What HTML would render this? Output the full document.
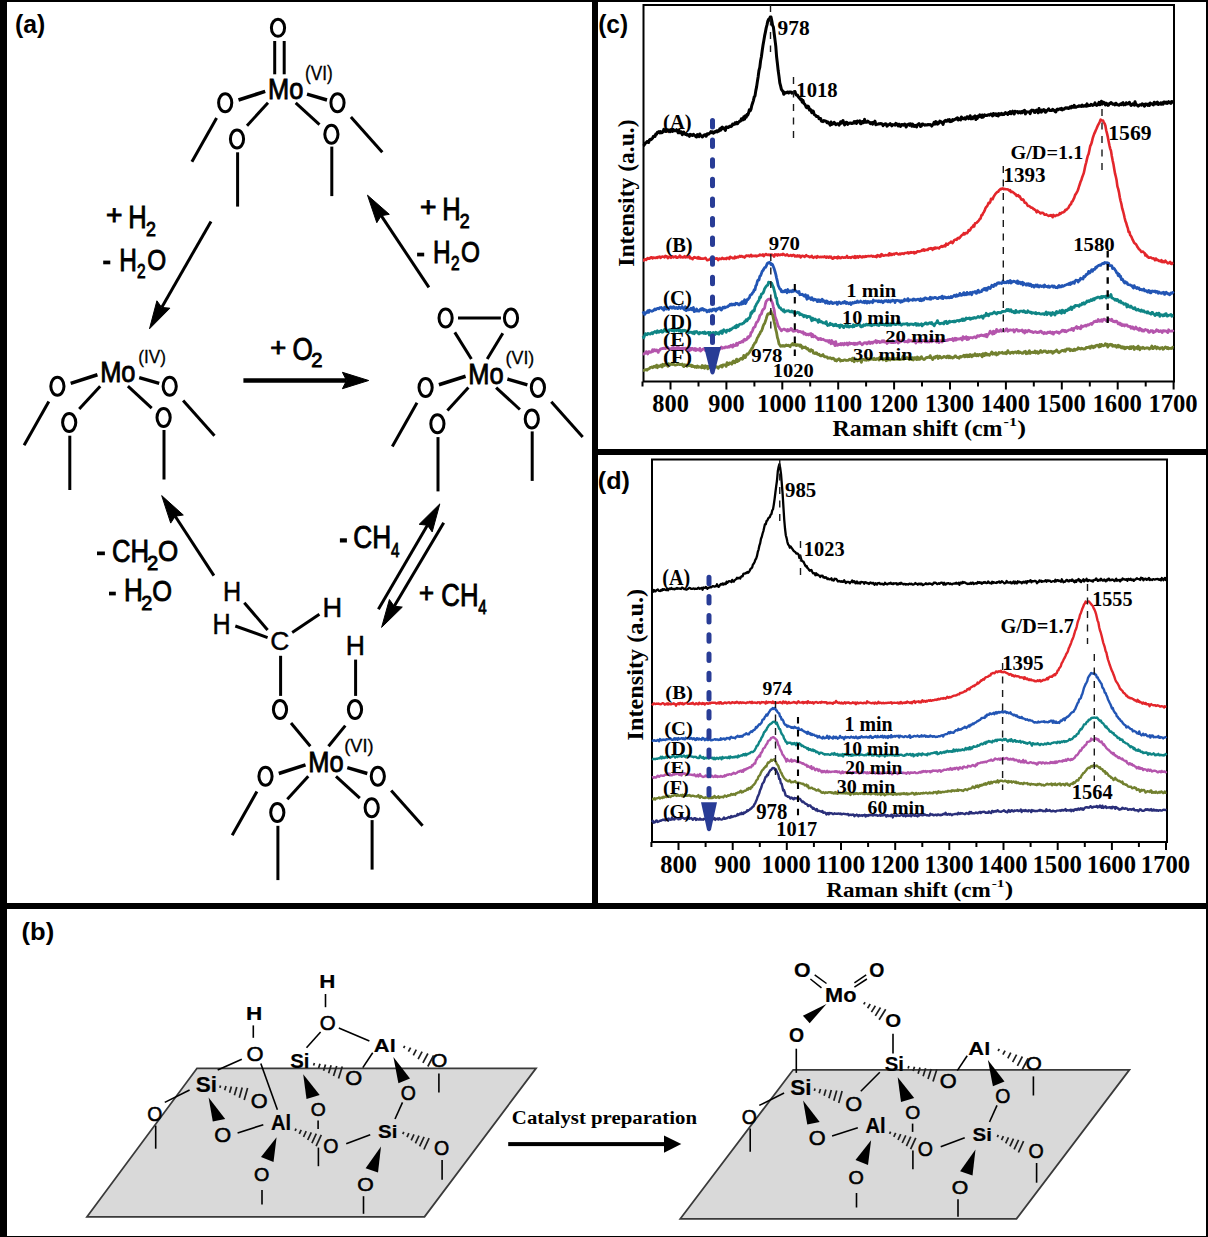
<!DOCTYPE html>
<html><head><meta charset="utf-8"><style>
html,body{margin:0;padding:0;background:#fff;width:1208px;height:1237px;overflow:hidden}
svg{display:block}
</style></head><body>
<svg width="1208" height="1237" viewBox="0 0 1208 1237">
<rect x="0" y="0" width="1208" height="1237" fill="#000"/>
<rect x="7" y="2" width="585" height="901" fill="#fff"/>
<rect x="598" y="2" width="608" height="447" fill="#fff"/>
<rect x="598" y="455" width="608" height="448" fill="#fff"/>
<rect x="7" y="909" width="1199" height="327" fill="#fff"/>
<text transform="translate(14.88,32.72) scale(0.986,1)" font-family="Liberation Sans" font-weight="bold" font-size="25.13" fill="#000" >(a)</text>
<text transform="translate(598.20,32.72) scale(0.975,1)" font-family="Liberation Sans" font-weight="bold" font-size="25.13" fill="#000" >(c)</text>
<text transform="translate(597.87,488.83) scale(1.022,1)" font-family="Liberation Sans" font-weight="bold" font-size="24.60" fill="#000" >(d)</text>
<text transform="translate(21.55,939.79) scale(1.030,1)" font-family="Liberation Sans" font-weight="bold" font-size="24.81" fill="#000" >(b)</text>
<rect x="643.5" y="5" width="530.5" height="376.5" fill="none" stroke="#000" stroke-width="2"/>
<line x1="642.5" y1="381.5" x2="642.5" y2="386.5" stroke="#000" stroke-width="2"/>
<line x1="670.5" y1="381.5" x2="670.5" y2="389.5" stroke="#000" stroke-width="2"/>
<line x1="698.5" y1="381.5" x2="698.5" y2="386.5" stroke="#000" stroke-width="2"/>
<line x1="726.4" y1="381.5" x2="726.4" y2="389.5" stroke="#000" stroke-width="2"/>
<line x1="754.4" y1="381.5" x2="754.4" y2="386.5" stroke="#000" stroke-width="2"/>
<line x1="782.3" y1="381.5" x2="782.3" y2="389.5" stroke="#000" stroke-width="2"/>
<line x1="810.2" y1="381.5" x2="810.2" y2="386.5" stroke="#000" stroke-width="2"/>
<line x1="838.2" y1="381.5" x2="838.2" y2="389.5" stroke="#000" stroke-width="2"/>
<line x1="866.1" y1="381.5" x2="866.1" y2="386.5" stroke="#000" stroke-width="2"/>
<line x1="894.1" y1="381.5" x2="894.1" y2="389.5" stroke="#000" stroke-width="2"/>
<line x1="922.0" y1="381.5" x2="922.0" y2="386.5" stroke="#000" stroke-width="2"/>
<line x1="950.0" y1="381.5" x2="950.0" y2="389.5" stroke="#000" stroke-width="2"/>
<line x1="978.0" y1="381.5" x2="978.0" y2="386.5" stroke="#000" stroke-width="2"/>
<line x1="1005.9" y1="381.5" x2="1005.9" y2="389.5" stroke="#000" stroke-width="2"/>
<line x1="1033.8" y1="381.5" x2="1033.8" y2="386.5" stroke="#000" stroke-width="2"/>
<line x1="1061.8" y1="381.5" x2="1061.8" y2="389.5" stroke="#000" stroke-width="2"/>
<line x1="1089.8" y1="381.5" x2="1089.8" y2="386.5" stroke="#000" stroke-width="2"/>
<line x1="1117.7" y1="381.5" x2="1117.7" y2="389.5" stroke="#000" stroke-width="2"/>
<line x1="1145.7" y1="381.5" x2="1145.7" y2="386.5" stroke="#000" stroke-width="2"/>
<line x1="1173.6" y1="381.5" x2="1173.6" y2="389.5" stroke="#000" stroke-width="2"/>
<text transform="translate(652.27,412.26) scale(0.998,1)" font-family="Liberation Serif" font-weight="bold" font-size="24.44" fill="#000" >800</text>
<text transform="translate(708.29,412.26) scale(0.994,1)" font-family="Liberation Serif" font-weight="bold" font-size="24.44" fill="#000" >900</text>
<text transform="translate(757.08,412.26) scale(1.009,1)" font-family="Liberation Serif" font-weight="bold" font-size="24.44" fill="#000" >1000</text>
<text transform="translate(812.92,412.26) scale(1.039,1)" font-family="Liberation Serif" font-weight="bold" font-size="24.44" fill="#000" >1100</text>
<text transform="translate(868.88,412.26) scale(1.009,1)" font-family="Liberation Serif" font-weight="bold" font-size="24.44" fill="#000" >1200</text>
<text transform="translate(924.78,412.26) scale(1.009,1)" font-family="Liberation Serif" font-weight="bold" font-size="24.44" fill="#000" >1300</text>
<text transform="translate(980.68,412.26) scale(1.009,1)" font-family="Liberation Serif" font-weight="bold" font-size="24.44" fill="#000" >1400</text>
<text transform="translate(1036.58,412.26) scale(1.009,1)" font-family="Liberation Serif" font-weight="bold" font-size="24.44" fill="#000" >1500</text>
<text transform="translate(1092.48,412.26) scale(1.009,1)" font-family="Liberation Serif" font-weight="bold" font-size="24.44" fill="#000" >1600</text>
<text transform="translate(1148.38,412.26) scale(1.009,1)" font-family="Liberation Serif" font-weight="bold" font-size="24.44" fill="#000" >1700</text>
<text transform="translate(832.44,435.50) scale(1.059,1)" font-family="Liberation Serif" font-weight="bold" font-size="22.60" fill="#000" >Raman shift (cm</text>
<text transform="translate(1003.54,425.90) scale(1.224,1)" font-family="Liberation Serif" font-weight="bold" font-size="13.18" fill="#000" >-1</text>
<text transform="translate(1017.20,435.07) scale(1.208,1)" font-family="Liberation Serif" font-weight="bold" font-size="21.98" fill="#000" >)</text>
<text transform="translate(633.98,266.71) rotate(-90) scale(1.051,1)" font-family="Liberation Serif" font-weight="bold" font-size="22.42">Intensity (a.u.)</text>
<g id="chartc">
<polyline fill="none" stroke="#000" stroke-width="3.0" stroke-linejoin="round" points="643.0,145.8 643.8,145.5 644.6,144.3 645.4,142.9 646.2,142.7 647.0,141.5 647.8,141.8 648.6,142.5 649.4,140.0 650.2,139.2 651.0,139.7 651.8,138.9 652.6,138.0 653.4,136.3 654.2,136.5 655.0,136.6 655.8,134.0 656.6,134.3 657.4,132.3 658.2,132.5 659.0,131.6 659.8,132.9 660.6,131.6 661.4,132.8 662.2,132.5 663.0,131.9 663.8,129.4 664.6,131.2 665.4,131.4 666.2,131.4 667.0,129.6 667.8,130.5 668.6,129.9 669.4,129.9 670.2,131.7 671.0,129.8 671.8,130.5 672.6,131.4 673.4,129.9 674.2,130.5 675.0,130.8 675.8,130.8 676.6,129.7 677.4,131.2 678.2,132.7 679.0,130.1 679.8,132.7 680.6,132.3 681.4,131.8 682.2,134.7 683.0,133.8 683.8,132.1 684.6,133.6 685.4,134.4 686.2,133.9 687.0,135.0 687.8,134.5 688.6,135.4 689.4,136.3 690.2,134.3 691.0,135.3 691.8,134.8 692.6,135.5 693.4,134.3 694.2,135.0 695.0,135.5 695.8,136.7 696.6,137.0 697.4,134.6 698.2,135.2 699.0,136.6 699.8,134.0 700.6,135.5 701.4,135.8 702.2,137.0 703.0,136.3 703.8,135.1 704.6,134.8 705.4,134.7 706.2,136.2 707.0,133.9 707.8,133.7 708.6,134.1 709.4,133.3 710.2,132.9 711.0,131.7 711.8,132.6 712.6,131.9 713.4,133.2 714.2,132.5 715.0,131.6 715.8,132.0 716.6,130.8 717.4,131.9 718.2,130.6 719.0,130.9 719.8,128.8 720.6,130.2 721.4,127.9 722.2,127.2 723.0,128.7 723.8,127.8 724.6,128.6 725.4,130.4 726.2,127.0 727.0,126.9 727.8,127.4 728.6,127.4 729.4,126.4 730.2,126.0 731.0,126.6 731.8,126.0 732.6,124.1 733.4,124.7 734.2,124.4 735.0,122.9 735.8,123.9 736.6,122.4 737.4,123.8 738.2,122.6 739.0,122.1 739.8,121.0 740.6,121.1 741.4,118.7 742.2,119.1 743.0,120.0 743.8,116.9 744.6,119.2 745.4,115.8 746.2,117.3 747.0,114.6 747.8,115.0 748.6,112.9 749.4,109.7 750.2,110.8 751.0,109.1 751.8,105.5 752.6,103.0 753.4,100.6 754.2,97.0 755.0,95.9 755.8,90.6 756.6,86.9 757.4,81.4 758.2,76.4 759.0,70.3 759.8,67.4 760.6,60.7 761.4,56.7 762.2,50.8 763.0,45.3 763.8,40.8 764.6,35.9 765.4,32.1 766.2,27.9 767.0,24.9 767.8,21.1 768.6,19.4 769.4,20.1 770.2,17.0 771.0,17.1 771.8,20.8 772.6,25.4 773.4,27.1 774.2,33.7 775.0,39.9 775.8,46.4 776.6,56.8 777.4,63.5 778.2,70.8 779.0,76.4 779.8,82.9 780.6,85.9 781.4,89.3 782.2,90.5 783.0,91.4 783.8,94.3 784.6,92.4 785.4,93.1 786.2,92.7 787.0,92.2 787.8,92.0 788.6,93.0 789.4,92.0 790.2,92.0 791.0,92.1 791.8,93.2 792.6,92.7 793.4,92.5 794.2,91.8 795.0,91.5 795.8,94.4 796.6,95.2 797.4,95.0 798.2,96.6 799.0,97.7 799.8,98.6 800.6,99.6 801.4,99.1 802.2,102.1 803.0,100.3 803.8,103.4 804.6,104.0 805.4,105.3 806.2,107.3 807.0,107.8 807.8,106.1 808.6,106.5 809.4,109.9 810.2,109.0 811.0,110.9 811.8,112.6 812.6,110.9 813.4,111.3 814.2,114.5 815.0,115.0 815.8,115.5 816.6,116.6 817.4,116.5 818.2,116.7 819.0,118.7 819.8,118.6 820.6,118.5 821.4,121.1 822.2,120.9 823.0,121.6 823.8,120.5 824.6,121.1 825.4,121.0 826.2,121.3 827.0,122.6 827.8,121.9 828.6,123.2 829.4,123.4 830.2,125.2 831.0,122.0 831.8,124.4 832.6,123.5 833.4,123.7 834.2,122.4 835.0,123.4 835.8,124.7 836.6,123.9 837.4,124.1 838.2,123.7 839.0,125.1 839.8,123.9 840.6,121.7 841.4,123.2 842.2,121.9 843.0,120.5 843.8,123.2 844.6,125.0 845.4,123.6 846.2,122.3 847.0,122.4 847.8,124.4 848.6,123.4 849.4,123.2 850.2,123.0 851.0,123.0 851.8,123.6 852.6,123.3 853.4,122.9 854.2,121.5 855.0,123.0 855.8,121.7 856.6,123.4 857.4,121.0 858.2,122.0 859.0,122.1 859.8,120.8 860.6,123.8 861.4,123.5 862.2,121.5 863.0,122.8 863.8,122.4 864.6,119.4 865.4,122.3 866.2,122.0 867.0,122.2 867.8,121.1 868.6,122.0 869.4,122.2 870.2,123.6 871.0,122.8 871.8,122.6 872.6,124.2 873.4,122.2 874.2,122.5 875.0,121.2 875.8,124.7 876.6,124.2 877.4,124.2 878.2,124.1 879.0,123.7 879.8,123.9 880.6,123.5 881.4,123.7 882.2,124.1 883.0,125.6 883.8,124.8 884.6,124.2 885.4,123.8 886.2,123.9 887.0,126.2 887.8,125.2 888.6,124.8 889.4,124.4 890.2,123.7 891.0,124.8 891.8,125.8 892.6,124.6 893.4,124.8 894.2,124.8 895.0,125.1 895.8,123.4 896.6,124.8 897.4,124.1 898.2,125.9 899.0,124.2 899.8,125.6 900.6,126.5 901.4,124.7 902.2,124.4 903.0,125.2 903.8,125.0 904.6,124.0 905.4,125.5 906.2,127.0 907.0,124.7 907.8,124.8 908.6,124.0 909.4,125.3 910.2,123.8 911.0,123.9 911.8,126.3 912.6,124.1 913.4,126.1 914.2,126.5 915.0,125.3 915.8,125.6 916.6,127.0 917.4,124.8 918.2,124.4 919.0,123.6 919.8,125.0 920.6,126.5 921.4,126.0 922.2,124.1 923.0,124.1 923.8,124.5 924.6,125.3 925.4,124.7 926.2,125.1 927.0,125.1 927.8,124.5 928.6,124.6 929.4,124.8 930.2,124.4 931.0,124.9 931.8,126.1 932.6,124.7 933.4,124.1 934.2,122.2 935.0,124.1 935.8,121.6 936.6,122.0 937.4,124.1 938.2,123.8 939.0,122.8 939.8,121.1 940.6,122.3 941.4,121.8 942.2,122.9 943.0,124.4 943.8,122.1 944.6,121.0 945.4,120.4 946.2,121.3 947.0,121.0 947.8,119.9 948.6,121.0 949.4,119.6 950.2,121.7 951.0,121.4 951.8,121.3 952.6,119.6 953.4,120.4 954.2,119.7 955.0,119.3 955.8,119.2 956.6,118.1 957.4,117.8 958.2,120.0 959.0,118.9 959.8,119.2 960.6,119.9 961.4,117.0 962.2,117.9 963.0,118.7 963.8,118.8 964.6,117.9 965.4,119.2 966.2,118.3 967.0,116.8 967.8,117.0 968.6,118.6 969.4,118.2 970.2,115.7 971.0,118.9 971.8,118.0 972.6,118.7 973.4,116.8 974.2,116.8 975.0,115.9 975.8,119.5 976.6,116.7 977.4,118.4 978.2,116.0 979.0,116.7 979.8,114.8 980.6,116.0 981.4,117.3 982.2,115.0 983.0,117.2 983.8,116.4 984.6,114.9 985.4,115.4 986.2,115.3 987.0,115.6 987.8,115.1 988.6,114.7 989.4,115.1 990.2,114.3 991.0,114.0 991.8,115.1 992.6,116.0 993.4,113.5 994.2,114.9 995.0,114.2 995.8,113.8 996.6,115.5 997.4,114.0 998.2,116.0 999.0,113.6 999.8,114.7 1000.6,114.0 1001.4,113.4 1002.2,114.6 1003.0,113.8 1003.8,114.5 1004.6,113.8 1005.4,112.6 1006.2,113.5 1007.0,113.6 1007.8,114.4 1008.6,112.5 1009.4,113.3 1010.2,111.5 1011.0,113.8 1011.8,112.0 1012.6,111.2 1013.4,112.9 1014.2,114.0 1015.0,111.3 1015.8,111.7 1016.6,111.9 1017.4,111.5 1018.2,112.9 1019.0,111.7 1019.8,111.7 1020.6,113.0 1021.4,111.6 1022.2,112.7 1023.0,111.2 1023.8,110.9 1024.6,110.3 1025.4,113.9 1026.2,111.7 1027.0,112.2 1027.8,111.9 1028.6,112.0 1029.4,111.9 1030.2,113.7 1031.0,110.7 1031.8,110.1 1032.6,110.6 1033.4,110.3 1034.2,112.3 1035.0,112.4 1035.8,110.5 1036.6,110.1 1037.4,111.1 1038.2,112.8 1039.0,108.5 1039.8,111.8 1040.6,110.2 1041.4,112.2 1042.2,110.1 1043.0,110.8 1043.8,109.6 1044.6,110.0 1045.4,112.3 1046.2,111.7 1047.0,110.5 1047.8,109.9 1048.6,108.8 1049.4,110.3 1050.2,110.6 1051.0,110.5 1051.8,110.4 1052.6,109.3 1053.4,110.3 1054.2,110.2 1055.0,111.5 1055.8,112.0 1056.6,109.9 1057.4,109.1 1058.2,109.7 1059.0,109.1 1059.8,108.8 1060.6,109.4 1061.4,108.3 1062.2,109.9 1063.0,109.0 1063.8,109.3 1064.6,108.7 1065.4,108.0 1066.2,107.7 1067.0,108.3 1067.8,107.8 1068.6,108.5 1069.4,108.1 1070.2,106.7 1071.0,108.0 1071.8,106.4 1072.6,107.0 1073.4,107.2 1074.2,105.3 1075.0,107.3 1075.8,107.3 1076.6,106.9 1077.4,106.5 1078.2,106.4 1079.0,105.7 1079.8,106.3 1080.6,105.9 1081.4,106.4 1082.2,105.0 1083.0,106.3 1083.8,106.2 1084.6,105.8 1085.4,105.4 1086.2,106.2 1087.0,103.9 1087.8,105.9 1088.6,105.6 1089.4,105.5 1090.2,105.5 1091.0,104.3 1091.8,104.6 1092.6,105.4 1093.4,105.0 1094.2,104.7 1095.0,102.9 1095.8,104.8 1096.6,105.4 1097.4,105.1 1098.2,104.2 1099.0,102.4 1099.8,104.8 1100.6,103.6 1101.4,101.2 1102.2,104.1 1103.0,102.2 1103.8,102.3 1104.6,103.0 1105.4,104.9 1106.2,103.2 1107.0,103.9 1107.8,105.4 1108.6,105.2 1109.4,103.6 1110.2,103.5 1111.0,102.5 1111.8,103.1 1112.6,104.2 1113.4,104.2 1114.2,104.0 1115.0,104.9 1115.8,103.2 1116.6,103.9 1117.4,104.8 1118.2,104.7 1119.0,105.2 1119.8,104.6 1120.6,103.9 1121.4,104.6 1122.2,103.3 1123.0,102.7 1123.8,104.9 1124.6,104.3 1125.4,104.7 1126.2,102.7 1127.0,104.1 1127.8,103.9 1128.6,103.6 1129.4,102.2 1130.2,104.2 1131.0,105.4 1131.8,104.9 1132.6,103.9 1133.4,104.5 1134.2,105.2 1135.0,101.7 1135.8,104.3 1136.6,105.0 1137.4,105.1 1138.2,106.1 1139.0,105.5 1139.8,104.7 1140.6,104.7 1141.4,105.1 1142.2,103.8 1143.0,104.3 1143.8,105.2 1144.6,106.2 1145.4,104.0 1146.2,104.1 1147.0,104.3 1147.8,105.4 1148.6,104.0 1149.4,105.5 1150.2,103.0 1151.0,103.8 1151.8,103.7 1152.6,104.6 1153.4,104.9 1154.2,102.3 1155.0,102.8 1155.8,104.0 1156.6,102.9 1157.4,102.0 1158.2,104.5 1159.0,103.9 1159.8,103.9 1160.6,102.8 1161.4,104.3 1162.2,102.9 1163.0,104.2 1163.8,102.1 1164.6,102.1 1165.4,103.1 1166.2,102.1 1167.0,103.4 1167.8,102.9 1168.6,101.7 1169.4,102.6 1170.2,102.1 1171.0,103.3 1171.8,101.6 1172.6,101.7 1173.4,103.3"/>
<polyline fill="none" stroke="#e3262b" stroke-width="2.6" stroke-linejoin="round" points="643.0,260.7 643.8,260.5 644.6,259.3 645.4,259.2 646.2,259.9 647.0,258.8 647.8,258.1 648.6,258.7 649.4,258.8 650.2,257.9 651.0,257.3 651.8,257.3 652.6,258.4 653.4,257.5 654.2,257.8 655.0,257.9 655.8,258.0 656.6,257.4 657.4,257.8 658.2,256.9 659.0,257.1 659.8,256.6 660.6,257.9 661.4,257.1 662.2,256.6 663.0,256.8 663.8,256.8 664.6,257.3 665.4,255.9 666.2,256.2 667.0,256.5 667.8,258.2 668.6,257.3 669.4,256.6 670.2,257.1 671.0,257.9 671.8,256.5 672.6,256.4 673.4,257.3 674.2,256.9 675.0,257.0 675.8,256.3 676.6,257.8 677.4,257.7 678.2,257.1 679.0,257.2 679.8,255.6 680.6,257.3 681.4,256.8 682.2,257.2 683.0,257.5 683.8,256.9 684.6,256.2 685.4,257.5 686.2,256.9 687.0,257.2 687.8,257.1 688.6,257.3 689.4,256.2 690.2,258.4 691.0,257.9 691.8,258.5 692.6,259.1 693.4,258.0 694.2,257.0 695.0,257.6 695.8,257.5 696.6,258.0 697.4,258.4 698.2,257.2 699.0,258.7 699.8,257.7 700.6,258.8 701.4,258.6 702.2,258.6 703.0,258.7 703.8,258.5 704.6,258.5 705.4,257.9 706.2,258.9 707.0,260.1 707.8,260.2 708.6,259.8 709.4,259.4 710.2,258.6 711.0,259.9 711.8,258.9 712.6,258.9 713.4,258.8 714.2,259.0 715.0,258.6 715.8,258.8 716.6,258.2 717.4,258.6 718.2,260.1 719.0,258.7 719.8,258.6 720.6,259.0 721.4,259.0 722.2,257.9 723.0,258.4 723.8,259.0 724.6,258.6 725.4,258.4 726.2,259.2 727.0,257.8 727.8,258.2 728.6,257.8 729.4,258.9 730.2,256.8 731.0,257.5 731.8,257.5 732.6,258.1 733.4,258.0 734.2,258.4 735.0,256.6 735.8,257.9 736.6,257.2 737.4,256.9 738.2,257.5 739.0,256.6 739.8,255.8 740.6,256.7 741.4,256.0 742.2,256.4 743.0,257.0 743.8,256.8 744.6,257.5 745.4,256.4 746.2,255.5 747.0,255.9 747.8,255.7 748.6,255.5 749.4,256.4 750.2,255.7 751.0,254.8 751.8,256.3 752.6,255.8 753.4,256.0 754.2,255.8 755.0,256.1 755.8,255.6 756.6,256.3 757.4,255.8 758.2,255.7 759.0,255.6 759.8,254.5 760.6,255.2 761.4,255.1 762.2,255.4 763.0,254.4 763.8,256.1 764.6,255.2 765.4,254.4 766.2,254.0 767.0,254.9 767.8,255.0 768.6,254.6 769.4,255.1 770.2,254.6 771.0,255.3 771.8,254.6 772.6,255.0 773.4,255.6 774.2,256.6 775.0,254.4 775.8,254.8 776.6,254.5 777.4,255.5 778.2,254.4 779.0,254.8 779.8,255.1 780.6,254.5 781.4,254.6 782.2,254.9 783.0,253.9 783.8,254.4 784.6,255.0 785.4,255.4 786.2,255.2 787.0,254.3 787.8,255.1 788.6,255.9 789.4,255.8 790.2,255.4 791.0,255.0 791.8,255.9 792.6,255.2 793.4,254.9 794.2,255.2 795.0,256.5 795.8,255.8 796.6,256.4 797.4,255.5 798.2,256.4 799.0,255.5 799.8,255.8 800.6,257.4 801.4,256.4 802.2,255.7 803.0,256.0 803.8,256.3 804.6,256.9 805.4,255.9 806.2,255.2 807.0,256.1 807.8,256.3 808.6,256.4 809.4,257.2 810.2,256.6 811.0,257.0 811.8,255.9 812.6,257.1 813.4,257.9 814.2,257.1 815.0,256.8 815.8,256.8 816.6,257.8 817.4,256.2 818.2,256.8 819.0,257.1 819.8,257.3 820.6,256.7 821.4,257.2 822.2,256.8 823.0,257.1 823.8,257.0 824.6,256.4 825.4,257.1 826.2,257.7 827.0,256.6 827.8,257.1 828.6,257.6 829.4,256.6 830.2,257.4 831.0,256.6 831.8,258.0 832.6,258.7 833.4,258.5 834.2,257.2 835.0,257.8 835.8,257.4 836.6,257.4 837.4,258.3 838.2,256.6 839.0,258.0 839.8,257.4 840.6,258.2 841.4,257.5 842.2,257.0 843.0,257.5 843.8,257.8 844.6,257.4 845.4,257.6 846.2,257.0 847.0,256.0 847.8,257.8 848.6,257.7 849.4,257.4 850.2,257.3 851.0,257.8 851.8,256.9 852.6,256.7 853.4,257.0 854.2,257.8 855.0,256.2 855.8,257.8 856.6,256.6 857.4,256.3 858.2,257.7 859.0,256.8 859.8,256.1 860.6,256.6 861.4,257.3 862.2,257.4 863.0,256.4 863.8,256.9 864.6,257.0 865.4,256.2 866.2,256.7 867.0,256.4 867.8,256.1 868.6,256.0 869.4,256.3 870.2,256.2 871.0,255.8 871.8,255.9 872.6,256.7 873.4,256.1 874.2,256.5 875.0,256.6 875.8,256.2 876.6,257.1 877.4,255.2 878.2,256.1 879.0,255.4 879.8,256.6 880.6,256.5 881.4,254.2 882.2,254.7 883.0,255.6 883.8,255.6 884.6,255.5 885.4,255.0 886.2,255.2 887.0,255.3 887.8,254.8 888.6,255.4 889.4,253.3 890.2,255.0 891.0,253.9 891.8,255.0 892.6,254.2 893.4,253.8 894.2,254.5 895.0,253.6 895.8,253.5 896.6,253.1 897.4,253.9 898.2,254.2 899.0,254.4 899.8,253.6 900.6,254.3 901.4,253.6 902.2,253.4 903.0,253.8 903.8,254.0 904.6,253.0 905.4,253.0 906.2,253.0 907.0,253.0 907.8,252.4 908.6,253.4 909.4,252.5 910.2,252.9 911.0,252.0 911.8,252.6 912.6,252.5 913.4,252.0 914.2,253.3 915.0,252.2 915.8,252.9 916.6,252.3 917.4,251.2 918.2,251.3 919.0,251.7 919.8,251.3 920.6,251.2 921.4,250.8 922.2,249.8 923.0,250.6 923.8,249.3 924.6,250.7 925.4,249.9 926.2,249.7 927.0,249.9 927.8,250.0 928.6,248.8 929.4,248.5 930.2,248.7 931.0,248.0 931.8,248.5 932.6,249.8 933.4,248.1 934.2,248.9 935.0,247.5 935.8,248.3 936.6,247.8 937.4,247.7 938.2,247.9 939.0,248.4 939.8,247.3 940.6,247.0 941.4,246.1 942.2,246.8 943.0,246.0 943.8,246.4 944.6,245.5 945.4,246.3 946.2,243.7 947.0,244.4 947.8,244.7 948.6,243.6 949.4,242.9 950.2,242.8 951.0,241.7 951.8,242.2 952.6,243.1 953.4,241.9 954.2,240.1 955.0,239.8 955.8,239.6 956.6,239.9 957.4,238.3 958.2,237.9 959.0,238.4 959.8,237.8 960.6,236.6 961.4,235.6 962.2,234.8 963.0,234.7 963.8,233.2 964.6,234.4 965.4,233.0 966.2,233.1 967.0,233.3 967.8,232.2 968.6,230.1 969.4,230.6 970.2,230.1 971.0,228.2 971.8,227.3 972.6,227.1 973.4,225.4 974.2,226.4 975.0,223.2 975.8,223.2 976.6,222.8 977.4,221.9 978.2,221.2 979.0,220.2 979.8,218.9 980.6,218.5 981.4,215.3 982.2,215.2 983.0,213.2 983.8,212.2 984.6,210.7 985.4,208.4 986.2,207.0 987.0,206.4 987.8,204.7 988.6,202.8 989.4,203.2 990.2,202.2 991.0,198.9 991.8,198.9 992.6,199.2 993.4,197.2 994.2,195.8 995.0,194.6 995.8,193.5 996.6,192.8 997.4,191.8 998.2,191.8 999.0,190.4 999.8,189.8 1000.6,188.9 1001.4,189.2 1002.2,188.4 1003.0,188.6 1003.8,189.3 1004.6,188.9 1005.4,189.1 1006.2,189.2 1007.0,189.3 1007.8,189.5 1008.6,189.8 1009.4,190.8 1010.2,190.2 1011.0,192.1 1011.8,191.9 1012.6,191.9 1013.4,192.7 1014.2,193.1 1015.0,194.2 1015.8,194.3 1016.6,196.0 1017.4,195.4 1018.2,195.1 1019.0,196.6 1019.8,196.4 1020.6,198.2 1021.4,199.5 1022.2,199.9 1023.0,199.4 1023.8,200.4 1024.6,202.6 1025.4,202.5 1026.2,203.1 1027.0,204.4 1027.8,206.0 1028.6,206.0 1029.4,206.0 1030.2,206.9 1031.0,207.7 1031.8,207.6 1032.6,207.9 1033.4,209.1 1034.2,209.0 1035.0,210.0 1035.8,210.5 1036.6,212.3 1037.4,210.7 1038.2,211.6 1039.0,211.9 1039.8,212.7 1040.6,213.4 1041.4,212.8 1042.2,213.0 1043.0,212.8 1043.8,213.6 1044.6,214.8 1045.4,214.8 1046.2,214.4 1047.0,215.0 1047.8,215.5 1048.6,216.0 1049.4,215.5 1050.2,215.8 1051.0,215.0 1051.8,215.5 1052.6,217.2 1053.4,214.9 1054.2,215.9 1055.0,216.1 1055.8,215.6 1056.6,215.1 1057.4,215.3 1058.2,215.0 1059.0,214.6 1059.8,213.2 1060.6,213.8 1061.4,212.9 1062.2,212.5 1063.0,212.4 1063.8,212.0 1064.6,211.4 1065.4,209.8 1066.2,209.9 1067.0,209.2 1067.8,208.4 1068.6,207.6 1069.4,205.7 1070.2,204.7 1071.0,204.2 1071.8,201.6 1072.6,201.3 1073.4,199.4 1074.2,197.9 1075.0,195.3 1075.8,194.0 1076.6,192.7 1077.4,191.3 1078.2,189.3 1079.0,186.5 1079.8,184.3 1080.6,181.6 1081.4,180.0 1082.2,177.2 1083.0,175.1 1083.8,173.1 1084.6,169.2 1085.4,165.3 1086.2,162.5 1087.0,158.9 1087.8,155.7 1088.6,154.0 1089.4,150.2 1090.2,146.2 1091.0,144.6 1091.8,142.3 1092.6,138.7 1093.4,136.1 1094.2,133.9 1095.0,132.1 1095.8,130.2 1096.6,128.5 1097.4,126.6 1098.2,124.8 1099.0,123.4 1099.8,121.7 1100.6,119.6 1101.4,120.1 1102.2,120.5 1103.0,120.6 1103.8,122.5 1104.6,123.5 1105.4,125.7 1106.2,130.3 1107.0,133.4 1107.8,136.9 1108.6,141.2 1109.4,145.2 1110.2,148.6 1111.0,150.9 1111.8,156.0 1112.6,160.2 1113.4,163.9 1114.2,168.7 1115.0,173.4 1115.8,176.5 1116.6,180.3 1117.4,186.3 1118.2,188.9 1119.0,192.4 1119.8,197.2 1120.6,201.0 1121.4,204.0 1122.2,208.4 1123.0,211.0 1123.8,214.0 1124.6,217.7 1125.4,221.0 1126.2,222.9 1127.0,226.0 1127.8,228.1 1128.6,232.0 1129.4,231.9 1130.2,235.1 1131.0,236.0 1131.8,237.6 1132.6,239.7 1133.4,241.2 1134.2,242.8 1135.0,243.5 1135.8,244.1 1136.6,245.2 1137.4,246.9 1138.2,247.9 1139.0,249.3 1139.8,249.6 1140.6,250.8 1141.4,251.9 1142.2,251.8 1143.0,251.6 1143.8,252.5 1144.6,253.0 1145.4,255.5 1146.2,254.6 1147.0,256.4 1147.8,256.6 1148.6,257.7 1149.4,257.7 1150.2,257.4 1151.0,257.6 1151.8,258.1 1152.6,258.5 1153.4,258.3 1154.2,258.9 1155.0,260.2 1155.8,258.5 1156.6,259.9 1157.4,259.5 1158.2,260.4 1159.0,261.0 1159.8,260.7 1160.6,261.4 1161.4,260.2 1162.2,262.1 1163.0,261.2 1163.8,262.1 1164.6,262.1 1165.4,260.6 1166.2,261.8 1167.0,262.5 1167.8,263.4 1168.6,262.8 1169.4,262.9 1170.2,261.9 1171.0,263.7 1171.8,264.0 1172.6,263.0 1173.4,262.8"/>
<polyline fill="none" stroke="#2255b4" stroke-width="2.8" stroke-linejoin="round" points="643.0,311.4 643.8,313.3 644.6,314.5 645.4,312.7 646.2,313.0 647.0,312.2 647.8,310.8 648.6,312.4 649.4,310.2 650.2,310.8 651.0,311.0 651.8,311.3 652.6,310.8 653.4,310.6 654.2,309.5 655.0,308.9 655.8,309.8 656.6,309.0 657.4,308.4 658.2,308.3 659.0,308.8 659.8,307.6 660.6,307.8 661.4,307.5 662.2,308.8 663.0,308.9 663.8,310.1 664.6,307.2 665.4,307.8 666.2,309.0 667.0,308.0 667.8,307.8 668.6,309.4 669.4,307.7 670.2,307.0 671.0,306.9 671.8,308.2 672.6,308.2 673.4,306.8 674.2,307.1 675.0,308.4 675.8,308.4 676.6,307.5 677.4,308.5 678.2,308.5 679.0,306.7 679.8,307.9 680.6,308.5 681.4,307.8 682.2,306.6 683.0,308.1 683.8,309.0 684.6,309.8 685.4,306.8 686.2,310.7 687.0,307.8 687.8,309.6 688.6,309.9 689.4,309.7 690.2,309.2 691.0,308.2 691.8,309.7 692.6,308.7 693.4,307.4 694.2,311.7 695.0,310.1 695.8,311.1 696.6,309.0 697.4,310.9 698.2,311.1 699.0,311.1 699.8,309.9 700.6,309.1 701.4,309.9 702.2,308.4 703.0,308.8 703.8,310.3 704.6,309.5 705.4,310.2 706.2,310.2 707.0,311.9 707.8,311.4 708.6,310.3 709.4,311.4 710.2,309.7 711.0,310.1 711.8,311.0 712.6,309.2 713.4,309.9 714.2,308.9 715.0,309.9 715.8,311.0 716.6,308.9 717.4,309.5 718.2,308.4 719.0,308.0 719.8,307.7 720.6,309.6 721.4,310.1 722.2,308.4 723.0,307.2 723.8,308.1 724.6,307.0 725.4,307.7 726.2,307.0 727.0,306.8 727.8,306.8 728.6,305.6 729.4,305.5 730.2,304.2 731.0,305.1 731.8,304.1 732.6,304.9 733.4,304.1 734.2,304.8 735.0,304.9 735.8,303.2 736.6,303.5 737.4,303.3 738.2,304.4 739.0,305.0 739.8,304.2 740.6,303.0 741.4,304.2 742.2,301.6 743.0,303.7 743.8,301.7 744.6,299.7 745.4,303.6 746.2,302.3 747.0,299.6 747.8,299.8 748.6,298.6 749.4,297.8 750.2,295.3 751.0,294.7 751.8,294.3 752.6,292.7 753.4,292.0 754.2,289.7 755.0,289.9 755.8,285.8 756.6,284.8 757.4,281.2 758.2,279.8 759.0,280.0 759.8,276.3 760.6,275.7 761.4,273.6 762.2,271.3 763.0,270.5 763.8,269.0 764.6,267.7 765.4,267.5 766.2,266.2 767.0,264.1 767.8,262.9 768.6,263.0 769.4,262.2 770.2,262.9 771.0,264.5 771.8,263.9 772.6,264.8 773.4,266.8 774.2,268.8 775.0,271.5 775.8,274.4 776.6,278.1 777.4,281.4 778.2,285.5 779.0,287.2 779.8,289.0 780.6,289.1 781.4,291.7 782.2,290.9 783.0,291.9 783.8,291.1 784.6,291.7 785.4,290.3 786.2,291.1 787.0,292.7 787.8,289.5 788.6,291.5 789.4,291.9 790.2,290.9 791.0,291.2 791.8,291.7 792.6,290.3 793.4,291.3 794.2,290.3 795.0,290.7 795.8,290.9 796.6,291.5 797.4,292.0 798.2,292.6 799.0,291.5 799.8,294.7 800.6,294.5 801.4,294.6 802.2,294.2 803.0,294.9 803.8,295.9 804.6,296.2 805.4,294.8 806.2,297.1 807.0,299.2 807.8,295.6 808.6,298.3 809.4,298.0 810.2,297.9 811.0,299.5 811.8,297.6 812.6,299.0 813.4,300.4 814.2,299.2 815.0,299.3 815.8,300.0 816.6,299.8 817.4,301.6 818.2,299.8 819.0,301.4 819.8,299.9 820.6,301.6 821.4,301.1 822.2,299.2 823.0,301.4 823.8,300.7 824.6,301.3 825.4,303.0 826.2,300.9 827.0,301.1 827.8,303.2 828.6,302.2 829.4,303.5 830.2,302.6 831.0,301.7 831.8,302.4 832.6,303.6 833.4,303.4 834.2,302.7 835.0,302.8 835.8,302.7 836.6,302.3 837.4,304.4 838.2,302.9 839.0,302.0 839.8,302.5 840.6,303.5 841.4,303.4 842.2,302.8 843.0,302.3 843.8,302.9 844.6,301.5 845.4,301.8 846.2,303.5 847.0,302.4 847.8,303.1 848.6,303.8 849.4,303.3 850.2,302.8 851.0,304.5 851.8,303.2 852.6,302.4 853.4,303.2 854.2,303.0 855.0,301.9 855.8,302.6 856.6,302.4 857.4,300.9 858.2,302.3 859.0,302.2 859.8,302.0 860.6,301.0 861.4,302.0 862.2,302.3 863.0,302.3 863.8,301.3 864.6,302.7 865.4,301.1 866.2,301.9 867.0,303.1 867.8,301.5 868.6,301.6 869.4,302.8 870.2,301.6 871.0,301.6 871.8,302.0 872.6,302.7 873.4,300.0 874.2,301.0 875.0,300.9 875.8,300.8 876.6,300.9 877.4,300.9 878.2,301.8 879.0,300.8 879.8,301.6 880.6,301.8 881.4,300.8 882.2,301.5 883.0,302.7 883.8,301.6 884.6,300.8 885.4,301.2 886.2,300.5 887.0,301.4 887.8,301.9 888.6,300.5 889.4,300.9 890.2,302.0 891.0,300.6 891.8,301.1 892.6,300.1 893.4,300.3 894.2,300.5 895.0,302.6 895.8,300.5 896.6,300.4 897.4,300.3 898.2,300.6 899.0,301.2 899.8,300.8 900.6,302.3 901.4,300.8 902.2,301.7 903.0,300.7 903.8,301.0 904.6,299.3 905.4,300.3 906.2,300.3 907.0,300.1 907.8,298.6 908.6,301.0 909.4,299.9 910.2,299.8 911.0,299.9 911.8,299.9 912.6,300.4 913.4,299.0 914.2,299.2 915.0,300.1 915.8,300.0 916.6,299.5 917.4,299.3 918.2,299.1 919.0,299.6 919.8,300.6 920.6,298.7 921.4,300.7 922.2,300.2 923.0,299.1 923.8,300.0 924.6,298.1 925.4,297.9 926.2,298.2 927.0,298.8 927.8,298.8 928.6,298.6 929.4,299.0 930.2,297.2 931.0,299.2 931.8,297.6 932.6,298.2 933.4,298.3 934.2,297.6 935.0,297.4 935.8,297.6 936.6,298.3 937.4,298.7 938.2,298.6 939.0,297.3 939.8,297.4 940.6,297.2 941.4,298.2 942.2,296.1 943.0,298.6 943.8,297.1 944.6,296.8 945.4,297.6 946.2,298.0 947.0,297.4 947.8,297.9 948.6,297.0 949.4,297.8 950.2,297.7 951.0,296.5 951.8,297.6 952.6,296.5 953.4,296.3 954.2,295.3 955.0,295.7 955.8,296.5 956.6,294.7 957.4,296.1 958.2,295.7 959.0,295.5 959.8,293.4 960.6,295.0 961.4,295.4 962.2,294.2 963.0,294.7 963.8,292.6 964.6,294.9 965.4,293.7 966.2,294.7 967.0,292.4 967.8,294.3 968.6,293.4 969.4,294.1 970.2,292.5 971.0,292.6 971.8,294.7 972.6,292.1 973.4,292.1 974.2,292.2 975.0,291.5 975.8,293.1 976.6,293.3 977.4,291.2 978.2,290.2 979.0,292.3 979.8,292.1 980.6,291.6 981.4,291.7 982.2,289.8 983.0,290.0 983.8,288.8 984.6,288.4 985.4,290.0 986.2,288.3 987.0,290.3 987.8,288.2 988.6,287.3 989.4,288.0 990.2,288.5 991.0,287.0 991.8,285.3 992.6,286.2 993.4,286.6 994.2,284.8 995.0,284.2 995.8,285.3 996.6,284.3 997.4,283.0 998.2,283.3 999.0,282.7 999.8,283.3 1000.6,282.9 1001.4,283.5 1002.2,283.0 1003.0,281.0 1003.8,282.5 1004.6,282.8 1005.4,282.4 1006.2,282.8 1007.0,281.6 1007.8,281.3 1008.6,282.8 1009.4,281.2 1010.2,280.4 1011.0,283.0 1011.8,281.6 1012.6,282.0 1013.4,281.2 1014.2,281.4 1015.0,281.6 1015.8,282.3 1016.6,283.0 1017.4,280.9 1018.2,283.5 1019.0,282.0 1019.8,282.2 1020.6,283.7 1021.4,283.2 1022.2,282.2 1023.0,285.0 1023.8,283.0 1024.6,284.0 1025.4,284.1 1026.2,285.2 1027.0,283.8 1027.8,285.1 1028.6,283.8 1029.4,285.5 1030.2,284.1 1031.0,284.5 1031.8,286.5 1032.6,285.3 1033.4,285.3 1034.2,287.1 1035.0,285.7 1035.8,284.9 1036.6,286.3 1037.4,284.9 1038.2,286.8 1039.0,287.0 1039.8,285.7 1040.6,285.7 1041.4,286.5 1042.2,286.4 1043.0,285.7 1043.8,287.0 1044.6,285.0 1045.4,286.4 1046.2,286.5 1047.0,286.6 1047.8,287.1 1048.6,285.9 1049.4,287.4 1050.2,286.8 1051.0,286.5 1051.8,285.9 1052.6,286.0 1053.4,287.2 1054.2,286.1 1055.0,286.9 1055.8,287.6 1056.6,287.5 1057.4,287.8 1058.2,286.2 1059.0,285.4 1059.8,287.0 1060.6,286.2 1061.4,286.7 1062.2,285.6 1063.0,286.4 1063.8,285.9 1064.6,285.5 1065.4,285.1 1066.2,284.8 1067.0,284.4 1067.8,284.2 1068.6,284.5 1069.4,283.1 1070.2,284.6 1071.0,282.8 1071.8,283.4 1072.6,282.3 1073.4,281.9 1074.2,283.4 1075.0,281.3 1075.8,280.2 1076.6,280.4 1077.4,280.4 1078.2,282.0 1079.0,280.1 1079.8,280.3 1080.6,278.3 1081.4,278.9 1082.2,278.7 1083.0,279.0 1083.8,276.5 1084.6,276.9 1085.4,276.1 1086.2,274.4 1087.0,274.6 1087.8,273.7 1088.6,271.4 1089.4,273.1 1090.2,272.4 1091.0,270.9 1091.8,269.6 1092.6,271.2 1093.4,269.5 1094.2,269.5 1095.0,269.2 1095.8,267.1 1096.6,267.6 1097.4,266.2 1098.2,265.8 1099.0,265.3 1099.8,265.0 1100.6,265.4 1101.4,264.3 1102.2,263.7 1103.0,263.4 1103.8,263.7 1104.6,262.5 1105.4,262.7 1106.2,263.1 1107.0,262.7 1107.8,263.3 1108.6,263.2 1109.4,265.7 1110.2,265.7 1111.0,265.6 1111.8,265.9 1112.6,268.5 1113.4,267.9 1114.2,268.5 1115.0,269.8 1115.8,270.9 1116.6,272.8 1117.4,272.8 1118.2,275.6 1119.0,274.3 1119.8,276.6 1120.6,276.3 1121.4,279.6 1122.2,278.9 1123.0,280.1 1123.8,281.8 1124.6,282.9 1125.4,281.7 1126.2,283.0 1127.0,282.7 1127.8,284.4 1128.6,284.7 1129.4,284.8 1130.2,284.9 1131.0,285.5 1131.8,285.6 1132.6,286.9 1133.4,288.0 1134.2,285.6 1135.0,287.3 1135.8,287.4 1136.6,288.4 1137.4,287.5 1138.2,288.5 1139.0,288.0 1139.8,289.7 1140.6,289.4 1141.4,289.5 1142.2,290.1 1143.0,289.8 1143.8,289.0 1144.6,290.9 1145.4,290.9 1146.2,290.7 1147.0,291.8 1147.8,292.1 1148.6,290.4 1149.4,290.8 1150.2,292.8 1151.0,292.8 1151.8,291.2 1152.6,291.0 1153.4,291.5 1154.2,291.7 1155.0,290.9 1155.8,292.3 1156.6,291.3 1157.4,291.5 1158.2,293.2 1159.0,292.0 1159.8,292.6 1160.6,293.2 1161.4,293.4 1162.2,292.6 1163.0,293.0 1163.8,292.3 1164.6,294.4 1165.4,293.6 1166.2,292.3 1167.0,293.2 1167.8,293.8 1168.6,293.7 1169.4,294.8 1170.2,294.4 1171.0,292.9 1171.8,293.3 1172.6,292.4 1173.4,293.6"/>
<polyline fill="none" stroke="#0f8585" stroke-width="2.8" stroke-linejoin="round" points="643.0,336.0 643.8,337.9 644.6,335.6 645.4,333.6 646.2,334.5 647.0,334.8 647.8,333.5 648.6,333.6 649.4,333.8 650.2,334.1 651.0,333.5 651.8,332.7 652.6,333.8 653.4,332.5 654.2,332.4 655.0,331.5 655.8,331.8 656.6,332.7 657.4,330.7 658.2,331.8 659.0,332.3 659.8,331.2 660.6,331.6 661.4,330.4 662.2,332.2 663.0,331.9 663.8,331.1 664.6,329.4 665.4,329.8 666.2,331.4 667.0,331.9 667.8,330.7 668.6,331.4 669.4,329.8 670.2,330.1 671.0,330.2 671.8,330.6 672.6,329.0 673.4,331.0 674.2,331.3 675.0,329.3 675.8,329.2 676.6,330.6 677.4,329.8 678.2,328.5 679.0,331.1 679.8,330.6 680.6,330.2 681.4,332.3 682.2,330.8 683.0,330.2 683.8,331.0 684.6,330.2 685.4,330.5 686.2,331.5 687.0,330.8 687.8,331.0 688.6,332.8 689.4,332.3 690.2,332.4 691.0,332.2 691.8,332.3 692.6,333.2 693.4,332.1 694.2,333.7 695.0,331.6 695.8,332.2 696.6,331.4 697.4,332.4 698.2,333.2 699.0,334.0 699.8,332.4 700.6,333.0 701.4,332.8 702.2,332.6 703.0,332.3 703.8,333.3 704.6,331.9 705.4,333.5 706.2,333.4 707.0,332.9 707.8,332.7 708.6,332.4 709.4,335.0 710.2,332.4 711.0,334.7 711.8,333.9 712.6,333.1 713.4,332.4 714.2,334.1 715.0,334.5 715.8,332.3 716.6,332.7 717.4,333.7 718.2,333.0 719.0,334.1 719.8,331.9 720.6,332.6 721.4,331.0 722.2,333.5 723.0,331.0 723.8,329.6 724.6,331.0 725.4,330.8 726.2,332.2 727.0,330.1 727.8,330.1 728.6,330.3 729.4,330.8 730.2,329.1 731.0,329.7 731.8,329.0 732.6,328.0 733.4,327.9 734.2,327.5 735.0,326.4 735.8,327.7 736.6,325.2 737.4,326.9 738.2,326.3 739.0,325.0 739.8,324.1 740.6,324.1 741.4,324.2 742.2,323.9 743.0,323.1 743.8,323.2 744.6,321.5 745.4,321.6 746.2,319.6 747.0,320.8 747.8,319.5 748.6,318.1 749.4,318.3 750.2,316.7 751.0,312.6 751.8,313.5 752.6,310.9 753.4,311.4 754.2,310.9 755.0,306.9 755.8,305.7 756.6,303.8 757.4,302.7 758.2,301.3 759.0,300.2 759.8,296.9 760.6,297.5 761.4,294.1 762.2,293.7 763.0,293.1 763.8,291.4 764.6,288.7 765.4,287.5 766.2,286.3 767.0,285.3 767.8,285.1 768.6,282.2 769.4,282.8 770.2,282.6 771.0,282.7 771.8,283.4 772.6,285.8 773.4,287.2 774.2,290.3 775.0,293.3 775.8,297.7 776.6,298.1 777.4,303.7 778.2,305.1 779.0,307.1 779.8,307.9 780.6,308.0 781.4,309.7 782.2,309.7 783.0,310.9 783.8,309.6 784.6,312.1 785.4,311.3 786.2,311.1 787.0,310.8 787.8,310.9 788.6,310.7 789.4,311.3 790.2,311.9 791.0,311.9 791.8,311.0 792.6,312.1 793.4,311.7 794.2,312.8 795.0,314.3 795.8,313.5 796.6,313.0 797.4,312.2 798.2,312.6 799.0,312.6 799.8,314.8 800.6,313.9 801.4,314.8 802.2,314.6 803.0,315.4 803.8,316.8 804.6,315.4 805.4,316.0 806.2,315.9 807.0,317.5 807.8,316.3 808.6,316.5 809.4,316.6 810.2,316.9 811.0,318.7 811.8,320.7 812.6,318.1 813.4,320.0 814.2,319.7 815.0,318.9 815.8,319.9 816.6,320.2 817.4,320.1 818.2,322.4 819.0,319.6 819.8,321.7 820.6,321.9 821.4,321.4 822.2,322.2 823.0,323.0 823.8,322.6 824.6,323.1 825.4,323.5 826.2,321.6 827.0,324.6 827.8,325.5 828.6,324.7 829.4,325.0 830.2,323.2 831.0,324.5 831.8,324.1 832.6,324.5 833.4,325.9 834.2,324.7 835.0,325.4 835.8,324.1 836.6,325.6 837.4,325.9 838.2,325.3 839.0,325.4 839.8,327.5 840.6,325.0 841.4,325.2 842.2,325.3 843.0,326.9 843.8,327.6 844.6,326.2 845.4,325.4 846.2,325.6 847.0,326.8 847.8,325.2 848.6,327.0 849.4,327.0 850.2,325.9 851.0,326.3 851.8,326.4 852.6,327.0 853.4,324.8 854.2,326.6 855.0,325.3 855.8,325.0 856.6,325.6 857.4,325.3 858.2,324.7 859.0,324.2 859.8,324.6 860.6,326.5 861.4,326.9 862.2,325.8 863.0,326.2 863.8,324.8 864.6,325.1 865.4,325.4 866.2,324.2 867.0,324.3 867.8,325.1 868.6,324.7 869.4,324.1 870.2,325.2 871.0,324.7 871.8,325.7 872.6,324.8 873.4,324.5 874.2,324.9 875.0,324.6 875.8,324.2 876.6,324.4 877.4,325.2 878.2,325.1 879.0,325.6 879.8,323.2 880.6,324.3 881.4,324.2 882.2,324.7 883.0,324.2 883.8,324.1 884.6,325.1 885.4,324.6 886.2,323.5 887.0,325.5 887.8,325.2 888.6,324.0 889.4,325.1 890.2,323.8 891.0,325.3 891.8,324.2 892.6,323.7 893.4,324.1 894.2,323.7 895.0,324.5 895.8,324.5 896.6,324.4 897.4,323.9 898.2,321.4 899.0,324.4 899.8,322.8 900.6,324.5 901.4,325.2 902.2,324.5 903.0,323.9 903.8,324.1 904.6,324.1 905.4,323.8 906.2,323.7 907.0,323.5 907.8,325.1 908.6,324.2 909.4,324.9 910.2,324.0 911.0,324.2 911.8,324.0 912.6,324.5 913.4,324.8 914.2,324.3 915.0,323.6 915.8,323.5 916.6,325.4 917.4,323.8 918.2,323.8 919.0,325.2 919.8,324.9 920.6,324.4 921.4,323.7 922.2,325.9 923.0,324.3 923.8,324.4 924.6,323.8 925.4,322.8 926.2,322.8 927.0,324.2 927.8,324.1 928.6,323.6 929.4,322.8 930.2,322.6 931.0,323.5 931.8,322.5 932.6,324.4 933.4,324.5 934.2,325.8 935.0,324.2 935.8,323.0 936.6,322.7 937.4,320.6 938.2,322.8 939.0,323.1 939.8,323.9 940.6,323.5 941.4,323.4 942.2,323.1 943.0,323.3 943.8,323.9 944.6,321.8 945.4,322.2 946.2,321.3 947.0,323.6 947.8,323.3 948.6,322.7 949.4,321.1 950.2,322.0 951.0,321.6 951.8,321.7 952.6,321.4 953.4,321.9 954.2,321.0 955.0,321.9 955.8,321.3 956.6,320.7 957.4,320.7 958.2,320.4 959.0,321.2 959.8,320.2 960.6,320.6 961.4,319.9 962.2,318.9 963.0,320.6 963.8,318.9 964.6,320.2 965.4,319.8 966.2,318.0 967.0,318.5 967.8,318.7 968.6,318.3 969.4,317.9 970.2,319.3 971.0,318.3 971.8,318.7 972.6,317.9 973.4,318.4 974.2,317.4 975.0,317.8 975.8,318.2 976.6,317.6 977.4,317.1 978.2,316.4 979.0,317.3 979.8,317.3 980.6,316.6 981.4,316.0 982.2,316.9 983.0,318.2 983.8,315.8 984.6,316.1 985.4,315.9 986.2,313.3 987.0,315.3 987.8,314.4 988.6,315.8 989.4,314.2 990.2,313.6 991.0,313.8 991.8,313.9 992.6,313.1 993.4,313.2 994.2,312.0 995.0,312.6 995.8,313.2 996.6,314.0 997.4,312.8 998.2,312.3 999.0,312.8 999.8,312.5 1000.6,312.9 1001.4,312.3 1002.2,311.3 1003.0,311.5 1003.8,311.4 1004.6,311.4 1005.4,311.3 1006.2,310.5 1007.0,309.4 1007.8,310.6 1008.6,309.5 1009.4,311.2 1010.2,311.2 1011.0,309.8 1011.8,311.8 1012.6,311.9 1013.4,311.4 1014.2,312.7 1015.0,312.9 1015.8,310.4 1016.6,312.3 1017.4,311.9 1018.2,311.9 1019.0,312.4 1019.8,311.1 1020.6,311.2 1021.4,311.1 1022.2,311.2 1023.0,311.8 1023.8,310.8 1024.6,311.2 1025.4,312.6 1026.2,312.1 1027.0,312.5 1027.8,310.8 1028.6,311.7 1029.4,312.0 1030.2,312.5 1031.0,312.1 1031.8,313.4 1032.6,312.7 1033.4,312.8 1034.2,312.8 1035.0,313.5 1035.8,312.6 1036.6,313.9 1037.4,313.4 1038.2,313.3 1039.0,313.2 1039.8,313.7 1040.6,314.1 1041.4,314.1 1042.2,313.7 1043.0,314.1 1043.8,313.6 1044.6,314.5 1045.4,313.5 1046.2,311.9 1047.0,314.7 1047.8,313.7 1048.6,312.7 1049.4,313.5 1050.2,313.0 1051.0,315.4 1051.8,314.1 1052.6,312.4 1053.4,314.1 1054.2,313.2 1055.0,315.0 1055.8,312.5 1056.6,311.4 1057.4,313.1 1058.2,312.6 1059.0,312.4 1059.8,310.8 1060.6,312.6 1061.4,313.3 1062.2,310.2 1063.0,312.4 1063.8,310.7 1064.6,312.8 1065.4,310.9 1066.2,310.1 1067.0,310.8 1067.8,310.1 1068.6,308.8 1069.4,309.6 1070.2,308.3 1071.0,306.9 1071.8,309.6 1072.6,307.4 1073.4,306.9 1074.2,307.4 1075.0,305.6 1075.8,305.4 1076.6,305.8 1077.4,305.5 1078.2,305.7 1079.0,306.3 1079.8,304.7 1080.6,305.2 1081.4,305.0 1082.2,303.3 1083.0,304.0 1083.8,302.7 1084.6,304.0 1085.4,303.1 1086.2,302.4 1087.0,300.9 1087.8,301.7 1088.6,300.7 1089.4,301.5 1090.2,300.5 1091.0,299.6 1091.8,300.6 1092.6,300.1 1093.4,298.7 1094.2,299.8 1095.0,298.3 1095.8,298.0 1096.6,298.0 1097.4,297.1 1098.2,297.1 1099.0,297.1 1099.8,298.2 1100.6,298.0 1101.4,296.4 1102.2,297.7 1103.0,296.3 1103.8,296.5 1104.6,296.8 1105.4,296.3 1106.2,298.0 1107.0,296.3 1107.8,295.2 1108.6,297.3 1109.4,296.1 1110.2,296.4 1111.0,294.5 1111.8,298.0 1112.6,298.2 1113.4,298.6 1114.2,299.1 1115.0,300.1 1115.8,299.2 1116.6,300.4 1117.4,299.5 1118.2,300.3 1119.0,302.0 1119.8,301.9 1120.6,301.0 1121.4,302.9 1122.2,302.9 1123.0,302.9 1123.8,304.3 1124.6,304.1 1125.4,303.6 1126.2,304.3 1127.0,307.0 1127.8,304.7 1128.6,306.4 1129.4,307.0 1130.2,307.3 1131.0,306.1 1131.8,307.2 1132.6,307.9 1133.4,308.7 1134.2,307.8 1135.0,307.7 1135.8,309.8 1136.6,310.1 1137.4,309.8 1138.2,309.3 1139.0,310.4 1139.8,310.5 1140.6,311.3 1141.4,309.9 1142.2,311.3 1143.0,311.3 1143.8,310.8 1144.6,312.1 1145.4,312.2 1146.2,312.0 1147.0,312.9 1147.8,311.6 1148.6,312.9 1149.4,313.4 1150.2,313.5 1151.0,314.2 1151.8,312.5 1152.6,312.4 1153.4,313.9 1154.2,314.2 1155.0,315.6 1155.8,314.4 1156.6,313.3 1157.4,314.7 1158.2,313.5 1159.0,313.1 1159.8,316.4 1160.6,314.6 1161.4,315.0 1162.2,315.0 1163.0,316.0 1163.8,314.8 1164.6,315.6 1165.4,313.9 1166.2,313.7 1167.0,316.0 1167.8,316.0 1168.6,315.3 1169.4,315.1 1170.2,315.1 1171.0,314.4 1171.8,316.2 1172.6,315.5 1173.4,315.4"/>
<polyline fill="none" stroke="#b455ac" stroke-width="2.8" stroke-linejoin="round" points="643.0,353.6 643.8,354.0 644.6,353.4 645.4,353.4 646.2,351.6 647.0,352.8 647.8,353.9 648.6,351.6 649.4,351.7 650.2,352.3 651.0,352.2 651.8,351.7 652.6,349.7 653.4,351.3 654.2,349.7 655.0,349.8 655.8,350.8 656.6,349.9 657.4,350.7 658.2,352.4 659.0,350.4 659.8,350.2 660.6,348.8 661.4,348.8 662.2,348.4 663.0,348.7 663.8,348.1 664.6,348.4 665.4,348.7 666.2,347.9 667.0,347.5 667.8,347.5 668.6,348.9 669.4,348.6 670.2,349.3 671.0,349.3 671.8,348.1 672.6,348.9 673.4,347.3 674.2,350.2 675.0,349.4 675.8,348.3 676.6,347.5 677.4,348.8 678.2,347.0 679.0,347.9 679.8,349.2 680.6,348.7 681.4,348.2 682.2,349.4 683.0,347.9 683.8,349.0 684.6,348.4 685.4,348.2 686.2,349.3 687.0,348.2 687.8,350.5 688.6,348.6 689.4,350.7 690.2,348.3 691.0,349.7 691.8,348.3 692.6,348.3 693.4,349.5 694.2,350.0 695.0,348.5 695.8,350.5 696.6,349.0 697.4,349.8 698.2,350.0 699.0,350.2 699.8,348.4 700.6,351.1 701.4,350.3 702.2,349.6 703.0,349.1 703.8,348.6 704.6,348.9 705.4,350.5 706.2,349.8 707.0,349.2 707.8,349.7 708.6,351.3 709.4,349.8 710.2,349.6 711.0,351.1 711.8,350.4 712.6,350.0 713.4,349.5 714.2,348.6 715.0,348.9 715.8,349.3 716.6,349.5 717.4,349.8 718.2,349.9 719.0,349.5 719.8,349.3 720.6,348.2 721.4,347.1 722.2,348.3 723.0,347.7 723.8,347.8 724.6,347.9 725.4,346.9 726.2,346.8 727.0,347.4 727.8,347.3 728.6,346.4 729.4,347.1 730.2,346.2 731.0,345.3 731.8,345.9 732.6,347.1 733.4,344.7 734.2,345.9 735.0,345.7 735.8,345.5 736.6,343.3 737.4,345.2 738.2,343.3 739.0,342.7 739.8,342.3 740.6,342.6 741.4,341.7 742.2,341.2 743.0,341.9 743.8,339.9 744.6,339.2 745.4,340.2 746.2,339.6 747.0,339.3 747.8,336.9 748.6,337.7 749.4,336.2 750.2,336.1 751.0,332.5 751.8,332.3 752.6,330.5 753.4,328.0 754.2,327.2 755.0,327.0 755.8,324.1 756.6,322.3 757.4,321.9 758.2,320.4 759.0,318.7 759.8,315.7 760.6,314.7 761.4,314.0 762.2,311.2 763.0,309.5 763.8,309.1 764.6,308.0 765.4,304.0 766.2,301.2 767.0,300.5 767.8,299.5 768.6,299.2 769.4,299.4 770.2,298.9 771.0,299.4 771.8,301.7 772.6,303.3 773.4,307.0 774.2,310.0 775.0,316.2 775.8,318.4 776.6,320.5 777.4,323.3 778.2,326.2 779.0,327.0 779.8,328.8 780.6,329.3 781.4,330.8 782.2,329.8 783.0,329.5 783.8,329.1 784.6,329.2 785.4,330.0 786.2,329.9 787.0,331.0 787.8,329.5 788.6,330.9 789.4,330.2 790.2,330.0 791.0,328.4 791.8,329.0 792.6,330.7 793.4,331.3 794.2,330.5 795.0,331.1 795.8,330.3 796.6,330.4 797.4,330.4 798.2,331.9 799.0,331.6 799.8,331.3 800.6,331.5 801.4,332.4 802.2,332.5 803.0,331.8 803.8,334.1 804.6,333.2 805.4,333.3 806.2,334.8 807.0,334.7 807.8,334.1 808.6,334.9 809.4,333.9 810.2,334.6 811.0,333.6 811.8,336.7 812.6,334.5 813.4,336.9 814.2,336.0 815.0,336.2 815.8,337.1 816.6,337.7 817.4,338.3 818.2,339.5 819.0,338.6 819.8,339.3 820.6,338.4 821.4,339.7 822.2,339.5 823.0,339.2 823.8,339.8 824.6,340.1 825.4,340.6 826.2,341.0 827.0,340.6 827.8,340.7 828.6,342.2 829.4,340.5 830.2,341.7 831.0,343.7 831.8,340.5 832.6,342.4 833.4,343.7 834.2,342.1 835.0,345.7 835.8,341.7 836.6,345.1 837.4,345.3 838.2,344.9 839.0,344.1 839.8,344.6 840.6,343.6 841.4,344.9 842.2,343.4 843.0,344.0 843.8,345.0 844.6,343.3 845.4,343.9 846.2,344.3 847.0,343.1 847.8,345.0 848.6,344.3 849.4,342.8 850.2,343.9 851.0,343.3 851.8,343.3 852.6,343.9 853.4,343.2 854.2,344.5 855.0,343.1 855.8,344.4 856.6,343.5 857.4,344.1 858.2,343.0 859.0,342.9 859.8,342.3 860.6,343.7 861.4,343.9 862.2,344.8 863.0,344.0 863.8,343.1 864.6,342.7 865.4,343.1 866.2,342.7 867.0,343.9 867.8,343.4 868.6,341.9 869.4,342.0 870.2,343.5 871.0,342.6 871.8,342.2 872.6,343.2 873.4,341.9 874.2,342.0 875.0,341.8 875.8,340.6 876.6,342.8 877.4,341.1 878.2,341.6 879.0,341.4 879.8,342.6 880.6,341.9 881.4,342.0 882.2,340.6 883.0,341.8 883.8,340.7 884.6,342.1 885.4,342.2 886.2,341.8 887.0,343.5 887.8,342.2 888.6,342.3 889.4,341.9 890.2,341.6 891.0,342.5 891.8,342.6 892.6,340.7 893.4,342.6 894.2,342.1 895.0,342.5 895.8,342.1 896.6,340.7 897.4,340.7 898.2,343.1 899.0,341.9 899.8,340.5 900.6,341.9 901.4,341.4 902.2,340.2 903.0,339.8 903.8,340.3 904.6,341.8 905.4,341.6 906.2,341.4 907.0,341.8 907.8,342.1 908.6,339.9 909.4,341.3 910.2,340.9 911.0,340.5 911.8,341.1 912.6,341.4 913.4,341.3 914.2,340.3 915.0,341.1 915.8,343.1 916.6,340.6 917.4,340.1 918.2,341.7 919.0,341.9 919.8,341.8 920.6,340.5 921.4,342.2 922.2,340.7 923.0,340.4 923.8,340.8 924.6,341.2 925.4,341.9 926.2,341.8 927.0,341.2 927.8,342.0 928.6,341.3 929.4,341.9 930.2,340.0 931.0,339.9 931.8,341.7 932.6,340.0 933.4,340.8 934.2,340.9 935.0,340.6 935.8,340.6 936.6,342.0 937.4,338.8 938.2,341.5 939.0,342.6 939.8,340.7 940.6,340.6 941.4,341.1 942.2,342.0 943.0,339.5 943.8,340.4 944.6,340.2 945.4,340.7 946.2,340.3 947.0,340.6 947.8,339.7 948.6,340.0 949.4,339.3 950.2,339.3 951.0,339.6 951.8,339.5 952.6,338.6 953.4,340.7 954.2,339.3 955.0,338.2 955.8,340.1 956.6,338.5 957.4,339.4 958.2,338.9 959.0,339.0 959.8,338.9 960.6,338.2 961.4,338.6 962.2,340.1 963.0,336.6 963.8,338.3 964.6,338.5 965.4,337.2 966.2,336.8 967.0,339.6 967.8,337.4 968.6,339.3 969.4,337.9 970.2,337.5 971.0,337.7 971.8,337.7 972.6,338.0 973.4,337.3 974.2,337.0 975.0,336.9 975.8,337.7 976.6,337.2 977.4,335.6 978.2,335.8 979.0,336.4 979.8,335.5 980.6,335.6 981.4,334.9 982.2,335.3 983.0,335.7 983.8,335.9 984.6,334.9 985.4,336.4 986.2,334.4 987.0,336.8 987.8,334.8 988.6,334.2 989.4,333.2 990.2,331.1 991.0,332.9 991.8,333.0 992.6,334.1 993.4,331.2 994.2,333.6 995.0,331.7 995.8,332.3 996.6,329.4 997.4,331.4 998.2,330.8 999.0,331.5 999.8,330.8 1000.6,329.7 1001.4,331.2 1002.2,330.9 1003.0,330.8 1003.8,331.0 1004.6,331.0 1005.4,330.1 1006.2,329.0 1007.0,329.0 1007.8,331.2 1008.6,330.7 1009.4,330.2 1010.2,329.8 1011.0,330.2 1011.8,330.2 1012.6,330.0 1013.4,329.7 1014.2,332.0 1015.0,330.5 1015.8,329.9 1016.6,329.4 1017.4,329.9 1018.2,331.1 1019.0,331.2 1019.8,330.5 1020.6,330.7 1021.4,330.5 1022.2,329.9 1023.0,331.9 1023.8,331.2 1024.6,333.0 1025.4,330.5 1026.2,331.0 1027.0,331.9 1027.8,331.1 1028.6,330.2 1029.4,330.6 1030.2,331.5 1031.0,331.8 1031.8,331.5 1032.6,332.4 1033.4,332.5 1034.2,332.0 1035.0,331.8 1035.8,331.7 1036.6,332.4 1037.4,332.7 1038.2,332.1 1039.0,332.5 1039.8,331.9 1040.6,331.1 1041.4,331.5 1042.2,332.9 1043.0,332.7 1043.8,333.7 1044.6,332.5 1045.4,333.1 1046.2,333.5 1047.0,333.3 1047.8,332.1 1048.6,332.4 1049.4,332.7 1050.2,331.8 1051.0,333.0 1051.8,333.4 1052.6,332.2 1053.4,334.1 1054.2,332.3 1055.0,332.3 1055.8,332.2 1056.6,331.7 1057.4,332.5 1058.2,332.1 1059.0,333.3 1059.8,332.3 1060.6,332.1 1061.4,331.3 1062.2,330.2 1063.0,331.1 1063.8,330.3 1064.6,331.6 1065.4,330.6 1066.2,331.8 1067.0,330.8 1067.8,330.7 1068.6,330.0 1069.4,329.8 1070.2,329.9 1071.0,329.9 1071.8,328.4 1072.6,329.1 1073.4,330.6 1074.2,328.3 1075.0,327.9 1075.8,327.4 1076.6,326.6 1077.4,328.5 1078.2,327.4 1079.0,327.4 1079.8,328.4 1080.6,328.7 1081.4,325.8 1082.2,327.1 1083.0,326.5 1083.8,326.1 1084.6,325.9 1085.4,325.2 1086.2,326.2 1087.0,325.2 1087.8,324.7 1088.6,325.1 1089.4,324.5 1090.2,323.9 1091.0,323.5 1091.8,324.4 1092.6,323.2 1093.4,322.4 1094.2,321.5 1095.0,321.7 1095.8,320.9 1096.6,321.6 1097.4,321.5 1098.2,319.5 1099.0,320.9 1099.8,321.3 1100.6,320.7 1101.4,319.7 1102.2,321.4 1103.0,319.7 1103.8,319.2 1104.6,319.2 1105.4,320.0 1106.2,320.8 1107.0,321.0 1107.8,320.3 1108.6,319.2 1109.4,319.8 1110.2,319.7 1111.0,320.4 1111.8,319.3 1112.6,321.1 1113.4,321.7 1114.2,321.3 1115.0,322.1 1115.8,321.2 1116.6,321.1 1117.4,322.1 1118.2,323.8 1119.0,324.0 1119.8,323.1 1120.6,324.8 1121.4,323.9 1122.2,325.6 1123.0,325.1 1123.8,324.7 1124.6,325.9 1125.4,324.9 1126.2,325.0 1127.0,324.9 1127.8,326.4 1128.6,326.4 1129.4,326.6 1130.2,326.5 1131.0,328.2 1131.8,326.9 1132.6,326.9 1133.4,328.7 1134.2,329.1 1135.0,328.4 1135.8,327.0 1136.6,328.1 1137.4,329.3 1138.2,329.0 1139.0,330.4 1139.8,328.3 1140.6,330.1 1141.4,329.3 1142.2,331.0 1143.0,330.1 1143.8,331.1 1144.6,329.9 1145.4,329.5 1146.2,329.9 1147.0,330.4 1147.8,330.2 1148.6,332.1 1149.4,332.3 1150.2,331.5 1151.0,330.5 1151.8,331.3 1152.6,330.8 1153.4,332.6 1154.2,331.6 1155.0,331.8 1155.8,331.1 1156.6,329.8 1157.4,330.8 1158.2,330.5 1159.0,331.7 1159.8,331.5 1160.6,330.7 1161.4,331.1 1162.2,332.6 1163.0,330.6 1163.8,330.6 1164.6,331.2 1165.4,330.8 1166.2,331.0 1167.0,331.7 1167.8,332.6 1168.6,329.8 1169.4,331.2 1170.2,331.2 1171.0,331.1 1171.8,331.0 1172.6,330.8 1173.4,331.9"/>
<polyline fill="none" stroke="#72802f" stroke-width="2.8" stroke-linejoin="round" points="643.0,370.3 643.8,370.4 644.6,370.2 645.4,370.0 646.2,369.5 647.0,370.2 647.8,369.1 648.6,369.0 649.4,368.6 650.2,367.5 651.0,367.4 651.8,367.0 652.6,367.8 653.4,366.8 654.2,366.3 655.0,367.1 655.8,367.1 656.6,365.1 657.4,367.7 658.2,366.1 659.0,365.8 659.8,366.6 660.6,365.6 661.4,364.9 662.2,367.0 663.0,364.3 663.8,364.9 664.6,365.5 665.4,363.9 666.2,364.6 667.0,364.9 667.8,366.4 668.6,363.7 669.4,364.3 670.2,364.8 671.0,364.3 671.8,363.3 672.6,364.5 673.4,364.3 674.2,364.6 675.0,365.1 675.8,365.1 676.6,364.6 677.4,364.6 678.2,363.5 679.0,364.3 679.8,364.7 680.6,364.3 681.4,364.7 682.2,364.1 683.0,366.0 683.8,366.6 684.6,364.7 685.4,365.4 686.2,365.0 687.0,366.3 687.8,365.7 688.6,365.6 689.4,365.4 690.2,365.8 691.0,365.0 691.8,366.5 692.6,365.5 693.4,366.6 694.2,366.3 695.0,367.2 695.8,366.4 696.6,367.4 697.4,365.9 698.2,367.2 699.0,366.7 699.8,367.1 700.6,367.1 701.4,367.8 702.2,365.5 703.0,367.5 703.8,366.1 704.6,368.3 705.4,365.8 706.2,366.6 707.0,366.1 707.8,368.8 708.6,366.5 709.4,367.6 710.2,367.1 711.0,366.0 711.8,367.2 712.6,367.9 713.4,367.2 714.2,368.0 715.0,366.9 715.8,367.1 716.6,366.7 717.4,367.2 718.2,368.3 719.0,366.9 719.8,366.6 720.6,365.8 721.4,365.5 722.2,367.1 723.0,364.9 723.8,364.8 724.6,365.2 725.4,364.8 726.2,366.4 727.0,362.7 727.8,364.6 728.6,364.6 729.4,362.9 730.2,363.0 731.0,363.6 731.8,364.2 732.6,361.8 733.4,361.0 734.2,362.7 735.0,362.8 735.8,360.9 736.6,359.1 737.4,361.6 738.2,359.9 739.0,360.6 739.8,359.3 740.6,358.6 741.4,358.1 742.2,359.2 743.0,358.7 743.8,355.4 744.6,355.9 745.4,357.6 746.2,355.4 747.0,354.0 747.8,354.3 748.6,353.3 749.4,352.4 750.2,350.9 751.0,349.9 751.8,348.4 752.6,347.7 753.4,345.3 754.2,344.2 755.0,342.7 755.8,342.3 756.6,339.9 757.4,337.8 758.2,336.7 759.0,334.9 759.8,333.9 760.6,331.8 761.4,331.2 762.2,329.3 763.0,326.5 763.8,324.4 764.6,323.6 765.4,321.3 766.2,318.9 767.0,315.9 767.8,313.9 768.6,314.2 769.4,313.4 770.2,312.8 771.0,311.3 771.8,314.1 772.6,314.8 773.4,318.5 774.2,322.1 775.0,325.3 775.8,329.7 776.6,332.7 777.4,337.5 778.2,339.9 779.0,343.9 779.8,345.0 780.6,346.4 781.4,346.2 782.2,345.4 783.0,346.2 783.8,345.5 784.6,346.3 785.4,346.0 786.2,344.9 787.0,345.6 787.8,345.6 788.6,345.2 789.4,346.1 790.2,346.7 791.0,345.0 791.8,344.9 792.6,343.4 793.4,345.0 794.2,344.8 795.0,343.4 795.8,345.4 796.6,345.7 797.4,344.7 798.2,345.2 799.0,344.9 799.8,346.4 800.6,344.9 801.4,346.1 802.2,348.2 803.0,347.0 803.8,347.6 804.6,347.5 805.4,347.0 806.2,348.3 807.0,349.1 807.8,348.4 808.6,349.9 809.4,351.0 810.2,351.3 811.0,349.6 811.8,350.5 812.6,350.4 813.4,353.0 814.2,353.1 815.0,353.6 815.8,352.7 816.6,352.8 817.4,354.2 818.2,354.6 819.0,354.1 819.8,355.3 820.6,355.9 821.4,355.9 822.2,355.1 823.0,354.5 823.8,356.2 824.6,356.8 825.4,356.7 826.2,356.8 827.0,356.9 827.8,358.2 828.6,357.9 829.4,358.2 830.2,357.6 831.0,358.1 831.8,358.9 832.6,358.2 833.4,358.2 834.2,359.1 835.0,360.5 835.8,359.8 836.6,360.9 837.4,359.7 838.2,359.7 839.0,358.8 839.8,359.5 840.6,361.1 841.4,360.3 842.2,360.6 843.0,360.6 843.8,360.0 844.6,359.8 845.4,360.1 846.2,360.5 847.0,360.3 847.8,360.4 848.6,360.1 849.4,359.3 850.2,359.7 851.0,359.2 851.8,360.7 852.6,358.2 853.4,359.7 854.2,361.8 855.0,359.6 855.8,359.0 856.6,359.8 857.4,360.9 858.2,359.7 859.0,360.3 859.8,359.9 860.6,359.5 861.4,362.3 862.2,359.8 863.0,359.3 863.8,359.3 864.6,360.0 865.4,360.0 866.2,360.3 867.0,359.8 867.8,358.5 868.6,360.1 869.4,359.4 870.2,359.4 871.0,358.4 871.8,359.1 872.6,359.0 873.4,359.5 874.2,358.3 875.0,359.5 875.8,359.6 876.6,358.6 877.4,358.9 878.2,358.7 879.0,360.1 879.8,357.4 880.6,359.1 881.4,358.0 882.2,359.0 883.0,360.0 883.8,358.8 884.6,359.4 885.4,358.6 886.2,360.8 887.0,359.9 887.8,360.1 888.6,358.1 889.4,358.3 890.2,360.0 891.0,358.9 891.8,358.9 892.6,359.3 893.4,358.0 894.2,359.6 895.0,359.0 895.8,359.3 896.6,358.4 897.4,359.3 898.2,358.3 899.0,359.6 899.8,359.7 900.6,359.5 901.4,359.2 902.2,359.2 903.0,356.5 903.8,359.3 904.6,358.4 905.4,358.7 906.2,358.4 907.0,357.5 907.8,358.1 908.6,359.0 909.4,359.6 910.2,357.9 911.0,357.7 911.8,359.5 912.6,357.6 913.4,360.0 914.2,358.3 915.0,357.6 915.8,359.0 916.6,359.6 917.4,357.0 918.2,359.4 919.0,357.9 919.8,359.3 920.6,357.7 921.4,356.7 922.2,358.4 923.0,358.7 923.8,359.6 924.6,359.3 925.4,358.4 926.2,357.6 927.0,357.4 927.8,357.5 928.6,357.1 929.4,357.5 930.2,355.6 931.0,357.8 931.8,357.6 932.6,359.6 933.4,358.1 934.2,357.1 935.0,357.9 935.8,356.4 936.6,356.9 937.4,355.9 938.2,358.5 939.0,357.8 939.8,356.3 940.6,357.2 941.4,358.0 942.2,357.6 943.0,357.4 943.8,356.4 944.6,356.6 945.4,357.1 946.2,357.7 947.0,356.3 947.8,356.0 948.6,357.8 949.4,356.1 950.2,357.7 951.0,357.0 951.8,357.4 952.6,358.1 953.4,357.2 954.2,357.3 955.0,355.9 955.8,356.0 956.6,357.0 957.4,357.7 958.2,357.6 959.0,358.3 959.8,356.6 960.6,356.5 961.4,357.1 962.2,356.3 963.0,356.2 963.8,355.3 964.6,356.9 965.4,355.2 966.2,356.4 967.0,354.9 967.8,356.8 968.6,355.1 969.4,356.5 970.2,354.5 971.0,355.4 971.8,356.7 972.6,355.0 973.4,355.7 974.2,355.2 975.0,353.7 975.8,355.7 976.6,355.8 977.4,354.5 978.2,355.8 979.0,354.6 979.8,354.4 980.6,355.2 981.4,354.6 982.2,356.9 983.0,353.7 983.8,355.5 984.6,355.6 985.4,353.2 986.2,353.3 987.0,355.0 987.8,354.1 988.6,354.7 989.4,355.3 990.2,354.0 991.0,353.3 991.8,351.9 992.6,354.2 993.4,353.2 994.2,354.1 995.0,353.9 995.8,352.6 996.6,355.0 997.4,354.4 998.2,354.1 999.0,352.4 999.8,353.0 1000.6,352.8 1001.4,352.9 1002.2,352.2 1003.0,353.4 1003.8,353.2 1004.6,353.3 1005.4,352.5 1006.2,353.9 1007.0,353.0 1007.8,350.6 1008.6,352.3 1009.4,352.7 1010.2,353.5 1011.0,352.5 1011.8,352.5 1012.6,352.1 1013.4,353.2 1014.2,352.2 1015.0,352.1 1015.8,352.0 1016.6,353.0 1017.4,352.1 1018.2,351.2 1019.0,353.0 1019.8,351.9 1020.6,352.7 1021.4,352.7 1022.2,353.4 1023.0,353.2 1023.8,351.9 1024.6,352.2 1025.4,351.3 1026.2,353.7 1027.0,352.7 1027.8,353.4 1028.6,352.0 1029.4,350.6 1030.2,353.5 1031.0,352.3 1031.8,352.3 1032.6,352.2 1033.4,352.7 1034.2,352.6 1035.0,350.9 1035.8,353.0 1036.6,351.7 1037.4,351.7 1038.2,353.4 1039.0,352.8 1039.8,351.8 1040.6,350.5 1041.4,352.1 1042.2,352.4 1043.0,351.9 1043.8,350.9 1044.6,351.3 1045.4,350.9 1046.2,352.0 1047.0,352.5 1047.8,352.6 1048.6,351.2 1049.4,351.9 1050.2,352.1 1051.0,351.2 1051.8,351.5 1052.6,353.3 1053.4,351.7 1054.2,352.2 1055.0,351.1 1055.8,351.4 1056.6,349.9 1057.4,351.2 1058.2,352.1 1059.0,352.8 1059.8,352.0 1060.6,351.5 1061.4,350.9 1062.2,350.3 1063.0,350.6 1063.8,351.1 1064.6,349.9 1065.4,351.2 1066.2,349.6 1067.0,348.9 1067.8,349.4 1068.6,348.8 1069.4,348.9 1070.2,350.8 1071.0,349.7 1071.8,349.9 1072.6,350.6 1073.4,350.6 1074.2,349.1 1075.0,350.4 1075.8,349.6 1076.6,349.2 1077.4,349.4 1078.2,347.8 1079.0,348.2 1079.8,348.7 1080.6,349.1 1081.4,348.2 1082.2,348.3 1083.0,349.0 1083.8,349.2 1084.6,348.6 1085.4,348.8 1086.2,347.4 1087.0,347.3 1087.8,347.6 1088.6,347.0 1089.4,346.7 1090.2,348.3 1091.0,346.6 1091.8,345.9 1092.6,346.9 1093.4,347.8 1094.2,346.3 1095.0,347.1 1095.8,345.6 1096.6,345.4 1097.4,345.2 1098.2,345.5 1099.0,347.0 1099.8,344.5 1100.6,346.6 1101.4,344.4 1102.2,345.0 1103.0,345.8 1103.8,345.6 1104.6,345.3 1105.4,343.7 1106.2,345.3 1107.0,344.2 1107.8,347.1 1108.6,344.9 1109.4,345.3 1110.2,344.3 1111.0,345.0 1111.8,344.4 1112.6,346.3 1113.4,345.5 1114.2,346.3 1115.0,345.4 1115.8,345.7 1116.6,347.3 1117.4,345.6 1118.2,345.1 1119.0,347.0 1119.8,345.9 1120.6,346.6 1121.4,347.9 1122.2,346.6 1123.0,348.1 1123.8,346.9 1124.6,348.8 1125.4,348.7 1126.2,347.3 1127.0,347.6 1127.8,347.1 1128.6,348.0 1129.4,348.7 1130.2,346.7 1131.0,348.6 1131.8,346.8 1132.6,347.2 1133.4,346.4 1134.2,349.5 1135.0,347.9 1135.8,348.1 1136.6,347.3 1137.4,348.7 1138.2,346.2 1139.0,347.9 1139.8,349.7 1140.6,347.6 1141.4,347.9 1142.2,348.4 1143.0,347.3 1143.8,347.9 1144.6,348.7 1145.4,348.1 1146.2,348.2 1147.0,347.7 1147.8,348.2 1148.6,348.0 1149.4,349.1 1150.2,348.5 1151.0,347.8 1151.8,346.0 1152.6,348.5 1153.4,348.6 1154.2,347.2 1155.0,346.4 1155.8,347.1 1156.6,348.7 1157.4,347.1 1158.2,347.6 1159.0,348.2 1159.8,349.0 1160.6,348.0 1161.4,347.9 1162.2,347.5 1163.0,349.3 1163.8,348.8 1164.6,347.9 1165.4,346.9 1166.2,347.4 1167.0,348.5 1167.8,347.4 1168.6,348.7 1169.4,348.3 1170.2,348.2 1171.0,348.5 1171.8,348.4 1172.6,347.3 1173.4,347.7"/>
</g>
<line x1="770.5" y1="5" x2="770.5" y2="52" stroke="#1a1a1a" stroke-width="1.4" stroke-dasharray="7,6.5"/>
<line x1="793.5" y1="77" x2="793.5" y2="138" stroke="#1a1a1a" stroke-width="1.4" stroke-dasharray="7,6.5"/>
<line x1="1003.3" y1="166" x2="1003.3" y2="332" stroke="#1a1a1a" stroke-width="1.4" stroke-dasharray="7,6.5"/>
<line x1="1102" y1="109" x2="1102" y2="170" stroke="#1a1a1a" stroke-width="1.4" stroke-dasharray="7,6.5"/>
<line x1="1107.7" y1="251" x2="1107.7" y2="324" stroke="#000" stroke-width="2.3" stroke-dasharray="6.5,6.6"/>
<line x1="770.8" y1="254" x2="770.8" y2="330" stroke="#1a1a1a" stroke-width="1.4" stroke-dasharray="7,6.5"/>
<line x1="794.8" y1="284" x2="794.8" y2="356" stroke="#000" stroke-width="2.1" stroke-dasharray="6.5,6.6"/>
<line x1="712.5" y1="120.5" x2="712.5" y2="345" stroke="#283c96" stroke-width="5" stroke-dasharray="6.5,13.1" stroke-linecap="round"/>
<path d="M704.0,347 L721.0,347 L714.5,373 Q712.5,376 710.5,373 Z" fill="#283c96"/>
<text transform="translate(777.46,34.79) scale(1.034,1)" font-family="Liberation Serif" font-weight="bold" font-size="20.74" fill="#000" >978</text>
<text transform="translate(796.35,97.30) scale(1.032,1)" font-family="Liberation Serif" font-weight="bold" font-size="20.00" fill="#000" >1018</text>
<text transform="translate(1003.31,181.79) scale(1.013,1)" font-family="Liberation Serif" font-weight="bold" font-size="20.90" fill="#000" >1393</text>
<text transform="translate(1010.49,158.70) scale(1.020,1)" font-family="Liberation Serif" font-weight="bold" font-size="19.85" fill="#000" >G/D=1.1</text>
<text transform="translate(1108.27,140.39) scale(1.036,1)" font-family="Liberation Serif" font-weight="bold" font-size="20.90" fill="#000" >1569</text>
<text transform="translate(768.78,249.81) scale(1.125,1)" font-family="Liberation Serif" font-weight="bold" font-size="18.52" fill="#000" >970</text>
<text transform="translate(1073.14,250.61) scale(1.072,1)" font-family="Liberation Serif" font-weight="bold" font-size="19.41" fill="#000" >1580</text>
<text transform="translate(751.28,362.31) scale(1.121,1)" font-family="Liberation Serif" font-weight="bold" font-size="18.52" fill="#000" >978</text>
<text transform="translate(772.66,377.31) scale(1.109,1)" font-family="Liberation Serif" font-weight="bold" font-size="18.52" fill="#000" >1020</text>
<text transform="translate(846.25,296.50) scale(1.148,1)" font-family="Liberation Serif" font-weight="bold" font-size="17.99" fill="#000" >1 min</text>
<text transform="translate(842.08,323.61) scale(1.081,1)" font-family="Liberation Serif" font-weight="bold" font-size="18.72" fill="#000" >10 min</text>
<text transform="translate(885.17,341.82) scale(1.183,1)" font-family="Liberation Serif" font-weight="bold" font-size="17.59" fill="#000" >20 min</text>
<text transform="translate(852.98,359.83) scale(1.184,1)" font-family="Liberation Serif" font-weight="bold" font-size="17.30" fill="#000" >30 min</text>
<text transform="translate(663.08,128.80) scale(0.971,1)" font-family="Liberation Serif" font-weight="bold" font-size="21.22" fill="#000" >(A)</text>
<text transform="translate(665.38,251.70) scale(0.986,1)" font-family="Liberation Serif" font-weight="bold" font-size="20.76" fill="#000" >(B)</text>
<text transform="translate(663.07,305.30) scale(0.965,1)" font-family="Liberation Serif" font-weight="bold" font-size="21.53" fill="#000" >(C)</text>
<text transform="translate(663.07,328.90) scale(1.023,1)" font-family="Liberation Serif" font-weight="bold" font-size="20.31" fill="#000" >(D)</text>
<text transform="translate(663.03,346.10) scale(1.155,1)" font-family="Liberation Serif" font-weight="bold" font-size="18.78" fill="#000" >(E)</text>
<text transform="translate(662.99,363.30) scale(1.238,1)" font-family="Liberation Serif" font-weight="bold" font-size="18.32" fill="#000" >(F)</text>
<rect x="652" y="459.5" width="515" height="382.5" fill="none" stroke="#000" stroke-width="2"/>
<line x1="651.4" y1="842" x2="651.4" y2="847" stroke="#000" stroke-width="2"/>
<line x1="678.5" y1="842" x2="678.5" y2="850" stroke="#000" stroke-width="2"/>
<line x1="705.6" y1="842" x2="705.6" y2="847" stroke="#000" stroke-width="2"/>
<line x1="732.7" y1="842" x2="732.7" y2="850" stroke="#000" stroke-width="2"/>
<line x1="759.8" y1="842" x2="759.8" y2="847" stroke="#000" stroke-width="2"/>
<line x1="786.8" y1="842" x2="786.8" y2="850" stroke="#000" stroke-width="2"/>
<line x1="813.9" y1="842" x2="813.9" y2="847" stroke="#000" stroke-width="2"/>
<line x1="841.0" y1="842" x2="841.0" y2="850" stroke="#000" stroke-width="2"/>
<line x1="868.1" y1="842" x2="868.1" y2="847" stroke="#000" stroke-width="2"/>
<line x1="895.2" y1="842" x2="895.2" y2="850" stroke="#000" stroke-width="2"/>
<line x1="922.3" y1="842" x2="922.3" y2="847" stroke="#000" stroke-width="2"/>
<line x1="949.3" y1="842" x2="949.3" y2="850" stroke="#000" stroke-width="2"/>
<line x1="976.4" y1="842" x2="976.4" y2="847" stroke="#000" stroke-width="2"/>
<line x1="1003.5" y1="842" x2="1003.5" y2="850" stroke="#000" stroke-width="2"/>
<line x1="1030.6" y1="842" x2="1030.6" y2="847" stroke="#000" stroke-width="2"/>
<line x1="1057.7" y1="842" x2="1057.7" y2="850" stroke="#000" stroke-width="2"/>
<line x1="1084.8" y1="842" x2="1084.8" y2="847" stroke="#000" stroke-width="2"/>
<line x1="1111.9" y1="842" x2="1111.9" y2="850" stroke="#000" stroke-width="2"/>
<line x1="1138.9" y1="842" x2="1138.9" y2="847" stroke="#000" stroke-width="2"/>
<line x1="1166.0" y1="842" x2="1166.0" y2="850" stroke="#000" stroke-width="2"/>
<text transform="translate(660.27,873.35) scale(0.963,1)" font-family="Liberation Serif" font-weight="bold" font-size="25.33" fill="#000" >800</text>
<text transform="translate(714.56,873.35) scale(0.959,1)" font-family="Liberation Serif" font-weight="bold" font-size="25.33" fill="#000" >900</text>
<text transform="translate(761.62,873.35) scale(0.974,1)" font-family="Liberation Serif" font-weight="bold" font-size="25.33" fill="#000" >1000</text>
<text transform="translate(815.73,873.35) scale(1.003,1)" font-family="Liberation Serif" font-weight="bold" font-size="25.33" fill="#000" >1100</text>
<text transform="translate(869.96,873.35) scale(0.974,1)" font-family="Liberation Serif" font-weight="bold" font-size="25.33" fill="#000" >1200</text>
<text transform="translate(924.13,873.35) scale(0.974,1)" font-family="Liberation Serif" font-weight="bold" font-size="25.33" fill="#000" >1300</text>
<text transform="translate(978.30,873.35) scale(0.974,1)" font-family="Liberation Serif" font-weight="bold" font-size="25.33" fill="#000" >1400</text>
<text transform="translate(1032.47,873.35) scale(0.974,1)" font-family="Liberation Serif" font-weight="bold" font-size="25.33" fill="#000" >1500</text>
<text transform="translate(1086.64,873.35) scale(0.974,1)" font-family="Liberation Serif" font-weight="bold" font-size="25.33" fill="#000" >1600</text>
<text transform="translate(1140.81,873.35) scale(0.974,1)" font-family="Liberation Serif" font-weight="bold" font-size="25.33" fill="#000" >1700</text>
<text transform="translate(826.25,896.50) scale(1.075,1)" font-family="Liberation Serif" font-weight="bold" font-size="21.53" fill="#000" >Raman shift (cm</text>
<text transform="translate(991.66,887.40) scale(1.547,1)" font-family="Liberation Serif" font-weight="bold" font-size="10.00" fill="#000" >-1</text>
<text transform="translate(1004.64,896.11) scale(1.216,1)" font-family="Liberation Serif" font-weight="bold" font-size="20.88" fill="#000" >)</text>
<text transform="translate(643.01,740.43) rotate(-90) scale(1.065,1)" font-family="Liberation Serif" font-weight="bold" font-size="22.75">Intensity (a.u.)</text>
<g id="chartd">
<polyline fill="none" stroke="#000" stroke-width="2.3" stroke-linejoin="round" points="653.0,592.6 653.8,590.0 654.6,590.5 655.4,591.4 656.2,590.5 657.0,589.9 657.8,589.4 658.6,590.6 659.4,590.9 660.2,591.0 661.0,590.0 661.8,590.6 662.6,589.1 663.4,589.8 664.2,589.1 665.0,589.7 665.8,590.0 666.6,590.1 667.4,588.6 668.2,590.2 669.0,588.9 669.8,588.4 670.6,589.0 671.4,588.0 672.2,589.0 673.0,589.2 673.8,588.8 674.6,589.3 675.4,588.7 676.2,588.9 677.0,587.9 677.8,588.9 678.6,588.3 679.4,588.5 680.2,588.8 681.0,589.0 681.8,587.7 682.6,587.7 683.4,588.6 684.2,589.1 685.0,589.0 685.8,589.4 686.6,589.7 687.4,589.1 688.2,588.7 689.0,588.0 689.8,588.0 690.6,588.4 691.4,588.9 692.2,588.8 693.0,588.6 693.8,588.5 694.6,589.0 695.4,588.7 696.2,588.8 697.0,588.8 697.8,588.1 698.6,587.7 699.4,588.8 700.2,588.7 701.0,588.1 701.8,587.9 702.6,589.7 703.4,587.5 704.2,587.8 705.0,588.0 705.8,586.9 706.6,587.6 707.4,588.7 708.2,587.9 709.0,587.6 709.8,587.4 710.6,586.9 711.4,587.4 712.2,586.4 713.0,586.1 713.8,586.3 714.6,586.7 715.4,586.2 716.2,586.2 717.0,584.2 717.8,586.2 718.6,586.9 719.4,586.0 720.2,584.6 721.0,584.0 721.8,584.6 722.6,583.5 723.4,584.5 724.2,583.4 725.0,584.2 725.8,584.2 726.6,581.6 727.4,582.9 728.2,581.9 729.0,581.2 729.8,581.4 730.6,581.4 731.4,582.0 732.2,579.9 733.0,581.3 733.8,581.6 734.6,580.2 735.4,579.8 736.2,579.0 737.0,577.8 737.8,578.5 738.6,578.0 739.4,577.7 740.2,578.6 741.0,576.8 741.8,576.1 742.6,576.4 743.4,573.9 744.2,573.6 745.0,573.6 745.8,572.9 746.6,573.2 747.4,571.9 748.2,572.7 749.0,571.8 749.8,570.5 750.6,568.7 751.4,568.3 752.2,567.2 753.0,564.3 753.8,563.6 754.6,562.0 755.4,559.7 756.2,558.5 757.0,555.9 757.8,551.9 758.6,549.6 759.4,545.6 760.2,543.1 761.0,538.7 761.8,536.8 762.6,533.5 763.4,531.1 764.2,527.6 765.0,524.1 765.8,524.1 766.6,520.9 767.4,520.4 768.2,518.5 769.0,517.5 769.8,517.2 770.6,514.9 771.4,514.2 772.2,510.4 773.0,509.4 773.8,504.6 774.6,499.0 775.4,492.5 776.2,486.2 777.0,480.5 777.8,471.3 778.6,467.0 779.4,464.1 780.2,467.9 781.0,473.8 781.8,483.7 782.6,493.6 783.4,506.6 784.2,519.3 785.0,528.5 785.8,535.2 786.6,538.1 787.4,542.1 788.2,544.7 789.0,545.3 789.8,547.7 790.6,546.5 791.4,547.6 792.2,548.7 793.0,550.0 793.8,551.0 794.6,551.6 795.4,552.2 796.2,553.5 797.0,553.4 797.8,553.6 798.6,554.6 799.4,557.9 800.2,555.9 801.0,558.5 801.8,560.8 802.6,561.3 803.4,561.6 804.2,563.3 805.0,565.1 805.8,566.4 806.6,565.9 807.4,568.0 808.2,568.5 809.0,569.9 809.8,570.7 810.6,570.2 811.4,570.0 812.2,571.8 813.0,573.3 813.8,573.1 814.6,573.3 815.4,575.3 816.2,573.3 817.0,575.1 817.8,574.5 818.6,575.3 819.4,575.7 820.2,577.0 821.0,575.6 821.8,576.2 822.6,575.7 823.4,577.5 824.2,577.1 825.0,578.0 825.8,577.2 826.6,577.9 827.4,579.1 828.2,578.5 829.0,579.3 829.8,579.4 830.6,579.0 831.4,578.3 832.2,580.3 833.0,579.9 833.8,580.6 834.6,578.7 835.4,579.1 836.2,578.9 837.0,579.9 837.8,581.4 838.6,581.3 839.4,581.0 840.2,581.3 841.0,581.8 841.8,581.2 842.6,581.8 843.4,581.8 844.2,580.3 845.0,581.6 845.8,583.0 846.6,581.8 847.4,582.1 848.2,581.8 849.0,582.0 849.8,583.2 850.6,582.2 851.4,581.8 852.2,580.4 853.0,582.2 853.8,581.2 854.6,581.4 855.4,583.3 856.2,583.2 857.0,581.5 857.8,583.4 858.6,583.2 859.4,582.4 860.2,583.5 861.0,581.9 861.8,582.2 862.6,582.1 863.4,582.3 864.2,583.8 865.0,582.2 865.8,582.4 866.6,582.6 867.4,583.4 868.2,583.1 869.0,584.0 869.8,582.9 870.6,582.5 871.4,583.1 872.2,583.5 873.0,582.8 873.8,583.7 874.6,584.8 875.4,583.2 876.2,583.6 877.0,584.6 877.8,583.2 878.6,583.1 879.4,582.9 880.2,584.0 881.0,584.1 881.8,583.7 882.6,583.8 883.4,584.7 884.2,584.4 885.0,582.8 885.8,583.8 886.6,583.9 887.4,584.4 888.2,583.7 889.0,583.4 889.8,583.6 890.6,582.7 891.4,583.9 892.2,583.5 893.0,584.3 893.8,583.2 894.6,583.7 895.4,583.3 896.2,583.2 897.0,584.5 897.8,583.6 898.6,584.3 899.4,583.2 900.2,584.0 901.0,582.8 901.8,583.6 902.6,583.6 903.4,584.4 904.2,584.1 905.0,583.8 905.8,584.6 906.6,584.1 907.4,584.3 908.2,584.5 909.0,583.9 909.8,583.7 910.6,584.2 911.4,583.7 912.2,584.2 913.0,584.7 913.8,584.5 914.6,583.7 915.4,583.0 916.2,583.9 917.0,583.8 917.8,584.7 918.6,583.6 919.4,583.7 920.2,584.4 921.0,583.5 921.8,583.8 922.6,585.1 923.4,584.9 924.2,584.3 925.0,584.0 925.8,583.2 926.6,584.2 927.4,583.9 928.2,584.0 929.0,583.4 929.8,583.8 930.6,583.7 931.4,584.0 932.2,584.8 933.0,584.0 933.8,582.6 934.6,583.1 935.4,582.6 936.2,583.2 937.0,584.1 937.8,584.0 938.6,583.3 939.4,583.9 940.2,583.1 941.0,582.7 941.8,582.7 942.6,583.0 943.4,584.6 944.2,582.7 945.0,584.5 945.8,584.5 946.6,583.4 947.4,583.5 948.2,583.1 949.0,583.5 949.8,584.0 950.6,583.5 951.4,584.2 952.2,584.3 953.0,583.7 953.8,583.7 954.6,583.4 955.4,583.7 956.2,582.6 957.0,583.7 957.8,583.5 958.6,582.8 959.4,584.9 960.2,582.7 961.0,582.7 961.8,583.5 962.6,581.9 963.4,582.7 964.2,582.2 965.0,582.6 965.8,583.1 966.6,583.4 967.4,584.0 968.2,583.7 969.0,584.0 969.8,583.6 970.6,582.8 971.4,583.9 972.2,582.7 973.0,582.6 973.8,584.1 974.6,583.6 975.4,583.2 976.2,583.5 977.0,583.6 977.8,582.0 978.6,582.9 979.4,582.1 980.2,583.0 981.0,582.4 981.8,583.8 982.6,583.2 983.4,582.3 984.2,582.8 985.0,582.0 985.8,582.8 986.6,583.1 987.4,582.9 988.2,581.4 989.0,582.5 989.8,583.0 990.6,582.9 991.4,583.5 992.2,581.7 993.0,583.0 993.8,582.1 994.6,582.7 995.4,582.8 996.2,583.0 997.0,582.1 997.8,582.6 998.6,581.7 999.4,581.5 1000.2,582.8 1001.0,582.4 1001.8,581.3 1002.6,581.8 1003.4,582.4 1004.2,583.4 1005.0,583.1 1005.8,582.9 1006.6,581.0 1007.4,582.2 1008.2,582.6 1009.0,582.5 1009.8,582.5 1010.6,582.0 1011.4,583.4 1012.2,583.2 1013.0,582.1 1013.8,581.4 1014.6,583.5 1015.4,581.7 1016.2,582.9 1017.0,583.4 1017.8,581.3 1018.6,582.2 1019.4,581.7 1020.2,582.3 1021.0,582.1 1021.8,583.3 1022.6,582.3 1023.4,581.8 1024.2,582.6 1025.0,581.6 1025.8,581.5 1026.6,583.3 1027.4,581.2 1028.2,581.4 1029.0,581.7 1029.8,580.9 1030.6,580.2 1031.4,582.4 1032.2,581.1 1033.0,581.2 1033.8,581.3 1034.6,580.9 1035.4,580.8 1036.2,581.6 1037.0,583.2 1037.8,582.0 1038.6,582.0 1039.4,580.4 1040.2,581.4 1041.0,580.6 1041.8,581.9 1042.6,581.2 1043.4,581.4 1044.2,581.3 1045.0,580.9 1045.8,580.2 1046.6,581.7 1047.4,580.3 1048.2,580.4 1049.0,581.0 1049.8,580.7 1050.6,581.4 1051.4,581.9 1052.2,581.3 1053.0,581.2 1053.8,581.1 1054.6,581.7 1055.4,579.8 1056.2,581.3 1057.0,580.4 1057.8,580.1 1058.6,581.0 1059.4,580.7 1060.2,581.3 1061.0,581.7 1061.8,579.3 1062.6,580.8 1063.4,582.2 1064.2,581.5 1065.0,581.8 1065.8,580.9 1066.6,579.8 1067.4,580.0 1068.2,581.3 1069.0,581.4 1069.8,580.2 1070.6,580.5 1071.4,580.9 1072.2,579.4 1073.0,580.4 1073.8,581.8 1074.6,582.2 1075.4,580.5 1076.2,581.9 1077.0,580.2 1077.8,580.0 1078.6,579.0 1079.4,581.2 1080.2,580.2 1081.0,582.1 1081.8,580.7 1082.6,580.6 1083.4,579.2 1084.2,581.5 1085.0,580.2 1085.8,580.3 1086.6,578.8 1087.4,581.0 1088.2,581.0 1089.0,579.9 1089.8,580.4 1090.6,580.6 1091.4,581.0 1092.2,580.4 1093.0,581.5 1093.8,580.1 1094.6,579.8 1095.4,579.9 1096.2,578.4 1097.0,579.6 1097.8,580.9 1098.6,580.4 1099.4,579.6 1100.2,580.4 1101.0,578.7 1101.8,579.9 1102.6,580.5 1103.4,580.6 1104.2,579.5 1105.0,580.7 1105.8,581.3 1106.6,579.7 1107.4,580.5 1108.2,578.9 1109.0,578.6 1109.8,580.4 1110.6,580.0 1111.4,580.1 1112.2,579.5 1113.0,579.7 1113.8,580.5 1114.6,581.1 1115.4,579.7 1116.2,578.7 1117.0,580.7 1117.8,580.2 1118.6,580.3 1119.4,579.9 1120.2,581.4 1121.0,579.8 1121.8,580.1 1122.6,578.4 1123.4,579.3 1124.2,579.2 1125.0,579.7 1125.8,579.9 1126.6,579.1 1127.4,580.9 1128.2,578.9 1129.0,579.3 1129.8,579.8 1130.6,578.7 1131.4,580.0 1132.2,580.0 1133.0,579.4 1133.8,580.9 1134.6,579.6 1135.4,579.7 1136.2,578.8 1137.0,578.3 1137.8,579.0 1138.6,579.2 1139.4,579.1 1140.2,580.0 1141.0,577.7 1141.8,578.6 1142.6,578.1 1143.4,580.3 1144.2,579.0 1145.0,579.0 1145.8,578.6 1146.6,579.9 1147.4,579.0 1148.2,579.4 1149.0,577.9 1149.8,580.1 1150.6,579.5 1151.4,579.6 1152.2,580.1 1153.0,579.1 1153.8,579.1 1154.6,579.7 1155.4,579.5 1156.2,579.0 1157.0,579.2 1157.8,578.8 1158.6,579.6 1159.4,579.8 1160.2,579.1 1161.0,580.4 1161.8,578.0 1162.6,578.9 1163.4,580.2 1164.2,578.7 1165.0,577.9 1165.8,580.0 1166.6,579.4"/>
<polyline fill="none" stroke="#e3262b" stroke-width="2.4" stroke-linejoin="round" points="652.0,703.5 652.8,704.5 653.6,703.5 654.4,703.4 655.2,704.0 656.0,703.8 656.8,703.5 657.6,703.8 658.4,703.5 659.2,704.0 660.0,704.0 660.8,704.3 661.6,703.7 662.4,703.3 663.2,703.3 664.0,703.8 664.8,704.7 665.6,704.3 666.4,703.6 667.2,704.4 668.0,703.3 668.8,704.4 669.6,703.7 670.4,704.2 671.2,704.2 672.0,703.7 672.8,704.0 673.6,703.3 674.4,703.8 675.2,704.3 676.0,705.8 676.8,704.1 677.6,703.8 678.4,703.2 679.2,704.3 680.0,702.9 680.8,703.3 681.6,703.9 682.4,703.1 683.2,704.5 684.0,704.2 684.8,703.4 685.6,703.4 686.4,703.0 687.2,702.9 688.0,703.9 688.8,703.9 689.6,703.8 690.4,703.7 691.2,703.3 692.0,703.8 692.8,702.8 693.6,703.6 694.4,704.3 695.2,704.2 696.0,703.3 696.8,703.4 697.6,704.2 698.4,704.4 699.2,702.7 700.0,703.3 700.8,703.6 701.6,704.1 702.4,703.0 703.2,703.8 704.0,703.3 704.8,704.6 705.6,703.6 706.4,703.3 707.2,703.2 708.0,703.9 708.8,703.7 709.6,702.8 710.4,703.4 711.2,702.6 712.0,702.9 712.8,702.6 713.6,702.6 714.4,702.9 715.2,702.7 716.0,703.5 716.8,703.6 717.6,703.1 718.4,702.6 719.2,703.6 720.0,702.1 720.8,702.2 721.6,703.5 722.4,703.4 723.2,703.6 724.0,703.0 724.8,702.4 725.6,702.8 726.4,703.3 727.2,702.6 728.0,702.6 728.8,702.3 729.6,702.4 730.4,703.4 731.2,703.2 732.0,702.3 732.8,702.3 733.6,702.6 734.4,703.1 735.2,702.3 736.0,702.7 736.8,701.7 737.6,702.2 738.4,703.0 739.2,703.2 740.0,702.2 740.8,702.4 741.6,703.1 742.4,702.5 743.2,702.4 744.0,702.9 744.8,702.8 745.6,703.2 746.4,703.0 747.2,702.3 748.0,702.6 748.8,702.6 749.6,701.9 750.4,702.1 751.2,703.1 752.0,701.8 752.8,703.0 753.6,702.7 754.4,702.5 755.2,702.8 756.0,702.7 756.8,703.1 757.6,702.3 758.4,702.4 759.2,702.3 760.0,703.4 760.8,702.9 761.6,702.0 762.4,702.3 763.2,702.1 764.0,702.4 764.8,702.5 765.6,703.6 766.4,701.5 767.2,702.9 768.0,702.6 768.8,702.0 769.6,702.3 770.4,702.1 771.2,702.4 772.0,702.9 772.8,701.6 773.6,703.0 774.4,702.2 775.2,703.1 776.0,702.6 776.8,703.0 777.6,702.7 778.4,702.9 779.2,702.4 780.0,702.0 780.8,702.7 781.6,702.7 782.4,703.4 783.2,701.4 784.0,702.3 784.8,702.9 785.6,701.8 786.4,702.3 787.2,703.5 788.0,703.1 788.8,702.0 789.6,703.1 790.4,703.0 791.2,702.8 792.0,702.6 792.8,702.5 793.6,702.0 794.4,702.2 795.2,702.8 796.0,702.5 796.8,703.4 797.6,702.3 798.4,701.2 799.2,702.3 800.0,702.6 800.8,702.6 801.6,702.5 802.4,702.0 803.2,703.2 804.0,702.1 804.8,702.8 805.6,702.3 806.4,701.9 807.2,703.2 808.0,701.2 808.8,702.1 809.6,702.7 810.4,702.3 811.2,702.9 812.0,702.4 812.8,702.3 813.6,703.6 814.4,702.4 815.2,702.4 816.0,702.0 816.8,702.1 817.6,702.8 818.4,702.8 819.2,702.5 820.0,702.2 820.8,702.9 821.6,701.7 822.4,702.4 823.2,702.4 824.0,702.1 824.8,702.6 825.6,702.2 826.4,702.2 827.2,703.5 828.0,703.0 828.8,703.2 829.6,702.6 830.4,703.1 831.2,703.0 832.0,703.2 832.8,703.8 833.6,702.5 834.4,702.8 835.2,702.6 836.0,700.9 836.8,701.9 837.6,702.7 838.4,703.0 839.2,702.4 840.0,703.2 840.8,703.3 841.6,702.5 842.4,703.4 843.2,703.6 844.0,702.9 844.8,702.2 845.6,703.4 846.4,702.6 847.2,702.5 848.0,702.8 848.8,702.4 849.6,703.3 850.4,703.1 851.2,703.3 852.0,703.0 852.8,702.3 853.6,702.7 854.4,703.2 855.2,702.5 856.0,704.2 856.8,702.6 857.6,702.5 858.4,703.3 859.2,703.1 860.0,702.8 860.8,702.7 861.6,703.0 862.4,703.2 863.2,703.2 864.0,702.6 864.8,703.0 865.6,703.2 866.4,703.2 867.2,701.3 868.0,702.4 868.8,702.4 869.6,702.7 870.4,702.9 871.2,703.3 872.0,703.1 872.8,702.8 873.6,702.9 874.4,703.7 875.2,702.5 876.0,703.0 876.8,703.6 877.6,703.0 878.4,701.8 879.2,703.1 880.0,702.7 880.8,702.8 881.6,703.4 882.4,703.1 883.2,702.7 884.0,703.3 884.8,703.1 885.6,702.9 886.4,703.0 887.2,703.0 888.0,702.7 888.8,702.7 889.6,702.9 890.4,702.4 891.2,702.3 892.0,703.5 892.8,702.8 893.6,702.9 894.4,702.8 895.2,702.9 896.0,702.9 896.8,702.9 897.6,702.5 898.4,703.4 899.2,702.6 900.0,703.4 900.8,701.9 901.6,702.4 902.4,703.4 903.2,702.8 904.0,702.5 904.8,703.0 905.6,702.3 906.4,702.8 907.2,701.6 908.0,702.4 908.8,702.3 909.6,702.9 910.4,703.0 911.2,702.1 912.0,703.2 912.8,702.1 913.6,701.3 914.4,701.0 915.2,702.9 916.0,702.0 916.8,701.7 917.6,701.6 918.4,701.3 919.2,702.4 920.0,701.6 920.8,702.5 921.6,701.4 922.4,700.2 923.2,701.7 924.0,701.0 924.8,701.0 925.6,701.8 926.4,700.8 927.2,701.4 928.0,700.7 928.8,700.2 929.6,700.7 930.4,700.1 931.2,700.9 932.0,700.6 932.8,700.1 933.6,700.2 934.4,700.1 935.2,699.6 936.0,700.0 936.8,699.4 937.6,699.7 938.4,698.8 939.2,699.2 940.0,699.2 940.8,698.5 941.6,698.5 942.4,698.3 943.2,698.8 944.0,697.9 944.8,698.4 945.6,698.7 946.4,698.0 947.2,696.8 948.0,697.5 948.8,697.8 949.6,696.9 950.4,697.4 951.2,696.9 952.0,696.6 952.8,696.1 953.6,695.7 954.4,695.6 955.2,695.5 956.0,695.5 956.8,695.2 957.6,694.5 958.4,694.4 959.2,694.3 960.0,693.0 960.8,693.1 961.6,692.7 962.4,692.6 963.2,692.2 964.0,691.8 964.8,691.0 965.6,691.3 966.4,690.7 967.2,689.2 968.0,689.5 968.8,688.5 969.6,689.4 970.4,687.7 971.2,687.2 972.0,686.9 972.8,686.3 973.6,685.8 974.4,686.1 975.2,684.9 976.0,684.6 976.8,684.2 977.6,682.6 978.4,683.4 979.2,682.4 980.0,681.9 980.8,680.5 981.6,680.7 982.4,679.9 983.2,678.9 984.0,679.7 984.8,678.3 985.6,677.4 986.4,677.1 987.2,676.9 988.0,676.6 988.8,675.8 989.6,675.7 990.4,675.4 991.2,673.6 992.0,673.5 992.8,672.9 993.6,673.0 994.4,673.4 995.2,672.7 996.0,671.5 996.8,671.7 997.6,672.2 998.4,671.3 999.2,671.5 1000.0,671.7 1000.8,670.7 1001.6,672.1 1002.4,672.0 1003.2,672.3 1004.0,671.7 1004.8,672.0 1005.6,672.4 1006.4,673.0 1007.2,673.2 1008.0,673.5 1008.8,674.6 1009.6,674.7 1010.4,674.0 1011.2,674.3 1012.0,675.8 1012.8,675.0 1013.6,676.1 1014.4,676.5 1015.2,675.6 1016.0,676.0 1016.8,676.4 1017.6,676.1 1018.4,676.3 1019.2,676.8 1020.0,677.6 1020.8,677.2 1021.6,677.5 1022.4,677.6 1023.2,677.4 1024.0,679.0 1024.8,677.3 1025.6,678.4 1026.4,679.2 1027.2,678.4 1028.0,679.6 1028.8,680.1 1029.6,679.3 1030.4,680.0 1031.2,679.5 1032.0,680.4 1032.8,680.4 1033.6,680.5 1034.4,681.2 1035.2,680.9 1036.0,681.4 1036.8,681.1 1037.6,680.2 1038.4,681.0 1039.2,681.1 1040.0,680.1 1040.8,681.4 1041.6,680.6 1042.4,680.7 1043.2,679.8 1044.0,680.1 1044.8,680.0 1045.6,679.4 1046.4,679.3 1047.2,677.9 1048.0,679.3 1048.8,677.7 1049.6,676.7 1050.4,676.9 1051.2,676.5 1052.0,676.8 1052.8,675.5 1053.6,675.6 1054.4,674.3 1055.2,675.2 1056.0,673.5 1056.8,673.2 1057.6,670.6 1058.4,670.2 1059.2,668.1 1060.0,667.5 1060.8,666.1 1061.6,663.4 1062.4,662.1 1063.2,660.5 1064.0,658.8 1064.8,657.5 1065.6,655.7 1066.4,653.7 1067.2,652.7 1068.0,651.0 1068.8,648.2 1069.6,646.6 1070.4,644.8 1071.2,642.6 1072.0,640.2 1072.8,638.6 1073.6,636.3 1074.4,633.7 1075.2,630.7 1076.0,629.1 1076.8,626.3 1077.6,622.5 1078.4,620.1 1079.2,618.2 1080.0,614.8 1080.8,613.2 1081.6,610.9 1082.4,608.5 1083.2,606.9 1084.0,604.5 1084.8,603.5 1085.6,601.6 1086.4,602.8 1087.2,601.9 1088.0,601.6 1088.8,601.4 1089.6,602.3 1090.4,603.2 1091.2,604.1 1092.0,605.3 1092.8,605.9 1093.6,608.2 1094.4,609.5 1095.2,611.4 1096.0,613.8 1096.8,617.3 1097.6,620.6 1098.4,622.5 1099.2,627.3 1100.0,630.5 1100.8,632.7 1101.6,635.8 1102.4,639.1 1103.2,642.6 1104.0,644.8 1104.8,647.4 1105.6,651.0 1106.4,652.6 1107.2,656.4 1108.0,659.6 1108.8,661.8 1109.6,664.5 1110.4,666.7 1111.2,669.1 1112.0,670.9 1112.8,672.5 1113.6,674.8 1114.4,676.8 1115.2,679.4 1116.0,681.3 1116.8,682.4 1117.6,683.5 1118.4,685.0 1119.2,686.6 1120.0,688.7 1120.8,689.3 1121.6,690.1 1122.4,690.8 1123.2,692.5 1124.0,693.0 1124.8,693.7 1125.6,694.5 1126.4,696.0 1127.2,695.7 1128.0,697.2 1128.8,697.6 1129.6,697.5 1130.4,698.4 1131.2,698.3 1132.0,698.4 1132.8,699.1 1133.6,699.1 1134.4,700.2 1135.2,700.3 1136.0,700.9 1136.8,701.4 1137.6,699.8 1138.4,701.8 1139.2,701.0 1140.0,702.3 1140.8,702.1 1141.6,702.8 1142.4,703.7 1143.2,702.4 1144.0,703.6 1144.8,703.7 1145.6,702.9 1146.4,704.4 1147.2,704.3 1148.0,704.2 1148.8,704.2 1149.6,706.3 1150.4,704.7 1151.2,704.1 1152.0,704.7 1152.8,705.1 1153.6,705.2 1154.4,705.4 1155.2,705.1 1156.0,706.0 1156.8,705.6 1157.6,705.2 1158.4,705.6 1159.2,705.9 1160.0,706.6 1160.8,706.5 1161.6,706.2 1162.4,706.4 1163.2,706.6 1164.0,707.5 1164.8,706.2 1165.6,706.8 1166.4,706.9"/>
<polyline fill="none" stroke="#2255b4" stroke-width="2.4" stroke-linejoin="round" points="652.0,740.1 652.8,740.7 653.6,740.6 654.4,740.1 655.2,740.7 656.0,740.8 656.8,740.8 657.6,739.9 658.4,740.1 659.2,741.3 660.0,739.1 660.8,739.8 661.6,740.2 662.4,739.6 663.2,739.9 664.0,739.5 664.8,739.8 665.6,740.0 666.4,739.1 667.2,739.3 668.0,739.1 668.8,738.8 669.6,739.0 670.4,738.3 671.2,739.3 672.0,739.9 672.8,739.8 673.6,739.5 674.4,738.2 675.2,739.6 676.0,738.3 676.8,738.6 677.6,739.8 678.4,738.0 679.2,739.1 680.0,738.8 680.8,738.5 681.6,738.1 682.4,738.9 683.2,738.3 684.0,739.3 684.8,739.4 685.6,737.8 686.4,738.4 687.2,738.5 688.0,738.0 688.8,738.1 689.6,738.9 690.4,738.7 691.2,737.9 692.0,738.6 692.8,739.3 693.6,738.3 694.4,738.5 695.2,740.0 696.0,739.9 696.8,738.2 697.6,738.4 698.4,739.5 699.2,738.6 700.0,739.2 700.8,739.1 701.6,739.7 702.4,737.9 703.2,738.2 704.0,738.8 704.8,740.2 705.6,739.5 706.4,738.6 707.2,739.9 708.0,740.1 708.8,739.5 709.6,739.5 710.4,739.9 711.2,740.4 712.0,739.8 712.8,740.0 713.6,739.6 714.4,739.4 715.2,739.1 716.0,739.8 716.8,739.4 717.6,739.4 718.4,740.0 719.2,739.7 720.0,739.9 720.8,738.3 721.6,739.6 722.4,738.8 723.2,738.6 724.0,738.5 724.8,739.6 725.6,739.3 726.4,738.2 727.2,737.9 728.0,738.4 728.8,738.0 729.6,739.2 730.4,737.2 731.2,736.8 732.0,737.6 732.8,737.7 733.6,737.6 734.4,737.8 735.2,738.4 736.0,736.8 736.8,736.6 737.6,735.7 738.4,736.7 739.2,736.9 740.0,736.0 740.8,736.7 741.6,735.9 742.4,736.6 743.2,735.6 744.0,734.6 744.8,734.6 745.6,733.8 746.4,733.3 747.2,734.2 748.0,734.2 748.8,734.4 749.6,732.8 750.4,732.2 751.2,731.2 752.0,731.9 752.8,731.0 753.6,729.9 754.4,730.0 755.2,729.2 756.0,727.0 756.8,727.7 757.6,726.5 758.4,725.3 759.2,724.3 760.0,724.6 760.8,723.5 761.6,722.7 762.4,720.0 763.2,719.3 764.0,719.2 764.8,717.0 765.6,716.2 766.4,714.5 767.2,715.6 768.0,714.0 768.8,712.5 769.6,711.4 770.4,710.0 771.2,709.3 772.0,709.2 772.8,708.0 773.6,708.9 774.4,708.0 775.2,708.2 776.0,710.3 776.8,710.5 777.6,712.2 778.4,713.0 779.2,713.4 780.0,716.5 780.8,716.8 781.6,719.6 782.4,719.4 783.2,720.6 784.0,723.2 784.8,724.4 785.6,725.1 786.4,725.0 787.2,726.7 788.0,725.7 788.8,726.5 789.6,726.5 790.4,726.9 791.2,727.8 792.0,727.0 792.8,727.9 793.6,728.1 794.4,726.8 795.2,727.3 796.0,727.9 796.8,728.0 797.6,728.7 798.4,727.7 799.2,729.6 800.0,729.9 800.8,729.7 801.6,729.3 802.4,730.5 803.2,730.6 804.0,731.6 804.8,731.6 805.6,732.5 806.4,732.2 807.2,733.7 808.0,731.8 808.8,732.9 809.6,734.1 810.4,733.2 811.2,734.9 812.0,733.9 812.8,735.0 813.6,734.6 814.4,735.1 815.2,735.7 816.0,735.8 816.8,735.8 817.6,737.6 818.4,736.5 819.2,736.1 820.0,737.4 820.8,737.5 821.6,737.9 822.4,738.4 823.2,736.8 824.0,738.1 824.8,738.2 825.6,737.6 826.4,737.7 827.2,735.8 828.0,737.3 828.8,738.7 829.6,736.5 830.4,737.3 831.2,737.8 832.0,737.9 832.8,738.6 833.6,736.5 834.4,737.6 835.2,738.1 836.0,736.8 836.8,737.5 837.6,738.7 838.4,738.3 839.2,737.8 840.0,735.9 840.8,737.4 841.6,737.7 842.4,737.3 843.2,737.4 844.0,739.3 844.8,737.3 845.6,736.8 846.4,737.6 847.2,737.2 848.0,737.2 848.8,737.3 849.6,737.8 850.4,737.5 851.2,736.6 852.0,737.2 852.8,737.6 853.6,737.0 854.4,738.0 855.2,737.7 856.0,736.6 856.8,737.4 857.6,738.4 858.4,738.1 859.2,737.1 860.0,737.7 860.8,736.7 861.6,736.3 862.4,737.4 863.2,737.2 864.0,737.4 864.8,737.0 865.6,737.2 866.4,736.7 867.2,737.3 868.0,737.5 868.8,736.9 869.6,737.4 870.4,735.9 871.2,736.4 872.0,737.8 872.8,737.9 873.6,737.0 874.4,736.8 875.2,736.1 876.0,737.0 876.8,737.3 877.6,735.9 878.4,737.1 879.2,737.1 880.0,737.0 880.8,736.1 881.6,737.0 882.4,735.8 883.2,737.6 884.0,736.8 884.8,736.0 885.6,737.5 886.4,737.3 887.2,736.2 888.0,737.9 888.8,736.0 889.6,736.8 890.4,737.3 891.2,735.2 892.0,737.2 892.8,736.5 893.6,736.5 894.4,735.9 895.2,736.7 896.0,735.9 896.8,735.9 897.6,736.2 898.4,735.8 899.2,737.4 900.0,735.7 900.8,736.0 901.6,736.3 902.4,736.5 903.2,737.0 904.0,737.0 904.8,736.3 905.6,736.2 906.4,736.5 907.2,737.0 908.0,736.9 908.8,736.2 909.6,735.2 910.4,737.8 911.2,737.0 912.0,736.6 912.8,736.7 913.6,736.1 914.4,735.9 915.2,736.3 916.0,736.3 916.8,736.1 917.6,735.6 918.4,736.3 919.2,736.8 920.0,736.2 920.8,736.5 921.6,735.2 922.4,736.3 923.2,736.4 924.0,735.7 924.8,735.4 925.6,736.7 926.4,735.9 927.2,736.7 928.0,736.2 928.8,736.8 929.6,736.2 930.4,735.5 931.2,736.4 932.0,736.2 932.8,736.8 933.6,736.1 934.4,736.1 935.2,736.8 936.0,737.0 936.8,736.6 937.6,736.7 938.4,736.3 939.2,736.3 940.0,736.3 940.8,735.8 941.6,735.4 942.4,735.3 943.2,736.5 944.0,734.8 944.8,734.5 945.6,734.2 946.4,734.1 947.2,734.1 948.0,733.0 948.8,732.2 949.6,733.3 950.4,731.9 951.2,732.8 952.0,732.4 952.8,732.7 953.6,732.8 954.4,731.7 955.2,730.9 956.0,730.2 956.8,730.1 957.6,730.4 958.4,728.8 959.2,729.8 960.0,729.5 960.8,729.6 961.6,728.7 962.4,728.7 963.2,727.9 964.0,727.8 964.8,726.7 965.6,727.5 966.4,728.0 967.2,726.9 968.0,726.6 968.8,725.4 969.6,726.5 970.4,724.8 971.2,725.3 972.0,724.4 972.8,723.4 973.6,724.1 974.4,723.1 975.2,722.7 976.0,722.4 976.8,721.7 977.6,721.0 978.4,721.0 979.2,720.1 980.0,719.9 980.8,719.0 981.6,718.0 982.4,718.1 983.2,717.7 984.0,717.6 984.8,717.9 985.6,715.7 986.4,716.4 987.2,714.6 988.0,714.9 988.8,714.9 989.6,713.5 990.4,713.4 991.2,714.2 992.0,713.9 992.8,713.5 993.6,712.8 994.4,714.3 995.2,712.7 996.0,712.1 996.8,713.4 997.6,712.6 998.4,711.9 999.2,712.7 1000.0,712.0 1000.8,712.3 1001.6,712.0 1002.4,711.2 1003.2,712.5 1004.0,712.1 1004.8,711.4 1005.6,711.7 1006.4,712.9 1007.2,712.2 1008.0,712.6 1008.8,713.2 1009.6,713.1 1010.4,712.3 1011.2,713.9 1012.0,714.3 1012.8,714.5 1013.6,715.3 1014.4,714.8 1015.2,715.3 1016.0,716.1 1016.8,715.3 1017.6,716.9 1018.4,717.2 1019.2,716.9 1020.0,717.9 1020.8,717.6 1021.6,716.9 1022.4,718.4 1023.2,718.3 1024.0,718.6 1024.8,718.8 1025.6,719.8 1026.4,719.6 1027.2,719.2 1028.0,720.1 1028.8,720.6 1029.6,719.9 1030.4,720.3 1031.2,720.6 1032.0,720.6 1032.8,721.4 1033.6,722.0 1034.4,722.6 1035.2,722.3 1036.0,722.3 1036.8,722.5 1037.6,722.6 1038.4,721.6 1039.2,722.3 1040.0,722.1 1040.8,721.8 1041.6,721.6 1042.4,721.6 1043.2,721.7 1044.0,721.2 1044.8,722.2 1045.6,721.9 1046.4,722.0 1047.2,722.1 1048.0,722.3 1048.8,721.5 1049.6,721.8 1050.4,720.9 1051.2,720.6 1052.0,720.7 1052.8,722.8 1053.6,720.8 1054.4,722.2 1055.2,722.8 1056.0,721.6 1056.8,722.8 1057.6,722.8 1058.4,722.2 1059.2,722.9 1060.0,721.6 1060.8,720.5 1061.6,720.9 1062.4,719.9 1063.2,719.0 1064.0,718.6 1064.8,720.2 1065.6,718.0 1066.4,717.8 1067.2,716.8 1068.0,716.7 1068.8,715.9 1069.6,715.1 1070.4,713.9 1071.2,712.9 1072.0,712.4 1072.8,712.0 1073.6,711.9 1074.4,710.0 1075.2,709.2 1076.0,707.0 1076.8,705.3 1077.6,703.1 1078.4,702.4 1079.2,699.5 1080.0,698.9 1080.8,698.2 1081.6,695.4 1082.4,693.8 1083.2,690.7 1084.0,687.8 1084.8,686.1 1085.6,684.0 1086.4,682.8 1087.2,681.3 1088.0,677.9 1088.8,676.5 1089.6,675.3 1090.4,674.2 1091.2,672.9 1092.0,673.4 1092.8,673.5 1093.6,673.8 1094.4,673.3 1095.2,674.7 1096.0,674.6 1096.8,677.3 1097.6,677.3 1098.4,679.1 1099.2,680.3 1100.0,681.7 1100.8,682.9 1101.6,684.0 1102.4,687.6 1103.2,688.2 1104.0,689.8 1104.8,692.6 1105.6,693.0 1106.4,695.2 1107.2,696.8 1108.0,699.5 1108.8,701.0 1109.6,702.8 1110.4,704.3 1111.2,706.3 1112.0,708.5 1112.8,708.0 1113.6,710.6 1114.4,711.8 1115.2,713.2 1116.0,713.5 1116.8,716.4 1117.6,716.6 1118.4,718.1 1119.2,719.1 1120.0,719.4 1120.8,721.1 1121.6,721.1 1122.4,722.5 1123.2,723.6 1124.0,724.4 1124.8,725.1 1125.6,725.6 1126.4,727.5 1127.2,727.1 1128.0,726.6 1128.8,727.5 1129.6,728.0 1130.4,728.8 1131.2,729.1 1132.0,729.4 1132.8,731.4 1133.6,730.8 1134.4,731.0 1135.2,731.5 1136.0,731.9 1136.8,733.2 1137.6,733.0 1138.4,733.8 1139.2,731.5 1140.0,733.9 1140.8,734.6 1141.6,735.4 1142.4,734.5 1143.2,733.7 1144.0,735.3 1144.8,734.7 1145.6,734.2 1146.4,735.0 1147.2,736.2 1148.0,736.4 1148.8,736.2 1149.6,735.3 1150.4,737.6 1151.2,735.5 1152.0,736.2 1152.8,735.5 1153.6,737.3 1154.4,736.9 1155.2,737.3 1156.0,736.9 1156.8,736.9 1157.6,737.1 1158.4,735.9 1159.2,737.7 1160.0,737.8 1160.8,737.0 1161.6,737.3 1162.4,737.6 1163.2,738.4 1164.0,737.7 1164.8,737.5 1165.6,737.2 1166.4,736.6"/>
<polyline fill="none" stroke="#0f8585" stroke-width="2.4" stroke-linejoin="round" points="652.0,758.9 652.8,759.2 653.6,758.9 654.4,758.9 655.2,759.2 656.0,758.9 656.8,758.6 657.6,758.7 658.4,758.3 659.2,758.1 660.0,758.2 660.8,756.8 661.6,758.5 662.4,756.8 663.2,758.0 664.0,757.4 664.8,758.0 665.6,757.2 666.4,756.5 667.2,757.7 668.0,757.0 668.8,756.9 669.6,756.8 670.4,757.3 671.2,757.1 672.0,756.7 672.8,755.6 673.6,756.2 674.4,756.5 675.2,757.5 676.0,756.6 676.8,756.3 677.6,757.0 678.4,756.2 679.2,756.2 680.0,756.3 680.8,755.3 681.6,756.8 682.4,756.5 683.2,756.1 684.0,755.6 684.8,756.5 685.6,757.2 686.4,756.0 687.2,755.8 688.0,756.8 688.8,755.6 689.6,755.3 690.4,756.4 691.2,756.4 692.0,756.7 692.8,756.6 693.6,757.2 694.4,756.9 695.2,756.8 696.0,757.0 696.8,757.7 697.6,758.0 698.4,758.0 699.2,758.0 700.0,755.7 700.8,757.1 701.6,757.6 702.4,758.0 703.2,756.9 704.0,758.8 704.8,758.2 705.6,757.7 706.4,758.2 707.2,758.0 708.0,757.8 708.8,758.6 709.6,758.0 710.4,757.5 711.2,757.9 712.0,758.3 712.8,757.7 713.6,759.1 714.4,757.7 715.2,759.3 716.0,758.8 716.8,757.7 717.6,758.3 718.4,758.9 719.2,758.0 720.0,757.4 720.8,758.1 721.6,759.2 722.4,757.0 723.2,758.2 724.0,757.8 724.8,757.7 725.6,757.4 726.4,757.4 727.2,758.1 728.0,757.8 728.8,756.7 729.6,758.2 730.4,756.4 731.2,757.4 732.0,757.1 732.8,757.6 733.6,756.9 734.4,757.3 735.2,756.5 736.0,757.0 736.8,756.5 737.6,757.4 738.4,755.6 739.2,756.6 740.0,756.0 740.8,755.7 741.6,755.1 742.4,755.6 743.2,754.3 744.0,754.2 744.8,755.2 745.6,753.7 746.4,755.2 747.2,753.9 748.0,754.0 748.8,753.5 749.6,753.4 750.4,752.6 751.2,752.1 752.0,751.8 752.8,752.0 753.6,751.4 754.4,750.7 755.2,749.2 756.0,747.7 756.8,745.6 757.6,745.6 758.4,744.2 759.2,741.9 760.0,741.0 760.8,739.7 761.6,737.5 762.4,736.6 763.2,734.8 764.0,732.3 764.8,731.8 765.6,730.5 766.4,729.8 767.2,727.8 768.0,726.8 768.8,725.3 769.6,724.8 770.4,723.9 771.2,723.6 772.0,722.8 772.8,722.0 773.6,721.8 774.4,721.8 775.2,722.2 776.0,723.8 776.8,722.5 777.6,725.1 778.4,726.8 779.2,728.9 780.0,729.1 780.8,731.7 781.6,733.7 782.4,734.8 783.2,735.7 784.0,738.4 784.8,739.4 785.6,741.7 786.4,741.6 787.2,743.7 788.0,743.0 788.8,742.6 789.6,742.9 790.4,742.6 791.2,743.6 792.0,744.3 792.8,743.3 793.6,744.1 794.4,743.0 795.2,743.9 796.0,745.2 796.8,743.0 797.6,744.8 798.4,744.9 799.2,743.3 800.0,743.9 800.8,744.5 801.6,746.0 802.4,745.5 803.2,746.0 804.0,747.0 804.8,747.0 805.6,747.5 806.4,747.6 807.2,748.8 808.0,748.1 808.8,749.9 809.6,749.1 810.4,749.2 811.2,750.3 812.0,750.5 812.8,749.4 813.6,751.0 814.4,750.3 815.2,750.9 816.0,752.2 816.8,751.5 817.6,752.5 818.4,752.4 819.2,754.0 820.0,753.1 820.8,752.6 821.6,752.9 822.4,753.2 823.2,754.0 824.0,754.0 824.8,754.7 825.6,754.3 826.4,754.3 827.2,754.5 828.0,754.2 828.8,754.5 829.6,754.8 830.4,754.9 831.2,754.1 832.0,753.4 832.8,754.0 833.6,754.7 834.4,753.0 835.2,754.3 836.0,754.8 836.8,754.2 837.6,753.9 838.4,755.7 839.2,755.5 840.0,754.5 840.8,755.5 841.6,755.5 842.4,754.1 843.2,756.4 844.0,754.2 844.8,754.6 845.6,754.1 846.4,754.9 847.2,754.0 848.0,754.8 848.8,755.5 849.6,755.0 850.4,754.7 851.2,755.8 852.0,754.4 852.8,755.5 853.6,754.8 854.4,755.1 855.2,755.0 856.0,755.1 856.8,755.0 857.6,754.6 858.4,754.7 859.2,755.3 860.0,755.0 860.8,754.4 861.6,754.7 862.4,754.7 863.2,755.1 864.0,755.2 864.8,755.2 865.6,754.7 866.4,755.2 867.2,754.3 868.0,753.4 868.8,755.1 869.6,754.2 870.4,754.6 871.2,754.5 872.0,755.6 872.8,754.5 873.6,755.4 874.4,754.9 875.2,754.5 876.0,754.3 876.8,755.5 877.6,755.5 878.4,755.7 879.2,756.4 880.0,755.4 880.8,755.4 881.6,755.2 882.4,755.3 883.2,755.1 884.0,754.7 884.8,756.5 885.6,754.2 886.4,755.4 887.2,755.6 888.0,755.4 888.8,754.7 889.6,755.2 890.4,755.0 891.2,754.7 892.0,755.3 892.8,755.1 893.6,755.0 894.4,755.7 895.2,754.7 896.0,755.6 896.8,754.9 897.6,755.6 898.4,755.3 899.2,755.4 900.0,754.7 900.8,754.8 901.6,754.8 902.4,755.4 903.2,755.7 904.0,755.9 904.8,754.9 905.6,755.3 906.4,754.2 907.2,753.9 908.0,754.6 908.8,754.7 909.6,754.2 910.4,754.0 911.2,755.4 912.0,754.5 912.8,754.0 913.6,756.3 914.4,755.0 915.2,754.7 916.0,755.2 916.8,754.3 917.6,755.7 918.4,753.7 919.2,753.8 920.0,754.5 920.8,754.0 921.6,755.3 922.4,753.4 923.2,753.9 924.0,754.4 924.8,754.5 925.6,754.7 926.4,754.3 927.2,755.3 928.0,753.6 928.8,753.9 929.6,754.3 930.4,753.5 931.2,753.4 932.0,753.2 932.8,753.1 933.6,752.7 934.4,752.9 935.2,752.3 936.0,753.3 936.8,752.1 937.6,754.2 938.4,753.9 939.2,753.4 940.0,752.5 940.8,752.2 941.6,753.2 942.4,752.5 943.2,752.6 944.0,751.8 944.8,752.7 945.6,751.5 946.4,752.0 947.2,750.8 948.0,751.3 948.8,751.9 949.6,751.2 950.4,751.1 951.2,751.8 952.0,751.1 952.8,751.8 953.6,749.5 954.4,751.2 955.2,751.1 956.0,749.7 956.8,749.8 957.6,751.0 958.4,749.7 959.2,749.8 960.0,750.5 960.8,749.8 961.6,750.2 962.4,749.3 963.2,749.8 964.0,750.2 964.8,749.6 965.6,747.9 966.4,749.4 967.2,748.9 968.0,748.1 968.8,749.3 969.6,747.2 970.4,749.2 971.2,747.4 972.0,748.5 972.8,747.3 973.6,746.3 974.4,746.9 975.2,746.7 976.0,746.6 976.8,746.6 977.6,745.2 978.4,745.7 979.2,745.6 980.0,744.7 980.8,744.0 981.6,743.7 982.4,744.5 983.2,744.2 984.0,743.0 984.8,742.4 985.6,743.7 986.4,741.8 987.2,742.5 988.0,741.7 988.8,740.9 989.6,741.8 990.4,741.4 991.2,742.1 992.0,742.4 992.8,740.8 993.6,741.3 994.4,741.2 995.2,740.1 996.0,739.8 996.8,741.1 997.6,739.8 998.4,739.9 999.2,739.7 1000.0,739.8 1000.8,739.5 1001.6,740.2 1002.4,740.5 1003.2,739.6 1004.0,739.0 1004.8,739.9 1005.6,739.0 1006.4,739.6 1007.2,740.8 1008.0,741.5 1008.8,740.4 1009.6,739.7 1010.4,740.9 1011.2,739.2 1012.0,740.2 1012.8,741.6 1013.6,741.3 1014.4,740.2 1015.2,740.1 1016.0,741.8 1016.8,741.3 1017.6,741.2 1018.4,741.9 1019.2,741.5 1020.0,740.8 1020.8,742.6 1021.6,741.8 1022.4,741.8 1023.2,741.7 1024.0,742.8 1024.8,742.3 1025.6,743.3 1026.4,742.9 1027.2,743.8 1028.0,743.0 1028.8,743.0 1029.6,742.3 1030.4,742.9 1031.2,744.1 1032.0,745.6 1032.8,743.1 1033.6,743.3 1034.4,744.2 1035.2,744.3 1036.0,743.7 1036.8,744.2 1037.6,743.2 1038.4,744.0 1039.2,744.7 1040.0,745.1 1040.8,744.0 1041.6,744.0 1042.4,744.3 1043.2,744.7 1044.0,744.3 1044.8,743.5 1045.6,744.1 1046.4,744.4 1047.2,743.3 1048.0,742.9 1048.8,743.9 1049.6,743.8 1050.4,744.0 1051.2,743.4 1052.0,742.9 1052.8,742.9 1053.6,742.4 1054.4,742.4 1055.2,742.5 1056.0,742.4 1056.8,743.2 1057.6,741.7 1058.4,742.2 1059.2,741.8 1060.0,742.9 1060.8,742.0 1061.6,741.4 1062.4,742.0 1063.2,741.4 1064.0,740.9 1064.8,741.9 1065.6,741.2 1066.4,741.6 1067.2,741.1 1068.0,740.7 1068.8,740.1 1069.6,739.1 1070.4,739.9 1071.2,739.2 1072.0,739.1 1072.8,738.2 1073.6,737.2 1074.4,736.3 1075.2,736.6 1076.0,736.1 1076.8,734.3 1077.6,733.9 1078.4,733.5 1079.2,731.1 1080.0,730.4 1080.8,728.9 1081.6,729.3 1082.4,727.7 1083.2,726.3 1084.0,724.5 1084.8,724.4 1085.6,724.2 1086.4,722.5 1087.2,721.6 1088.0,721.4 1088.8,719.6 1089.6,719.7 1090.4,719.4 1091.2,718.1 1092.0,717.7 1092.8,718.0 1093.6,717.6 1094.4,717.5 1095.2,717.8 1096.0,717.9 1096.8,717.5 1097.6,718.1 1098.4,719.2 1099.2,720.2 1100.0,721.0 1100.8,720.4 1101.6,722.3 1102.4,723.0 1103.2,723.4 1104.0,724.6 1104.8,725.7 1105.6,727.2 1106.4,726.4 1107.2,728.3 1108.0,728.8 1108.8,729.6 1109.6,731.2 1110.4,731.8 1111.2,731.4 1112.0,732.5 1112.8,733.4 1113.6,733.1 1114.4,735.0 1115.2,735.1 1116.0,735.8 1116.8,736.5 1117.6,738.0 1118.4,737.6 1119.2,738.0 1120.0,739.8 1120.8,739.1 1121.6,739.7 1122.4,739.8 1123.2,741.8 1124.0,741.9 1124.8,742.6 1125.6,743.1 1126.4,743.4 1127.2,743.6 1128.0,744.2 1128.8,745.5 1129.6,745.8 1130.4,747.2 1131.2,746.3 1132.0,747.0 1132.8,747.2 1133.6,749.1 1134.4,748.0 1135.2,749.6 1136.0,750.4 1136.8,749.9 1137.6,750.8 1138.4,749.5 1139.2,750.9 1140.0,750.5 1140.8,751.8 1141.6,752.0 1142.4,751.8 1143.2,753.1 1144.0,753.0 1144.8,752.6 1145.6,752.8 1146.4,752.4 1147.2,753.3 1148.0,754.8 1148.8,753.2 1149.6,754.0 1150.4,753.6 1151.2,754.5 1152.0,754.4 1152.8,754.1 1153.6,753.3 1154.4,754.2 1155.2,755.3 1156.0,754.5 1156.8,755.1 1157.6,754.6 1158.4,753.8 1159.2,755.3 1160.0,755.3 1160.8,754.8 1161.6,755.0 1162.4,755.4 1163.2,754.9 1164.0,755.5 1164.8,755.2 1165.6,754.0 1166.4,755.3"/>
<polyline fill="none" stroke="#b455ac" stroke-width="2.4" stroke-linejoin="round" points="652.0,777.5 652.8,777.2 653.6,777.8 654.4,777.1 655.2,777.5 656.0,777.6 656.8,776.9 657.6,775.7 658.4,776.0 659.2,776.8 660.0,776.0 660.8,775.5 661.6,775.7 662.4,775.9 663.2,775.6 664.0,775.7 664.8,774.7 665.6,774.9 666.4,774.8 667.2,774.8 668.0,773.5 668.8,774.5 669.6,773.7 670.4,775.2 671.2,775.3 672.0,775.3 672.8,774.7 673.6,773.8 674.4,774.6 675.2,773.9 676.0,774.3 676.8,773.4 677.6,773.5 678.4,774.1 679.2,774.9 680.0,773.8 680.8,775.1 681.6,775.4 682.4,773.1 683.2,773.8 684.0,773.3 684.8,773.9 685.6,773.7 686.4,774.0 687.2,774.7 688.0,774.8 688.8,774.4 689.6,774.4 690.4,774.6 691.2,774.7 692.0,775.0 692.8,774.8 693.6,775.2 694.4,774.3 695.2,775.6 696.0,776.3 696.8,775.5 697.6,774.7 698.4,776.4 699.2,775.5 700.0,774.1 700.8,775.8 701.6,776.4 702.4,776.4 703.2,777.0 704.0,776.7 704.8,776.5 705.6,775.4 706.4,775.9 707.2,776.8 708.0,777.1 708.8,776.2 709.6,776.5 710.4,777.1 711.2,775.7 712.0,775.7 712.8,776.7 713.6,777.0 714.4,776.5 715.2,775.4 716.0,776.8 716.8,775.9 717.6,777.0 718.4,776.5 719.2,776.6 720.0,776.7 720.8,775.9 721.6,776.6 722.4,776.7 723.2,776.1 724.0,776.5 724.8,775.2 725.6,776.0 726.4,775.4 727.2,774.5 728.0,774.9 728.8,774.4 729.6,774.2 730.4,774.4 731.2,774.8 732.0,773.8 732.8,773.8 733.6,772.7 734.4,773.4 735.2,773.8 736.0,773.3 736.8,772.9 737.6,772.1 738.4,771.6 739.2,771.8 740.0,770.9 740.8,770.7 741.6,771.7 742.4,770.3 743.2,771.7 744.0,769.4 744.8,770.2 745.6,768.9 746.4,769.3 747.2,768.2 748.0,768.4 748.8,767.8 749.6,767.1 750.4,767.2 751.2,767.2 752.0,765.3 752.8,765.5 753.6,764.2 754.4,763.3 755.2,763.6 756.0,759.9 756.8,759.5 757.6,757.5 758.4,757.0 759.2,755.6 760.0,756.6 760.8,753.1 761.6,752.6 762.4,751.0 763.2,748.7 764.0,748.1 764.8,747.6 765.6,745.6 766.4,744.4 767.2,743.5 768.0,741.2 768.8,740.5 769.6,740.2 770.4,739.4 771.2,737.8 772.0,737.6 772.8,737.3 773.6,737.2 774.4,738.0 775.2,738.3 776.0,739.5 776.8,740.2 777.6,742.3 778.4,745.1 779.2,746.0 780.0,749.0 780.8,750.3 781.6,751.9 782.4,754.5 783.2,755.2 784.0,756.5 784.8,757.8 785.6,759.2 786.4,761.5 787.2,759.0 788.0,760.5 788.8,760.5 789.6,761.3 790.4,760.6 791.2,759.4 792.0,761.7 792.8,760.4 793.6,761.0 794.4,760.3 795.2,760.6 796.0,761.0 796.8,761.9 797.6,762.1 798.4,761.4 799.2,762.3 800.0,762.1 800.8,762.7 801.6,763.0 802.4,763.7 803.2,763.3 804.0,764.0 804.8,764.6 805.6,765.0 806.4,764.8 807.2,766.7 808.0,765.8 808.8,766.9 809.6,767.0 810.4,767.9 811.2,766.2 812.0,769.0 812.8,768.0 813.6,767.6 814.4,768.7 815.2,770.3 816.0,769.5 816.8,768.8 817.6,769.5 818.4,770.9 819.2,769.5 820.0,770.5 820.8,770.6 821.6,772.3 822.4,771.0 823.2,772.1 824.0,771.0 824.8,771.1 825.6,772.2 826.4,772.1 827.2,770.7 828.0,772.1 828.8,772.2 829.6,771.5 830.4,772.0 831.2,772.0 832.0,771.6 832.8,771.6 833.6,771.6 834.4,771.8 835.2,771.2 836.0,772.0 836.8,771.2 837.6,772.2 838.4,772.1 839.2,771.5 840.0,772.7 840.8,773.4 841.6,773.0 842.4,771.4 843.2,773.0 844.0,772.4 844.8,772.3 845.6,772.0 846.4,772.4 847.2,773.2 848.0,772.7 848.8,772.2 849.6,772.0 850.4,772.2 851.2,772.8 852.0,773.6 852.8,771.9 853.6,772.5 854.4,772.3 855.2,772.1 856.0,772.8 856.8,772.9 857.6,771.8 858.4,772.0 859.2,773.4 860.0,772.8 860.8,773.0 861.6,772.4 862.4,772.5 863.2,773.0 864.0,772.4 864.8,772.1 865.6,772.8 866.4,773.3 867.2,772.2 868.0,773.4 868.8,773.2 869.6,772.3 870.4,772.8 871.2,772.8 872.0,773.2 872.8,773.2 873.6,772.1 874.4,772.1 875.2,773.5 876.0,772.9 876.8,773.1 877.6,773.1 878.4,773.8 879.2,772.2 880.0,773.6 880.8,772.4 881.6,773.4 882.4,773.7 883.2,772.1 884.0,773.2 884.8,772.8 885.6,772.8 886.4,773.0 887.2,772.3 888.0,772.4 888.8,773.3 889.6,773.5 890.4,772.6 891.2,772.1 892.0,774.3 892.8,773.6 893.6,773.2 894.4,772.4 895.2,772.6 896.0,773.1 896.8,772.4 897.6,773.9 898.4,773.1 899.2,773.2 900.0,772.4 900.8,772.4 901.6,772.5 902.4,773.1 903.2,772.8 904.0,772.8 904.8,773.1 905.6,773.0 906.4,773.8 907.2,772.8 908.0,772.3 908.8,772.8 909.6,773.7 910.4,772.4 911.2,772.8 912.0,772.5 912.8,772.9 913.6,772.8 914.4,772.1 915.2,772.4 916.0,773.1 916.8,773.1 917.6,773.0 918.4,772.9 919.2,772.1 920.0,772.0 920.8,772.7 921.6,771.5 922.4,772.1 923.2,770.9 924.0,771.7 924.8,771.5 925.6,771.1 926.4,772.1 927.2,771.3 928.0,771.4 928.8,771.4 929.6,771.1 930.4,772.3 931.2,771.0 932.0,771.4 932.8,770.4 933.6,770.8 934.4,770.8 935.2,770.8 936.0,770.5 936.8,770.9 937.6,771.6 938.4,770.5 939.2,770.4 940.0,770.2 940.8,771.8 941.6,771.2 942.4,770.5 943.2,770.5 944.0,769.6 944.8,769.8 945.6,769.9 946.4,769.8 947.2,769.1 948.0,769.0 948.8,769.7 949.6,769.5 950.4,768.0 951.2,769.2 952.0,769.8 952.8,768.5 953.6,769.0 954.4,767.9 955.2,769.1 956.0,767.9 956.8,767.7 957.6,768.1 958.4,769.6 959.2,767.8 960.0,767.3 960.8,768.2 961.6,767.9 962.4,768.7 963.2,766.8 964.0,766.5 964.8,767.1 965.6,767.4 966.4,767.2 967.2,767.5 968.0,765.8 968.8,766.0 969.6,766.2 970.4,766.6 971.2,766.2 972.0,765.4 972.8,764.9 973.6,765.7 974.4,765.6 975.2,766.4 976.0,764.4 976.8,765.2 977.6,763.3 978.4,763.5 979.2,763.1 980.0,763.0 980.8,762.5 981.6,762.5 982.4,762.5 983.2,762.0 984.0,762.4 984.8,761.8 985.6,761.6 986.4,762.2 987.2,761.3 988.0,761.0 988.8,760.7 989.6,760.5 990.4,760.6 991.2,759.6 992.0,760.6 992.8,760.7 993.6,760.3 994.4,759.2 995.2,758.4 996.0,759.0 996.8,759.2 997.6,759.5 998.4,758.8 999.2,758.7 1000.0,759.7 1000.8,758.4 1001.6,759.4 1002.4,759.3 1003.2,758.0 1004.0,759.0 1004.8,758.6 1005.6,758.4 1006.4,757.9 1007.2,758.1 1008.0,759.4 1008.8,759.0 1009.6,759.5 1010.4,758.8 1011.2,759.3 1012.0,759.5 1012.8,758.8 1013.6,758.9 1014.4,760.3 1015.2,760.2 1016.0,759.7 1016.8,760.3 1017.6,760.9 1018.4,761.7 1019.2,760.3 1020.0,761.3 1020.8,762.3 1021.6,761.3 1022.4,762.2 1023.2,760.0 1024.0,762.5 1024.8,761.8 1025.6,760.8 1026.4,762.5 1027.2,762.8 1028.0,763.0 1028.8,763.1 1029.6,762.5 1030.4,762.2 1031.2,762.4 1032.0,762.8 1032.8,763.1 1033.6,762.7 1034.4,763.0 1035.2,763.6 1036.0,763.3 1036.8,764.5 1037.6,764.4 1038.4,762.5 1039.2,762.8 1040.0,762.4 1040.8,762.5 1041.6,763.5 1042.4,762.5 1043.2,762.5 1044.0,762.9 1044.8,763.5 1045.6,762.8 1046.4,762.7 1047.2,763.4 1048.0,763.1 1048.8,763.1 1049.6,763.3 1050.4,762.1 1051.2,762.7 1052.0,762.1 1052.8,763.0 1053.6,762.8 1054.4,761.7 1055.2,763.0 1056.0,761.4 1056.8,762.7 1057.6,762.0 1058.4,761.3 1059.2,761.0 1060.0,761.4 1060.8,761.4 1061.6,760.9 1062.4,761.5 1063.2,760.2 1064.0,760.9 1064.8,760.8 1065.6,759.6 1066.4,760.7 1067.2,759.6 1068.0,758.8 1068.8,759.7 1069.6,759.7 1070.4,760.2 1071.2,759.0 1072.0,759.8 1072.8,759.3 1073.6,758.6 1074.4,758.1 1075.2,756.8 1076.0,755.5 1076.8,755.4 1077.6,754.7 1078.4,753.4 1079.2,752.2 1080.0,750.4 1080.8,750.8 1081.6,749.6 1082.4,747.6 1083.2,747.5 1084.0,746.9 1084.8,745.4 1085.6,745.1 1086.4,744.2 1087.2,742.0 1088.0,741.9 1088.8,741.7 1089.6,741.3 1090.4,741.0 1091.2,738.6 1092.0,739.3 1092.8,739.5 1093.6,739.6 1094.4,739.8 1095.2,738.3 1096.0,738.8 1096.8,738.6 1097.6,740.1 1098.4,739.3 1099.2,741.3 1100.0,741.8 1100.8,742.2 1101.6,741.4 1102.4,743.1 1103.2,744.7 1104.0,744.3 1104.8,745.9 1105.6,746.8 1106.4,748.3 1107.2,748.8 1108.0,749.6 1108.8,749.9 1109.6,751.0 1110.4,751.6 1111.2,752.7 1112.0,752.8 1112.8,754.1 1113.6,753.0 1114.4,755.2 1115.2,754.9 1116.0,756.2 1116.8,756.1 1117.6,757.1 1118.4,758.0 1119.2,757.2 1120.0,758.1 1120.8,758.5 1121.6,759.2 1122.4,758.6 1123.2,760.0 1124.0,760.4 1124.8,760.6 1125.6,761.4 1126.4,761.0 1127.2,763.2 1128.0,763.1 1128.8,764.4 1129.6,763.2 1130.4,763.5 1131.2,764.7 1132.0,764.0 1132.8,765.5 1133.6,765.3 1134.4,765.9 1135.2,766.6 1136.0,766.9 1136.8,768.3 1137.6,767.9 1138.4,767.0 1139.2,768.7 1140.0,767.6 1140.8,768.7 1141.6,768.1 1142.4,768.6 1143.2,770.1 1144.0,769.1 1144.8,769.3 1145.6,769.5 1146.4,769.8 1147.2,770.9 1148.0,769.5 1148.8,769.6 1149.6,770.8 1150.4,769.7 1151.2,770.5 1152.0,771.5 1152.8,771.0 1153.6,770.8 1154.4,770.8 1155.2,770.8 1156.0,771.1 1156.8,771.6 1157.6,772.3 1158.4,772.3 1159.2,771.4 1160.0,771.4 1160.8,772.3 1161.6,770.9 1162.4,771.8 1163.2,771.9 1164.0,771.4 1164.8,771.5 1165.6,772.3 1166.4,771.2"/>
<polyline fill="none" stroke="#72802f" stroke-width="2.4" stroke-linejoin="round" points="652.0,799.0 652.8,799.0 653.6,799.3 654.4,798.3 655.2,799.5 656.0,798.5 656.8,798.4 657.6,798.1 658.4,797.8 659.2,797.4 660.0,798.5 660.8,797.8 661.6,797.5 662.4,798.0 663.2,796.8 664.0,797.5 664.8,797.0 665.6,796.3 666.4,797.1 667.2,795.7 668.0,796.8 668.8,795.8 669.6,796.5 670.4,797.0 671.2,796.4 672.0,795.6 672.8,795.9 673.6,795.6 674.4,795.0 675.2,795.0 676.0,795.6 676.8,795.9 677.6,794.5 678.4,795.5 679.2,795.8 680.0,795.5 680.8,794.9 681.6,796.1 682.4,794.8 683.2,795.9 684.0,796.5 684.8,794.3 685.6,795.7 686.4,795.8 687.2,795.8 688.0,795.3 688.8,795.6 689.6,795.0 690.4,796.0 691.2,796.3 692.0,795.7 692.8,795.6 693.6,795.9 694.4,796.3 695.2,796.4 696.0,796.4 696.8,796.6 697.6,795.8 698.4,795.1 699.2,797.1 700.0,797.7 700.8,796.1 701.6,796.6 702.4,797.2 703.2,797.7 704.0,797.6 704.8,798.0 705.6,797.3 706.4,797.6 707.2,797.6 708.0,797.2 708.8,798.2 709.6,797.9 710.4,798.1 711.2,797.3 712.0,798.1 712.8,796.9 713.6,797.7 714.4,795.9 715.2,796.8 716.0,797.8 716.8,797.1 717.6,797.4 718.4,796.2 719.2,798.0 720.0,797.3 720.8,796.9 721.6,797.0 722.4,796.8 723.2,797.4 724.0,796.5 724.8,795.4 725.6,795.9 726.4,796.7 727.2,796.1 728.0,795.3 728.8,795.8 729.6,795.3 730.4,795.4 731.2,793.9 732.0,794.1 732.8,794.8 733.6,794.0 734.4,794.2 735.2,794.9 736.0,793.3 736.8,793.4 737.6,792.7 738.4,792.4 739.2,792.5 740.0,791.4 740.8,790.8 741.6,792.6 742.4,791.5 743.2,791.9 744.0,791.0 744.8,790.7 745.6,790.7 746.4,790.3 747.2,788.8 748.0,789.7 748.8,788.0 749.6,788.2 750.4,789.0 751.2,787.0 752.0,787.3 752.8,785.4 753.6,785.2 754.4,784.0 755.2,783.1 756.0,781.2 756.8,779.9 757.6,779.3 758.4,776.7 759.2,775.7 760.0,775.1 760.8,772.9 761.6,771.4 762.4,770.0 763.2,769.6 764.0,768.2 764.8,767.5 765.6,766.3 766.4,766.5 767.2,764.2 768.0,762.4 768.8,762.8 769.6,761.9 770.4,761.3 771.2,759.7 772.0,760.8 772.8,759.9 773.6,759.8 774.4,759.2 775.2,761.1 776.0,761.9 776.8,764.1 777.6,764.8 778.4,766.2 779.2,768.9 780.0,770.0 780.8,772.5 781.6,773.2 782.4,775.3 783.2,776.6 784.0,778.0 784.8,778.8 785.6,779.5 786.4,780.5 787.2,780.6 788.0,781.3 788.8,781.2 789.6,780.1 790.4,781.5 791.2,782.4 792.0,781.8 792.8,782.0 793.6,782.0 794.4,781.5 795.2,781.1 796.0,782.4 796.8,782.7 797.6,782.6 798.4,782.7 799.2,782.9 800.0,782.9 800.8,783.4 801.6,783.6 802.4,784.1 803.2,783.8 804.0,784.4 804.8,785.5 805.6,785.4 806.4,784.6 807.2,786.4 808.0,785.4 808.8,788.2 809.6,787.9 810.4,788.2 811.2,787.8 812.0,787.8 812.8,788.6 813.6,789.0 814.4,788.9 815.2,789.7 816.0,790.3 816.8,790.5 817.6,789.9 818.4,789.5 819.2,791.0 820.0,790.8 820.8,791.7 821.6,792.6 822.4,792.8 823.2,792.1 824.0,792.7 824.8,793.2 825.6,792.3 826.4,792.5 827.2,792.9 828.0,792.4 828.8,792.2 829.6,792.1 830.4,792.6 831.2,792.2 832.0,793.1 832.8,792.5 833.6,793.5 834.4,793.4 835.2,792.1 836.0,793.4 836.8,792.6 837.6,793.7 838.4,793.2 839.2,792.9 840.0,793.3 840.8,792.7 841.6,793.2 842.4,793.3 843.2,793.0 844.0,793.3 844.8,792.6 845.6,793.5 846.4,792.5 847.2,793.6 848.0,793.5 848.8,793.7 849.6,793.0 850.4,795.0 851.2,793.2 852.0,793.4 852.8,792.9 853.6,794.2 854.4,793.2 855.2,794.0 856.0,792.9 856.8,793.7 857.6,793.3 858.4,794.1 859.2,793.4 860.0,793.1 860.8,793.8 861.6,792.9 862.4,793.1 863.2,794.1 864.0,792.6 864.8,794.1 865.6,793.4 866.4,793.2 867.2,793.8 868.0,794.1 868.8,793.4 869.6,793.6 870.4,794.2 871.2,794.2 872.0,793.8 872.8,793.4 873.6,793.3 874.4,793.5 875.2,794.2 876.0,794.2 876.8,794.0 877.6,794.6 878.4,793.7 879.2,793.7 880.0,793.7 880.8,795.0 881.6,792.7 882.4,794.1 883.2,794.2 884.0,794.0 884.8,795.3 885.6,794.6 886.4,794.4 887.2,793.4 888.0,794.2 888.8,793.7 889.6,794.0 890.4,794.1 891.2,793.7 892.0,794.3 892.8,794.9 893.6,794.6 894.4,794.1 895.2,792.9 896.0,794.6 896.8,794.6 897.6,793.9 898.4,793.7 899.2,794.4 900.0,793.5 900.8,794.4 901.6,793.4 902.4,793.5 903.2,794.0 904.0,793.1 904.8,794.0 905.6,794.2 906.4,793.2 907.2,794.4 908.0,793.6 908.8,794.2 909.6,794.0 910.4,793.6 911.2,793.5 912.0,792.8 912.8,793.4 913.6,793.3 914.4,794.6 915.2,794.3 916.0,792.9 916.8,794.1 917.6,793.7 918.4,793.3 919.2,793.8 920.0,793.9 920.8,793.1 921.6,793.2 922.4,793.5 923.2,792.8 924.0,793.4 924.8,793.2 925.6,792.8 926.4,792.7 927.2,793.3 928.0,793.5 928.8,793.2 929.6,792.4 930.4,793.3 931.2,792.9 932.0,793.1 932.8,793.4 933.6,792.1 934.4,792.5 935.2,792.2 936.0,792.0 936.8,793.5 937.6,792.9 938.4,791.3 939.2,792.5 940.0,791.8 940.8,792.7 941.6,792.1 942.4,791.8 943.2,792.0 944.0,792.0 944.8,791.8 945.6,791.5 946.4,791.5 947.2,791.8 948.0,790.8 948.8,791.4 949.6,791.2 950.4,790.9 951.2,791.6 952.0,790.3 952.8,790.8 953.6,790.4 954.4,791.1 955.2,790.5 956.0,790.7 956.8,790.8 957.6,789.6 958.4,790.7 959.2,789.9 960.0,790.1 960.8,790.1 961.6,790.6 962.4,790.4 963.2,790.9 964.0,789.9 964.8,789.4 965.6,789.3 966.4,789.8 967.2,790.2 968.0,789.3 968.8,788.6 969.6,788.9 970.4,788.7 971.2,788.4 972.0,787.7 972.8,786.5 973.6,787.4 974.4,788.0 975.2,787.3 976.0,785.7 976.8,786.7 977.6,785.4 978.4,787.3 979.2,786.1 980.0,785.0 980.8,785.9 981.6,784.8 982.4,785.3 983.2,784.7 984.0,783.8 984.8,784.6 985.6,783.2 986.4,784.5 987.2,783.6 988.0,782.7 988.8,782.1 989.6,783.8 990.4,783.5 991.2,781.8 992.0,783.2 992.8,782.2 993.6,781.8 994.4,781.8 995.2,781.5 996.0,782.4 996.8,781.5 997.6,780.3 998.4,782.5 999.2,781.7 1000.0,780.6 1000.8,780.9 1001.6,780.6 1002.4,781.1 1003.2,781.4 1004.0,781.3 1004.8,780.8 1005.6,780.8 1006.4,781.7 1007.2,781.3 1008.0,782.6 1008.8,781.0 1009.6,782.0 1010.4,781.6 1011.2,781.2 1012.0,782.5 1012.8,781.9 1013.6,781.4 1014.4,781.9 1015.2,782.7 1016.0,781.6 1016.8,783.1 1017.6,782.8 1018.4,782.4 1019.2,783.4 1020.0,783.8 1020.8,783.2 1021.6,783.1 1022.4,784.1 1023.2,784.1 1024.0,782.8 1024.8,783.3 1025.6,783.4 1026.4,783.4 1027.2,782.9 1028.0,784.3 1028.8,783.9 1029.6,784.0 1030.4,784.9 1031.2,783.8 1032.0,784.2 1032.8,784.4 1033.6,784.1 1034.4,784.3 1035.2,784.8 1036.0,784.4 1036.8,785.2 1037.6,784.1 1038.4,784.6 1039.2,783.7 1040.0,784.4 1040.8,784.1 1041.6,785.3 1042.4,784.9 1043.2,784.8 1044.0,785.5 1044.8,785.3 1045.6,784.9 1046.4,784.1 1047.2,783.7 1048.0,784.5 1048.8,784.3 1049.6,784.1 1050.4,784.3 1051.2,783.6 1052.0,785.3 1052.8,783.9 1053.6,784.1 1054.4,784.8 1055.2,783.6 1056.0,785.0 1056.8,785.0 1057.6,784.3 1058.4,783.9 1059.2,784.2 1060.0,783.5 1060.8,785.3 1061.6,784.5 1062.4,784.1 1063.2,784.0 1064.0,784.8 1064.8,785.4 1065.6,783.8 1066.4,784.2 1067.2,783.5 1068.0,784.9 1068.8,784.6 1069.6,785.7 1070.4,784.3 1071.2,783.9 1072.0,783.5 1072.8,784.1 1073.6,782.3 1074.4,783.1 1075.2,782.3 1076.0,781.2 1076.8,780.2 1077.6,780.6 1078.4,780.3 1079.2,778.1 1080.0,777.8 1080.8,777.6 1081.6,775.3 1082.4,774.6 1083.2,773.2 1084.0,772.9 1084.8,772.0 1085.6,771.0 1086.4,770.0 1087.2,768.7 1088.0,768.1 1088.8,767.6 1089.6,768.0 1090.4,766.8 1091.2,766.1 1092.0,766.6 1092.8,766.3 1093.6,765.3 1094.4,765.3 1095.2,766.1 1096.0,766.1 1096.8,765.6 1097.6,766.5 1098.4,766.8 1099.2,767.9 1100.0,767.3 1100.8,768.9 1101.6,769.2 1102.4,769.1 1103.2,771.0 1104.0,771.6 1104.8,771.0 1105.6,773.7 1106.4,772.6 1107.2,773.4 1108.0,774.5 1108.8,775.8 1109.6,776.3 1110.4,776.5 1111.2,777.9 1112.0,777.8 1112.8,778.8 1113.6,780.1 1114.4,779.0 1115.2,777.8 1116.0,779.5 1116.8,779.5 1117.6,780.6 1118.4,781.1 1119.2,780.7 1120.0,781.2 1120.8,782.1 1121.6,782.6 1122.4,781.6 1123.2,784.0 1124.0,783.9 1124.8,784.3 1125.6,784.8 1126.4,784.5 1127.2,785.4 1128.0,786.4 1128.8,786.8 1129.6,786.8 1130.4,786.7 1131.2,786.7 1132.0,788.3 1132.8,788.2 1133.6,787.9 1134.4,787.2 1135.2,788.2 1136.0,787.9 1136.8,790.0 1137.6,789.6 1138.4,789.3 1139.2,789.8 1140.0,791.7 1140.8,791.1 1141.6,789.7 1142.4,790.6 1143.2,790.1 1144.0,789.9 1144.8,791.2 1145.6,792.6 1146.4,792.1 1147.2,791.3 1148.0,791.2 1148.8,791.6 1149.6,792.1 1150.4,790.7 1151.2,790.5 1152.0,792.8 1152.8,791.9 1153.6,792.7 1154.4,792.0 1155.2,792.8 1156.0,791.6 1156.8,792.3 1157.6,793.0 1158.4,792.7 1159.2,791.8 1160.0,792.7 1160.8,791.8 1161.6,791.4 1162.4,792.5 1163.2,793.1 1164.0,792.8 1164.8,791.5 1165.6,792.8 1166.4,792.7"/>
<polyline fill="none" stroke="#2a2f7a" stroke-width="2.4" stroke-linejoin="round" points="652.0,822.1 652.8,820.8 653.6,822.7 654.4,822.5 655.2,822.1 656.0,820.6 656.8,820.5 657.6,821.9 658.4,821.6 659.2,821.2 660.0,820.6 660.8,820.8 661.6,820.1 662.4,820.1 663.2,819.6 664.0,820.1 664.8,819.6 665.6,820.3 666.4,820.0 667.2,819.0 668.0,820.4 668.8,818.6 669.6,819.4 670.4,819.7 671.2,819.7 672.0,817.5 672.8,819.3 673.6,819.4 674.4,819.5 675.2,817.2 676.0,818.1 676.8,818.4 677.6,818.1 678.4,819.2 679.2,817.9 680.0,819.1 680.8,818.6 681.6,817.4 682.4,817.7 683.2,818.0 684.0,818.4 684.8,818.9 685.6,818.3 686.4,818.9 687.2,817.5 688.0,816.6 688.8,818.3 689.6,818.8 690.4,818.3 691.2,818.0 692.0,818.8 692.8,819.8 693.6,818.6 694.4,818.3 695.2,818.2 696.0,820.0 696.8,818.8 697.6,819.2 698.4,819.6 699.2,819.6 700.0,818.4 700.8,819.6 701.6,819.5 702.4,819.4 703.2,819.7 704.0,818.8 704.8,819.1 705.6,818.9 706.4,819.7 707.2,818.8 708.0,819.5 708.8,818.6 709.6,819.2 710.4,819.1 711.2,819.2 712.0,819.4 712.8,819.2 713.6,819.1 714.4,818.0 715.2,819.9 716.0,818.8 716.8,819.0 717.6,818.5 718.4,819.6 719.2,818.3 720.0,819.1 720.8,819.4 721.6,819.6 722.4,819.2 723.2,818.7 724.0,817.5 724.8,818.8 725.6,818.6 726.4,818.2 727.2,818.1 728.0,817.4 728.8,816.9 729.6,817.7 730.4,817.6 731.2,816.0 732.0,817.0 732.8,816.4 733.6,816.5 734.4,816.0 735.2,816.2 736.0,815.9 736.8,815.6 737.6,814.0 738.4,815.1 739.2,814.4 740.0,813.4 740.8,814.3 741.6,812.8 742.4,813.8 743.2,814.0 744.0,812.4 744.8,812.9 745.6,812.2 746.4,811.9 747.2,810.3 748.0,810.9 748.8,810.1 749.6,809.9 750.4,808.8 751.2,808.7 752.0,807.5 752.8,806.8 753.6,806.2 754.4,804.3 755.2,803.4 756.0,801.2 756.8,799.5 757.6,796.8 758.4,795.4 759.2,793.4 760.0,790.4 760.8,788.8 761.6,786.5 762.4,783.7 763.2,782.8 764.0,781.7 764.8,779.1 765.6,776.9 766.4,776.7 767.2,774.8 768.0,775.0 768.8,772.6 769.6,771.5 770.4,770.1 771.2,769.8 772.0,768.6 772.8,767.9 773.6,768.3 774.4,768.1 775.2,770.0 776.0,769.6 776.8,771.8 777.6,773.3 778.4,774.9 779.2,778.9 780.0,778.9 780.8,783.2 781.6,783.8 782.4,787.0 783.2,790.5 784.0,790.1 784.8,792.4 785.6,795.4 786.4,795.8 787.2,796.1 788.0,796.9 788.8,796.6 789.6,797.5 790.4,798.5 791.2,797.5 792.0,797.9 792.8,798.7 793.6,799.3 794.4,797.9 795.2,798.5 796.0,798.2 796.8,798.4 797.6,798.8 798.4,799.0 799.2,798.7 800.0,798.9 800.8,800.0 801.6,801.0 802.4,802.1 803.2,801.6 804.0,802.3 804.8,803.3 805.6,803.9 806.4,803.9 807.2,804.4 808.0,806.1 808.8,805.3 809.6,805.6 810.4,805.4 811.2,807.1 812.0,807.1 812.8,808.8 813.6,807.9 814.4,809.0 815.2,809.5 816.0,810.3 816.8,809.0 817.6,811.1 818.4,810.6 819.2,810.9 820.0,811.2 820.8,811.5 821.6,811.8 822.4,810.9 823.2,812.8 824.0,812.8 824.8,812.4 825.6,813.0 826.4,814.5 827.2,813.4 828.0,813.0 828.8,814.3 829.6,812.9 830.4,813.4 831.2,813.2 832.0,813.4 832.8,814.0 833.6,814.0 834.4,813.3 835.2,813.7 836.0,813.9 836.8,813.6 837.6,813.9 838.4,813.5 839.2,813.6 840.0,814.1 840.8,813.5 841.6,814.4 842.4,814.1 843.2,813.7 844.0,813.9 844.8,814.0 845.6,814.2 846.4,814.4 847.2,814.3 848.0,813.9 848.8,815.3 849.6,815.0 850.4,814.6 851.2,815.1 852.0,814.8 852.8,814.5 853.6,814.7 854.4,816.3 855.2,815.3 856.0,815.4 856.8,814.6 857.6,815.2 858.4,816.2 859.2,815.1 860.0,815.5 860.8,815.7 861.6,815.3 862.4,815.9 863.2,815.1 864.0,815.3 864.8,814.7 865.6,816.6 866.4,815.3 867.2,815.2 868.0,816.0 868.8,814.9 869.6,815.2 870.4,814.7 871.2,815.2 872.0,815.0 872.8,815.6 873.6,815.2 874.4,814.9 875.2,815.1 876.0,815.2 876.8,815.0 877.6,815.9 878.4,815.7 879.2,815.5 880.0,814.7 880.8,815.7 881.6,814.7 882.4,815.5 883.2,815.4 884.0,815.1 884.8,815.0 885.6,815.0 886.4,816.6 887.2,815.3 888.0,815.3 888.8,816.0 889.6,815.7 890.4,816.1 891.2,814.8 892.0,814.9 892.8,817.4 893.6,815.5 894.4,815.3 895.2,815.6 896.0,816.1 896.8,814.8 897.6,815.7 898.4,815.5 899.2,815.9 900.0,815.6 900.8,815.2 901.6,815.0 902.4,814.1 903.2,816.1 904.0,814.7 904.8,815.3 905.6,816.4 906.4,815.2 907.2,815.8 908.0,815.3 908.8,815.9 909.6,815.5 910.4,815.1 911.2,816.2 912.0,815.2 912.8,814.6 913.6,815.2 914.4,815.7 915.2,814.7 916.0,815.8 916.8,815.7 917.6,816.5 918.4,814.9 919.2,815.6 920.0,814.3 920.8,814.9 921.6,815.2 922.4,815.4 923.2,815.1 924.0,815.0 924.8,814.7 925.6,814.8 926.4,815.2 927.2,815.3 928.0,815.3 928.8,815.5 929.6,815.6 930.4,813.8 931.2,814.5 932.0,814.7 932.8,814.4 933.6,815.4 934.4,815.2 935.2,814.6 936.0,814.7 936.8,815.4 937.6,814.4 938.4,814.4 939.2,815.0 940.0,814.8 940.8,815.3 941.6,814.6 942.4,814.8 943.2,814.0 944.0,813.8 944.8,814.3 945.6,812.7 946.4,814.5 947.2,814.7 948.0,814.2 948.8,814.0 949.6,814.7 950.4,814.0 951.2,814.6 952.0,815.2 952.8,814.4 953.6,814.4 954.4,814.2 955.2,814.0 956.0,814.0 956.8,813.8 957.6,814.4 958.4,812.8 959.2,813.5 960.0,814.0 960.8,813.1 961.6,813.5 962.4,813.1 963.2,813.7 964.0,813.9 964.8,814.2 965.6,813.7 966.4,812.9 967.2,813.4 968.0,813.6 968.8,814.0 969.6,811.9 970.4,813.3 971.2,812.0 972.0,813.4 972.8,813.2 973.6,813.2 974.4,813.4 975.2,813.0 976.0,812.4 976.8,812.9 977.6,813.3 978.4,812.5 979.2,812.6 980.0,811.8 980.8,813.1 981.6,812.1 982.4,811.9 983.2,812.0 984.0,811.7 984.8,812.0 985.6,812.8 986.4,812.5 987.2,812.8 988.0,812.8 988.8,811.4 989.6,812.1 990.4,812.7 991.2,813.1 992.0,810.9 992.8,810.9 993.6,811.9 994.4,811.4 995.2,811.0 996.0,811.7 996.8,811.0 997.6,810.2 998.4,811.4 999.2,811.5 1000.0,811.7 1000.8,811.9 1001.6,811.4 1002.4,811.2 1003.2,810.9 1004.0,810.3 1004.8,811.0 1005.6,811.8 1006.4,811.6 1007.2,812.4 1008.0,811.1 1008.8,810.1 1009.6,811.6 1010.4,811.7 1011.2,810.4 1012.0,810.2 1012.8,811.2 1013.6,811.5 1014.4,810.4 1015.2,810.8 1016.0,810.6 1016.8,810.3 1017.6,810.3 1018.4,811.1 1019.2,810.8 1020.0,810.6 1020.8,809.5 1021.6,812.0 1022.4,810.4 1023.2,810.9 1024.0,810.3 1024.8,811.1 1025.6,810.0 1026.4,811.0 1027.2,810.8 1028.0,811.4 1028.8,810.3 1029.6,810.5 1030.4,810.7 1031.2,812.1 1032.0,810.0 1032.8,811.0 1033.6,810.5 1034.4,811.0 1035.2,811.2 1036.0,810.9 1036.8,811.0 1037.6,811.0 1038.4,810.5 1039.2,810.7 1040.0,809.8 1040.8,810.6 1041.6,810.3 1042.4,810.6 1043.2,811.2 1044.0,810.9 1044.8,811.0 1045.6,811.3 1046.4,809.3 1047.2,810.9 1048.0,810.7 1048.8,810.6 1049.6,809.9 1050.4,811.0 1051.2,811.3 1052.0,811.2 1052.8,810.6 1053.6,811.0 1054.4,811.1 1055.2,811.6 1056.0,811.3 1056.8,810.6 1057.6,810.6 1058.4,810.6 1059.2,810.6 1060.0,810.2 1060.8,810.9 1061.6,810.0 1062.4,810.0 1063.2,810.6 1064.0,810.0 1064.8,810.2 1065.6,809.1 1066.4,810.8 1067.2,810.3 1068.0,810.2 1068.8,810.5 1069.6,810.3 1070.4,809.8 1071.2,811.3 1072.0,809.8 1072.8,810.5 1073.6,810.9 1074.4,809.4 1075.2,809.7 1076.0,809.1 1076.8,810.0 1077.6,809.1 1078.4,808.5 1079.2,809.7 1080.0,809.4 1080.8,808.2 1081.6,809.2 1082.4,808.5 1083.2,809.8 1084.0,809.0 1084.8,807.6 1085.6,807.6 1086.4,807.1 1087.2,807.6 1088.0,807.4 1088.8,807.7 1089.6,807.2 1090.4,806.2 1091.2,806.5 1092.0,807.7 1092.8,807.5 1093.6,806.7 1094.4,806.7 1095.2,806.7 1096.0,806.8 1096.8,805.9 1097.6,807.4 1098.4,806.5 1099.2,807.0 1100.0,805.5 1100.8,807.1 1101.6,807.7 1102.4,805.7 1103.2,807.9 1104.0,807.4 1104.8,806.7 1105.6,806.3 1106.4,807.9 1107.2,807.5 1108.0,807.7 1108.8,807.3 1109.6,807.1 1110.4,808.1 1111.2,807.1 1112.0,808.2 1112.8,806.8 1113.6,807.3 1114.4,807.1 1115.2,808.8 1116.0,807.1 1116.8,807.5 1117.6,808.6 1118.4,808.5 1119.2,809.7 1120.0,809.5 1120.8,808.9 1121.6,809.0 1122.4,807.7 1123.2,808.3 1124.0,808.7 1124.8,808.8 1125.6,808.2 1126.4,808.6 1127.2,808.7 1128.0,809.9 1128.8,809.6 1129.6,809.2 1130.4,809.3 1131.2,809.7 1132.0,809.2 1132.8,809.5 1133.6,808.7 1134.4,810.1 1135.2,810.4 1136.0,810.1 1136.8,810.2 1137.6,810.2 1138.4,811.2 1139.2,810.2 1140.0,809.3 1140.8,809.5 1141.6,810.5 1142.4,810.8 1143.2,810.6 1144.0,810.7 1144.8,810.3 1145.6,809.3 1146.4,809.8 1147.2,809.2 1148.0,810.0 1148.8,809.4 1149.6,810.3 1150.4,810.1 1151.2,809.1 1152.0,810.6 1152.8,810.6 1153.6,809.4 1154.4,810.3 1155.2,810.6 1156.0,810.0 1156.8,810.7 1157.6,810.3 1158.4,810.8 1159.2,810.3 1160.0,810.1 1160.8,810.5 1161.6,810.6 1162.4,810.3 1163.2,809.9 1164.0,809.7 1164.8,810.0 1165.6,809.9 1166.4,810.3"/>
</g>
<line x1="779.75" y1="460" x2="779.75" y2="522" stroke="#1a1a1a" stroke-width="1.4" stroke-dasharray="7,6.5"/>
<line x1="800.5" y1="541" x2="800.5" y2="575" stroke="#1a1a1a" stroke-width="1.4" stroke-dasharray="7,6.5"/>
<line x1="1002.6" y1="663" x2="1002.6" y2="790" stroke="#1a1a1a" stroke-width="1.4" stroke-dasharray="7,6.5"/>
<line x1="1087.5" y1="584" x2="1087.5" y2="644" stroke="#1a1a1a" stroke-width="1.4" stroke-dasharray="7,6.5"/>
<line x1="1094.3" y1="654" x2="1094.3" y2="781" stroke="#1a1a1a" stroke-width="1.4" stroke-dasharray="7,6.5"/>
<line x1="775.5" y1="701" x2="775.5" y2="775" stroke="#1a1a1a" stroke-width="1.4" stroke-dasharray="7,6.5"/>
<line x1="798" y1="717" x2="798" y2="816" stroke="#000" stroke-width="2.1" stroke-dasharray="6.5,6.6"/>
<line x1="709" y1="577.2" x2="709" y2="798" stroke="#283c96" stroke-width="5" stroke-dasharray="6.5,12.7" stroke-linecap="round"/>
<path d="M701,802.2 L717,802.2 L711,829.7 Q709,832.7 707,829.7 Z" fill="#283c96"/>
<text transform="translate(784.98,497.30) scale(1.023,1)" font-family="Liberation Serif" font-weight="bold" font-size="20.37" fill="#000" >985</text>
<text transform="translate(803.87,555.80) scale(1.019,1)" font-family="Liberation Serif" font-weight="bold" font-size="20.00" fill="#000" >1023</text>
<text transform="translate(1092.19,605.79) scale(0.951,1)" font-family="Liberation Serif" font-weight="bold" font-size="21.19" fill="#000" >1555</text>
<text transform="translate(1000.38,633.29) scale(0.985,1)" font-family="Liberation Serif" font-weight="bold" font-size="20.74" fill="#000" >G/D=1.7</text>
<text transform="translate(1002.14,670.09) scale(1.002,1)" font-family="Liberation Serif" font-weight="bold" font-size="20.75" fill="#000" >1395</text>
<text transform="translate(762.51,694.81) scale(1.055,1)" font-family="Liberation Serif" font-weight="bold" font-size="18.66" fill="#000" >974</text>
<text transform="translate(756.23,818.53) scale(0.934,1)" font-family="Liberation Serif" font-weight="bold" font-size="22.22" fill="#000" >978</text>
<text transform="translate(776.37,835.80) scale(1.020,1)" font-family="Liberation Serif" font-weight="bold" font-size="20.00" fill="#000" >1017</text>
<text transform="translate(844.51,731.20) scale(0.954,1)" font-family="Liberation Serif" font-weight="bold" font-size="20.86" fill="#000" >1 min</text>
<text transform="translate(842.43,755.21) scale(1.032,1)" font-family="Liberation Serif" font-weight="bold" font-size="19.01" fill="#000" >10 min</text>
<text transform="translate(845.32,773.51) scale(1.028,1)" font-family="Liberation Serif" font-weight="bold" font-size="19.01" fill="#000" >20 min</text>
<text transform="translate(836.80,793.41) scale(1.056,1)" font-family="Liberation Serif" font-weight="bold" font-size="19.01" fill="#000" >30 min</text>
<text transform="translate(867.61,813.90) scale(0.990,1)" font-family="Liberation Serif" font-weight="bold" font-size="19.86" fill="#000" >60 min</text>
<text transform="translate(1071.87,798.79) scale(0.975,1)" font-family="Liberation Serif" font-weight="bold" font-size="20.90" fill="#000" >1564</text>
<text transform="translate(662.29,584.80) scale(0.898,1)" font-family="Liberation Serif" font-weight="bold" font-size="22.44" fill="#000" >(A)</text>
<text transform="translate(665.27,699.30) scale(1.048,1)" font-family="Liberation Serif" font-weight="bold" font-size="19.69" fill="#000" >(B)</text>
<text transform="translate(664.18,735.00) scale(1.055,1)" font-family="Liberation Serif" font-weight="bold" font-size="19.54" fill="#000" >(C)</text>
<text transform="translate(664.18,755.00) scale(1.144,1)" font-family="Liberation Serif" font-weight="bold" font-size="18.02" fill="#000" >(D)</text>
<text transform="translate(663.58,772.50) scale(1.283,1)" font-family="Liberation Serif" font-weight="bold" font-size="16.03" fill="#000" >(E)</text>
<text transform="translate(663.00,794.20) scale(1.069,1)" font-family="Liberation Serif" font-weight="bold" font-size="18.78" fill="#000" >(F)</text>
<text transform="translate(663.03,817.60) scale(0.982,1)" font-family="Liberation Serif" font-weight="bold" font-size="19.69" fill="#000" >(G)</text>
<g id="panela"><text transform="translate(267.97,98.70) scale(0.848,1)" font-family="Liberation Sans" font-size="30.00" fill="#000" stroke="#000" stroke-width="0.9">Mo</text>
<text transform="translate(304.96,79.73) scale(0.891,1)" font-family="Liberation Sans" font-size="19.36" fill="#000" stroke="#000" stroke-width="0.3">(VI)</text>
<ellipse cx="225.2" cy="102.8" rx="6.60" ry="9.00" fill="none" stroke="#000" stroke-width="3.0"/>
<ellipse cx="337.5" cy="102.8" rx="6.60" ry="9.00" fill="none" stroke="#000" stroke-width="3.0"/>
<ellipse cx="237.0" cy="139.0" rx="6.60" ry="9.00" fill="none" stroke="#000" stroke-width="3.0"/>
<ellipse cx="331.4" cy="134.2" rx="6.60" ry="9.00" fill="none" stroke="#000" stroke-width="3.0"/>
<line x1="265.2" y1="91.4" x2="238.5" y2="100.0" stroke="#000" stroke-width="3.6" stroke-linecap="butt"/>
<line x1="307.0" y1="94.2" x2="327.0" y2="100.0" stroke="#000" stroke-width="3.4" stroke-linecap="butt"/>
<line x1="268.0" y1="102.8" x2="247.0" y2="125.7" stroke="#000" stroke-width="3.0" stroke-linecap="butt"/>
<line x1="295.7" y1="102.8" x2="319.5" y2="124.7" stroke="#000" stroke-width="3.0" stroke-linecap="butt"/>
<line x1="216.6" y1="118.0" x2="191.9" y2="161.8" stroke="#000" stroke-width="3.0" stroke-linecap="butt"/>
<line x1="350.9" y1="117.0" x2="382.3" y2="152.3" stroke="#000" stroke-width="3.0" stroke-linecap="butt"/>
<line x1="237.6" y1="152.3" x2="237.6" y2="206.6" stroke="#000" stroke-width="3.0" stroke-linecap="butt"/>
<line x1="331.8" y1="146.6" x2="331.8" y2="196.1" stroke="#000" stroke-width="3.0" stroke-linecap="butt"/>
<ellipse cx="278.0" cy="27.8" rx="6.60" ry="8.50" fill="none" stroke="#000" stroke-width="3.0"/>
<line x1="274.7" y1="41.0" x2="274.7" y2="74.3" stroke="#000" stroke-width="3.0" stroke-linecap="butt"/>
<line x1="284.2" y1="41.0" x2="284.2" y2="74.3" stroke="#000" stroke-width="3.0" stroke-linecap="butt"/>
<text transform="translate(100.17,382.10) scale(0.848,1)" font-family="Liberation Sans" font-size="30.00" fill="#000" stroke="#000" stroke-width="0.9">Mo</text>
<text transform="translate(138.27,362.96) scale(0.893,1)" font-family="Liberation Sans" font-size="19.25" fill="#000" stroke="#000" stroke-width="0.3">(IV)</text>
<ellipse cx="57.4" cy="386.2" rx="6.60" ry="9.00" fill="none" stroke="#000" stroke-width="3.0"/>
<ellipse cx="169.7" cy="386.2" rx="6.60" ry="9.00" fill="none" stroke="#000" stroke-width="3.0"/>
<ellipse cx="69.2" cy="422.4" rx="6.60" ry="9.00" fill="none" stroke="#000" stroke-width="3.0"/>
<ellipse cx="163.6" cy="417.6" rx="6.60" ry="9.00" fill="none" stroke="#000" stroke-width="3.0"/>
<line x1="97.4" y1="374.8" x2="70.7" y2="383.4" stroke="#000" stroke-width="3.6" stroke-linecap="butt"/>
<line x1="139.2" y1="377.6" x2="159.2" y2="383.4" stroke="#000" stroke-width="3.4" stroke-linecap="butt"/>
<line x1="100.2" y1="386.2" x2="79.2" y2="409.1" stroke="#000" stroke-width="3.0" stroke-linecap="butt"/>
<line x1="127.9" y1="386.2" x2="151.7" y2="408.1" stroke="#000" stroke-width="3.0" stroke-linecap="butt"/>
<line x1="48.8" y1="401.4" x2="24.1" y2="445.2" stroke="#000" stroke-width="3.0" stroke-linecap="butt"/>
<line x1="183.1" y1="400.4" x2="214.5" y2="435.7" stroke="#000" stroke-width="3.0" stroke-linecap="butt"/>
<line x1="69.8" y1="435.7" x2="69.8" y2="490.0" stroke="#000" stroke-width="3.0" stroke-linecap="butt"/>
<line x1="164.0" y1="430.0" x2="164.0" y2="479.5" stroke="#000" stroke-width="3.0" stroke-linecap="butt"/>
<text transform="translate(468.37,383.50) scale(0.848,1)" font-family="Liberation Sans" font-size="30.00" fill="#000" stroke="#000" stroke-width="0.9">Mo</text>
<text transform="translate(505.53,363.74) scale(0.971,1)" font-family="Liberation Sans" font-size="18.40" fill="#000" stroke="#000" stroke-width="0.3">(VI)</text>
<ellipse cx="425.6" cy="387.6" rx="6.60" ry="9.00" fill="none" stroke="#000" stroke-width="3.0"/>
<ellipse cx="537.9" cy="387.6" rx="6.60" ry="9.00" fill="none" stroke="#000" stroke-width="3.0"/>
<ellipse cx="437.4" cy="423.8" rx="6.60" ry="9.00" fill="none" stroke="#000" stroke-width="3.0"/>
<ellipse cx="531.8" cy="419.0" rx="6.60" ry="9.00" fill="none" stroke="#000" stroke-width="3.0"/>
<line x1="465.6" y1="376.2" x2="438.9" y2="384.8" stroke="#000" stroke-width="3.6" stroke-linecap="butt"/>
<line x1="507.4" y1="379.0" x2="527.4" y2="384.8" stroke="#000" stroke-width="3.4" stroke-linecap="butt"/>
<line x1="468.4" y1="387.6" x2="447.4" y2="410.5" stroke="#000" stroke-width="3.0" stroke-linecap="butt"/>
<line x1="496.1" y1="387.6" x2="519.9" y2="409.5" stroke="#000" stroke-width="3.0" stroke-linecap="butt"/>
<line x1="417.0" y1="402.8" x2="392.3" y2="446.6" stroke="#000" stroke-width="3.0" stroke-linecap="butt"/>
<line x1="551.3" y1="401.8" x2="582.7" y2="437.1" stroke="#000" stroke-width="3.0" stroke-linecap="butt"/>
<line x1="438.0" y1="437.1" x2="438.0" y2="491.4" stroke="#000" stroke-width="3.0" stroke-linecap="butt"/>
<line x1="532.2" y1="431.4" x2="532.2" y2="480.9" stroke="#000" stroke-width="3.0" stroke-linecap="butt"/>
<ellipse cx="445.6" cy="318.0" rx="6.60" ry="9.00" fill="none" stroke="#000" stroke-width="3.0"/>
<ellipse cx="511.0" cy="318.0" rx="6.60" ry="9.00" fill="none" stroke="#000" stroke-width="3.0"/>
<line x1="458.0" y1="318.0" x2="500.9" y2="318.0" stroke="#000" stroke-width="3.0" stroke-linecap="butt"/>
<line x1="454.8" y1="332.4" x2="471.4" y2="359.0" stroke="#000" stroke-width="3.0" stroke-linecap="butt"/>
<line x1="502.8" y1="333.3" x2="487.2" y2="359.0" stroke="#000" stroke-width="3.0" stroke-linecap="butt"/>
<text transform="translate(308.27,772.20) scale(0.848,1)" font-family="Liberation Sans" font-size="30.00" fill="#000" stroke="#000" stroke-width="0.9">Mo</text>
<text transform="translate(344.21,751.63) scale(1.013,1)" font-family="Liberation Sans" font-size="17.97" fill="#000" stroke="#000" stroke-width="0.3">(VI)</text>
<ellipse cx="265.5" cy="776.3" rx="6.60" ry="9.00" fill="none" stroke="#000" stroke-width="3.0"/>
<ellipse cx="377.8" cy="776.3" rx="6.60" ry="9.00" fill="none" stroke="#000" stroke-width="3.0"/>
<ellipse cx="277.3" cy="812.5" rx="6.60" ry="9.00" fill="none" stroke="#000" stroke-width="3.0"/>
<ellipse cx="371.7" cy="807.7" rx="6.60" ry="9.00" fill="none" stroke="#000" stroke-width="3.0"/>
<line x1="305.5" y1="764.9" x2="278.8" y2="773.5" stroke="#000" stroke-width="3.6" stroke-linecap="butt"/>
<line x1="347.3" y1="767.7" x2="367.3" y2="773.5" stroke="#000" stroke-width="3.4" stroke-linecap="butt"/>
<line x1="308.3" y1="776.3" x2="287.3" y2="799.2" stroke="#000" stroke-width="3.0" stroke-linecap="butt"/>
<line x1="336.0" y1="776.3" x2="359.8" y2="798.2" stroke="#000" stroke-width="3.0" stroke-linecap="butt"/>
<line x1="256.9" y1="791.5" x2="232.2" y2="835.3" stroke="#000" stroke-width="3.0" stroke-linecap="butt"/>
<line x1="391.2" y1="790.5" x2="422.6" y2="825.8" stroke="#000" stroke-width="3.0" stroke-linecap="butt"/>
<line x1="277.9" y1="825.8" x2="277.9" y2="880.1" stroke="#000" stroke-width="3.0" stroke-linecap="butt"/>
<line x1="372.1" y1="820.1" x2="372.1" y2="869.6" stroke="#000" stroke-width="3.0" stroke-linecap="butt"/>
<ellipse cx="280.0" cy="709.5" rx="6.60" ry="9.00" fill="none" stroke="#000" stroke-width="3.0"/>
<ellipse cx="355.0" cy="709.5" rx="6.60" ry="9.00" fill="none" stroke="#000" stroke-width="3.0"/>
<line x1="310.3" y1="746.3" x2="291.0" y2="723.0" stroke="#000" stroke-width="3.0" stroke-linecap="butt"/>
<line x1="328.5" y1="746.3" x2="345.3" y2="725.6" stroke="#000" stroke-width="3.0" stroke-linecap="butt"/>
<line x1="280.6" y1="655.8" x2="280.6" y2="695.9" stroke="#000" stroke-width="3.0" stroke-linecap="butt"/>
<text transform="translate(270.18,650.35) scale(1.038,1)" font-family="Liberation Sans" font-size="25.49" fill="#000" stroke="#000" stroke-width="0.4">C</text>
<line x1="267.6" y1="637.6" x2="235.3" y2="626.0" stroke="#000" stroke-width="3.0" stroke-linecap="butt"/>
<line x1="267.6" y1="629.9" x2="244.3" y2="602.7" stroke="#000" stroke-width="3.0" stroke-linecap="butt"/>
<line x1="292.2" y1="632.5" x2="319.4" y2="614.3" stroke="#000" stroke-width="3.0" stroke-linecap="butt"/>
<text transform="translate(212.59,633.80) scale(0.834,1)" font-family="Liberation Sans" font-size="30.14" fill="#000" stroke="#000" stroke-width="0.5">H</text>
<text transform="translate(222.99,601.40) scale(0.894,1)" font-family="Liberation Sans" font-size="28.12" fill="#000" stroke="#000" stroke-width="0.5">H</text>
<text transform="translate(322.42,617.00) scale(0.964,1)" font-family="Liberation Sans" font-size="28.26" fill="#000" stroke="#000" stroke-width="0.5">H</text>
<text transform="translate(345.78,654.50) scale(0.939,1)" font-family="Liberation Sans" font-size="28.26" fill="#000" stroke="#000" stroke-width="0.5">H</text>
<line x1="355.6" y1="659.6" x2="355.6" y2="695.9" stroke="#000" stroke-width="3.0" stroke-linecap="butt"/>
<line x1="211.0" y1="221.4" x2="161.7" y2="307.4" stroke="#000" stroke-width="3.0" stroke-linecap="butt"/>
<path d="M149.5,328.8 L156.9,300.8 L161.7,307.4 L169.9,308.2 Z" fill="#000" stroke="#000" stroke-width="1" stroke-linejoin="miter"/>
<line x1="428.9" y1="287.3" x2="381.2" y2="215.7" stroke="#000" stroke-width="3.0" stroke-linecap="butt"/>
<path d="M367.5,195.2 L389.3,214.3 L381.2,215.7 L376.8,222.7 Z" fill="#000" stroke="#000" stroke-width="1" stroke-linejoin="miter"/>
<line x1="243.4" y1="380.5" x2="346.6" y2="380.5" stroke="#000" stroke-width="4.3" stroke-linecap="butt"/>
<path d="M368.7,380.5 L342.4,388.7 L346.6,380.5 L342.4,372.3 Z" fill="#000" stroke="#000" stroke-width="1" stroke-linejoin="miter"/>
<line x1="213.9" y1="575.6" x2="175.2" y2="516.2" stroke="#000" stroke-width="3.0" stroke-linecap="butt"/>
<path d="M161.7,495.6 L183.3,515.0 L175.2,516.2 L170.7,523.1 Z" fill="#000" stroke="#000" stroke-width="1" stroke-linejoin="miter"/>
<line x1="378.4" y1="609.3" x2="427.4" y2="525.2" stroke="#000" stroke-width="3.0" stroke-linecap="butt"/>
<path d="M439.8,503.9 L432.2,531.9 L427.4,525.2 L419.2,524.3 Z" fill="#000" stroke="#000" stroke-width="1" stroke-linejoin="miter"/>
<line x1="443.7" y1="522.7" x2="394.2" y2="606.2" stroke="#000" stroke-width="3.0" stroke-linecap="butt"/>
<path d="M381.6,627.4 L389.4,599.5 L394.2,606.2 L402.3,607.1 Z" fill="#000" stroke="#000" stroke-width="1" stroke-linejoin="miter"/>
<text transform="translate(106.03,224.00) scale(1.047,1)" font-family="Liberation Sans" font-size="26.90" fill="#000" stroke="#000" stroke-width="0.9">+</text>
<text transform="translate(128.36,227.80) scale(0.826,1)" font-family="Liberation Sans" font-size="30.87" fill="#000" stroke="#000" stroke-width="0.9">H</text>
<text transform="translate(145.91,235.60) scale(0.904,1)" font-family="Liberation Sans" font-size="19.71" fill="#000" stroke="#000" stroke-width="0.9">2</text>
<rect x="103.2" y="260.6" width="7.1" height="3.7" fill="#000"/>
<text transform="translate(119.15,270.60) scale(0.795,1)" font-family="Liberation Sans" font-size="30.72" fill="#000" stroke="#000" stroke-width="0.9">H</text>
<text transform="translate(137.03,278.10) scale(0.783,1)" font-family="Liberation Sans" font-size="19.71" fill="#000" stroke="#000" stroke-width="0.9">2</text>
<text transform="translate(147.20,270.30) scale(0.816,1)" font-family="Liberation Sans" font-size="29.86" fill="#000" stroke="#000" stroke-width="0.9">O</text>
<text transform="translate(419.93,216.10) scale(1.047,1)" font-family="Liberation Sans" font-size="26.90" fill="#000" stroke="#000" stroke-width="0.9">+</text>
<text transform="translate(442.26,219.90) scale(0.826,1)" font-family="Liberation Sans" font-size="30.87" fill="#000" stroke="#000" stroke-width="0.9">H</text>
<text transform="translate(459.81,227.70) scale(0.904,1)" font-family="Liberation Sans" font-size="19.71" fill="#000" stroke="#000" stroke-width="0.9">2</text>
<rect x="417.09999999999997" y="252.70000000000002" width="7.1" height="3.7" fill="#000"/>
<text transform="translate(433.05,262.70) scale(0.795,1)" font-family="Liberation Sans" font-size="30.72" fill="#000" stroke="#000" stroke-width="0.9">H</text>
<text transform="translate(450.93,270.20) scale(0.783,1)" font-family="Liberation Sans" font-size="19.71" fill="#000" stroke="#000" stroke-width="0.9">2</text>
<text transform="translate(461.10,262.40) scale(0.816,1)" font-family="Liberation Sans" font-size="29.86" fill="#000" stroke="#000" stroke-width="0.9">O</text>
<text transform="translate(270.17,356.00) scale(1.057,1)" font-family="Liberation Sans" font-size="25.86" fill="#000" stroke="#000" stroke-width="0.9">+</text>
<text transform="translate(292.52,359.59) scale(0.832,1)" font-family="Liberation Sans" font-size="31.41" fill="#000" stroke="#000" stroke-width="0.9">O</text>
<text transform="translate(311.29,366.60) scale(0.976,1)" font-family="Liberation Sans" font-size="20.71" fill="#000" stroke="#000" stroke-width="0.9">2</text>
<rect x="97" y="551.5" width="7.9" height="3.7" fill="#000"/>
<text transform="translate(111.91,561.50) scale(0.821,1)" font-family="Liberation Sans" font-size="31.30" fill="#000" stroke="#000" stroke-width="0.9">CH</text>
<text transform="translate(146.89,569.70) scale(0.976,1)" font-family="Liberation Sans" font-size="20.71" fill="#000" stroke="#000" stroke-width="0.9">2</text>
<text transform="translate(157.93,561.20) scale(0.854,1)" font-family="Liberation Sans" font-size="30.42" fill="#000" stroke="#000" stroke-width="0.9">O</text>
<rect x="109" y="591.7" width="6.8" height="3.7" fill="#000"/>
<text transform="translate(123.92,600.80) scale(0.851,1)" font-family="Liberation Sans" font-size="30.58" fill="#000" stroke="#000" stroke-width="0.9">H</text>
<text transform="translate(141.21,609.50) scale(0.955,1)" font-family="Liberation Sans" font-size="20.71" fill="#000" stroke="#000" stroke-width="0.9">2</text>
<text transform="translate(152.16,600.50) scale(0.855,1)" font-family="Liberation Sans" font-size="29.72" fill="#000" stroke="#000" stroke-width="0.9">O</text>
<rect x="339.9" y="538.3" width="7.0" height="4.2" fill="#000"/>
<text transform="translate(353.29,548.10) scale(0.858,1)" font-family="Liberation Sans" font-size="30.58" fill="#000" stroke="#000" stroke-width="0.9">CH</text>
<text transform="translate(390.89,556.60) scale(0.748,1)" font-family="Liberation Sans" font-size="20.43" fill="#000" stroke="#000" stroke-width="0.9">4</text>
<text transform="translate(418.94,602.30) scale(0.962,1)" font-family="Liberation Sans" font-size="26.72" fill="#000" stroke="#000" stroke-width="0.9">+</text>
<text transform="translate(441.31,605.80) scale(0.841,1)" font-family="Liberation Sans" font-size="30.58" fill="#000" stroke="#000" stroke-width="0.9">CH</text>
<text transform="translate(478.20,613.60) scale(0.777,1)" font-family="Liberation Sans" font-size="19.42" fill="#000" stroke="#000" stroke-width="0.9">4</text></g><g id="panelb"><polygon points="197,1068.3 536,1068.3 424.5,1216.8 87,1216.8" fill="#d9d9d9" stroke="#3a3a3a" stroke-width="1.8"/>
<text transform="translate(246.03,1019.60) scale(1.178,1)" font-family="Liberation Sans" font-weight="bold" font-size="19.13" fill="#000" stroke="#000" stroke-width="0.2">H</text>
<line x1="253.3" y1="1025.4" x2="253.3" y2="1037.8" stroke="#000" stroke-width="1.6"/>
<text transform="translate(246.51,1060.79) scale(1.036,1)" font-family="Liberation Sans" font-size="21.13" fill="#000" stroke="#000" stroke-width="0.55">O</text>
<line x1="241.8" y1="1059.3" x2="217.7" y2="1070.1" stroke="#000" stroke-width="1.6"/>
<line x1="260.8" y1="1063.5" x2="277.4" y2="1109.8" stroke="#000" stroke-width="1.6"/>
<text transform="translate(319.15,988.10) scale(1.169,1)" font-family="Liberation Sans" font-weight="bold" font-size="19.13" fill="#000" stroke="#000" stroke-width="0.2">H</text>
<line x1="325.5" y1="994.0" x2="325.5" y2="1007.2" stroke="#000" stroke-width="1.6"/>
<text transform="translate(319.68,1030.20) scale(1.029,1)" font-family="Liberation Sans" font-size="19.86" fill="#000" stroke="#000" stroke-width="0.55">O</text>
<line x1="320.6" y1="1032.0" x2="306.5" y2="1047.7" stroke="#000" stroke-width="1.6"/>
<line x1="338.8" y1="1027.9" x2="369.4" y2="1041.1" stroke="#000" stroke-width="1.6"/>
<text transform="translate(195.64,1092.28) scale(1.010,1)" font-family="Liberation Sans" font-weight="bold" font-size="22.25" fill="#000" stroke="#000" stroke-width="0.2">Si</text>
<text transform="translate(147.33,1121.19) scale(0.925,1)" font-family="Liberation Sans" font-size="20.99" fill="#000" stroke="#000" stroke-width="0.55">O</text>
<text transform="translate(250.72,1107.99) scale(1.036,1)" font-family="Liberation Sans" font-size="20.99" fill="#000" stroke="#000" stroke-width="0.55">O</text>
<text transform="translate(214.32,1141.89) scale(1.036,1)" font-family="Liberation Sans" font-size="20.99" fill="#000" stroke="#000" stroke-width="0.55">O</text>
<text transform="translate(271.10,1129.70) scale(0.931,1)" font-family="Liberation Sans" font-weight="bold" font-size="21.59" fill="#000" stroke="#000" stroke-width="0.2">Al</text>
<text transform="translate(290.29,1068.19) scale(0.970,1)" font-family="Liberation Sans" font-weight="bold" font-size="20.99" fill="#000" stroke="#000" stroke-width="0.2">Si</text>
<text transform="translate(373.85,1051.90) scale(1.135,1)" font-family="Liberation Sans" font-weight="bold" font-size="19.28" fill="#000" stroke="#000" stroke-width="0.2">Al</text>
<text transform="translate(345.22,1084.80) scale(1.103,1)" font-family="Liberation Sans" font-size="19.72" fill="#000" stroke="#000" stroke-width="0.55">O</text>
<text transform="translate(431.37,1067.41) scale(1.107,1)" font-family="Liberation Sans" font-size="18.59" fill="#000" stroke="#000" stroke-width="0.55">O</text>
<text transform="translate(310.63,1116.31) scale(1.029,1)" font-family="Liberation Sans" font-size="18.73" fill="#000" stroke="#000" stroke-width="0.55">O</text>
<text transform="translate(400.83,1099.70) scale(0.978,1)" font-family="Liberation Sans" font-size="19.86" fill="#000" stroke="#000" stroke-width="0.55">O</text>
<text transform="translate(377.99,1137.83) scale(1.172,1)" font-family="Liberation Sans" font-weight="bold" font-size="17.46" fill="#000" stroke="#000" stroke-width="0.2">Si</text>
<text transform="translate(323.32,1152.60) scale(0.958,1)" font-family="Liberation Sans" font-size="20.42" fill="#000" stroke="#000" stroke-width="0.55">O</text>
<text transform="translate(434.02,1154.60) scale(0.965,1)" font-family="Liberation Sans" font-size="20.28" fill="#000" stroke="#000" stroke-width="0.55">O</text>
<text transform="translate(253.91,1180.53) scale(1.128,1)" font-family="Liberation Sans" font-size="17.46" fill="#000" stroke="#000" stroke-width="0.55">O</text>
<text transform="translate(357.35,1190.81) scale(1.122,1)" font-family="Liberation Sans" font-size="18.87" fill="#000" stroke="#000" stroke-width="0.55">O</text>
<line x1="189.6" y1="1090.0" x2="164.8" y2="1102.4" stroke="#000" stroke-width="1.6"/>
<line x1="155.7" y1="1125.6" x2="155.7" y2="1148.7" stroke="#000" stroke-width="1.6"/>
<line x1="237.6" y1="1133.0" x2="263.3" y2="1124.7" stroke="#000" stroke-width="1.6"/>
<line x1="362.8" y1="1067.6" x2="372.7" y2="1052.7" stroke="#000" stroke-width="1.6"/>
<line x1="438.9" y1="1073.4" x2="438.9" y2="1092.5" stroke="#000" stroke-width="1.6"/>
<line x1="318.1" y1="1120.6" x2="318.1" y2="1128.9" stroke="#000" stroke-width="1.6"/>
<line x1="318.4" y1="1147.6" x2="318.4" y2="1166.2" stroke="#000" stroke-width="1.6"/>
<line x1="402.5" y1="1102.4" x2="395.0" y2="1119.0" stroke="#000" stroke-width="1.6"/>
<line x1="346.2" y1="1143.8" x2="370.2" y2="1134.7" stroke="#000" stroke-width="1.6"/>
<line x1="262.0" y1="1190.0" x2="262.0" y2="1204.5" stroke="#000" stroke-width="1.6"/>
<line x1="363.5" y1="1196.2" x2="363.5" y2="1213.8" stroke="#000" stroke-width="1.6"/>
<line x1="442.1" y1="1160.0" x2="442.1" y2="1179.7" stroke="#000" stroke-width="1.6"/>
<line x1="219.9" y1="1087.9" x2="220.5" y2="1085.5" stroke="#1e1e1e" stroke-width="1.7"/>
<line x1="224.7" y1="1090.3" x2="226.0" y2="1086.0" stroke="#1e1e1e" stroke-width="1.7"/>
<line x1="229.6" y1="1092.8" x2="231.4" y2="1086.5" stroke="#1e1e1e" stroke-width="1.7"/>
<line x1="234.4" y1="1095.2" x2="236.8" y2="1087.1" stroke="#1e1e1e" stroke-width="1.7"/>
<line x1="239.3" y1="1097.7" x2="242.2" y2="1087.6" stroke="#1e1e1e" stroke-width="1.7"/>
<line x1="244.2" y1="1100.1" x2="247.6" y2="1088.1" stroke="#1e1e1e" stroke-width="1.7"/>
<line x1="313.6" y1="1065.5" x2="314.4" y2="1063.1" stroke="#1e1e1e" stroke-width="1.7"/>
<line x1="318.6" y1="1068.1" x2="320.0" y2="1063.8" stroke="#1e1e1e" stroke-width="1.7"/>
<line x1="323.6" y1="1070.7" x2="325.5" y2="1064.5" stroke="#1e1e1e" stroke-width="1.7"/>
<line x1="328.6" y1="1073.3" x2="331.1" y2="1065.2" stroke="#1e1e1e" stroke-width="1.7"/>
<line x1="333.5" y1="1075.9" x2="336.7" y2="1065.9" stroke="#1e1e1e" stroke-width="1.7"/>
<line x1="338.5" y1="1078.6" x2="342.3" y2="1066.6" stroke="#1e1e1e" stroke-width="1.7"/>
<line x1="403.6" y1="1048.0" x2="404.8" y2="1045.8" stroke="#1e1e1e" stroke-width="1.7"/>
<line x1="408.4" y1="1051.7" x2="410.6" y2="1047.7" stroke="#1e1e1e" stroke-width="1.7"/>
<line x1="413.3" y1="1055.4" x2="416.3" y2="1049.7" stroke="#1e1e1e" stroke-width="1.7"/>
<line x1="418.1" y1="1059.1" x2="422.1" y2="1051.6" stroke="#1e1e1e" stroke-width="1.7"/>
<line x1="422.9" y1="1062.8" x2="427.9" y2="1053.5" stroke="#1e1e1e" stroke-width="1.7"/>
<line x1="427.8" y1="1066.5" x2="433.6" y2="1055.5" stroke="#1e1e1e" stroke-width="1.7"/>
<line x1="295.1" y1="1130.8" x2="296.1" y2="1128.6" stroke="#1e1e1e" stroke-width="1.7"/>
<line x1="299.3" y1="1133.9" x2="301.2" y2="1129.8" stroke="#1e1e1e" stroke-width="1.7"/>
<line x1="303.5" y1="1137.0" x2="306.2" y2="1131.1" stroke="#1e1e1e" stroke-width="1.7"/>
<line x1="307.7" y1="1140.0" x2="311.3" y2="1132.3" stroke="#1e1e1e" stroke-width="1.7"/>
<line x1="311.9" y1="1143.1" x2="316.3" y2="1133.6" stroke="#1e1e1e" stroke-width="1.7"/>
<line x1="316.1" y1="1146.2" x2="321.3" y2="1134.8" stroke="#1e1e1e" stroke-width="1.7"/>
<line x1="402.8" y1="1134.1" x2="403.8" y2="1131.9" stroke="#1e1e1e" stroke-width="1.7"/>
<line x1="407.0" y1="1137.2" x2="408.9" y2="1133.1" stroke="#1e1e1e" stroke-width="1.7"/>
<line x1="411.2" y1="1140.3" x2="414.0" y2="1134.4" stroke="#1e1e1e" stroke-width="1.7"/>
<line x1="415.4" y1="1143.3" x2="419.0" y2="1135.6" stroke="#1e1e1e" stroke-width="1.7"/>
<line x1="419.6" y1="1146.4" x2="424.1" y2="1136.9" stroke="#1e1e1e" stroke-width="1.7"/>
<line x1="423.9" y1="1149.5" x2="429.1" y2="1138.1" stroke="#1e1e1e" stroke-width="1.7"/>
<path d="M208.6,1097.4 L212.8,1121.4 L225.2,1119.0 Z" fill="#000"/>
<path d="M303.2,1074.2 L306.5,1099.0 L319.7,1095.0 Z" fill="#000"/>
<path d="M393.4,1056.9 L398.4,1083.3 L410.0,1078.4 Z" fill="#000"/>
<path d="M276.6,1137.3 L261.0,1157.0 L273.5,1162.0 Z" fill="#000"/>
<path d="M381.0,1146.6 L365.6,1168.3 L378.0,1172.4 Z" fill="#000"/>
<polygon points="793.2,1069.8 1129.4,1069.8 1016.5,1218.8 680.3,1218.8" fill="#d9d9d9" stroke="#3a3a3a" stroke-width="1.8"/>
<line x1="879.8" y1="1072.3" x2="860.8" y2="1091.3" stroke="#000" stroke-width="1.6"/>
<text transform="translate(790.14,1095.28) scale(1.010,1)" font-family="Liberation Sans" font-weight="bold" font-size="22.25" fill="#000" stroke="#000" stroke-width="0.2">Si</text>
<text transform="translate(741.83,1124.19) scale(0.925,1)" font-family="Liberation Sans" font-size="20.99" fill="#000" stroke="#000" stroke-width="0.55">O</text>
<text transform="translate(845.22,1110.99) scale(1.036,1)" font-family="Liberation Sans" font-size="20.99" fill="#000" stroke="#000" stroke-width="0.55">O</text>
<text transform="translate(808.82,1144.89) scale(1.036,1)" font-family="Liberation Sans" font-size="20.99" fill="#000" stroke="#000" stroke-width="0.55">O</text>
<text transform="translate(865.60,1132.70) scale(0.931,1)" font-family="Liberation Sans" font-weight="bold" font-size="21.59" fill="#000" stroke="#000" stroke-width="0.2">Al</text>
<text transform="translate(884.79,1071.19) scale(0.970,1)" font-family="Liberation Sans" font-weight="bold" font-size="20.99" fill="#000" stroke="#000" stroke-width="0.2">Si</text>
<text transform="translate(968.35,1054.90) scale(1.135,1)" font-family="Liberation Sans" font-weight="bold" font-size="19.28" fill="#000" stroke="#000" stroke-width="0.2">Al</text>
<text transform="translate(939.72,1087.80) scale(1.103,1)" font-family="Liberation Sans" font-size="19.72" fill="#000" stroke="#000" stroke-width="0.55">O</text>
<text transform="translate(1025.87,1070.41) scale(1.107,1)" font-family="Liberation Sans" font-size="18.59" fill="#000" stroke="#000" stroke-width="0.55">O</text>
<text transform="translate(905.13,1119.31) scale(1.029,1)" font-family="Liberation Sans" font-size="18.73" fill="#000" stroke="#000" stroke-width="0.55">O</text>
<text transform="translate(995.33,1102.70) scale(0.978,1)" font-family="Liberation Sans" font-size="19.86" fill="#000" stroke="#000" stroke-width="0.55">O</text>
<text transform="translate(972.49,1140.83) scale(1.172,1)" font-family="Liberation Sans" font-weight="bold" font-size="17.46" fill="#000" stroke="#000" stroke-width="0.2">Si</text>
<text transform="translate(917.82,1155.60) scale(0.958,1)" font-family="Liberation Sans" font-size="20.42" fill="#000" stroke="#000" stroke-width="0.55">O</text>
<text transform="translate(1028.52,1157.60) scale(0.965,1)" font-family="Liberation Sans" font-size="20.28" fill="#000" stroke="#000" stroke-width="0.55">O</text>
<text transform="translate(848.41,1183.53) scale(1.128,1)" font-family="Liberation Sans" font-size="17.46" fill="#000" stroke="#000" stroke-width="0.55">O</text>
<text transform="translate(951.85,1193.81) scale(1.122,1)" font-family="Liberation Sans" font-size="18.87" fill="#000" stroke="#000" stroke-width="0.55">O</text>
<line x1="784.1" y1="1093.0" x2="759.3" y2="1105.4" stroke="#000" stroke-width="1.6"/>
<line x1="750.2" y1="1128.6" x2="750.2" y2="1151.7" stroke="#000" stroke-width="1.6"/>
<line x1="832.1" y1="1136.0" x2="857.8" y2="1127.7" stroke="#000" stroke-width="1.6"/>
<line x1="957.3" y1="1070.6" x2="967.2" y2="1055.7" stroke="#000" stroke-width="1.6"/>
<line x1="1033.4" y1="1076.4" x2="1033.4" y2="1095.5" stroke="#000" stroke-width="1.6"/>
<line x1="912.6" y1="1123.6" x2="912.6" y2="1131.9" stroke="#000" stroke-width="1.6"/>
<line x1="912.9" y1="1150.6" x2="912.9" y2="1169.2" stroke="#000" stroke-width="1.6"/>
<line x1="997.0" y1="1105.4" x2="989.5" y2="1122.0" stroke="#000" stroke-width="1.6"/>
<line x1="940.7" y1="1146.8" x2="964.7" y2="1137.7" stroke="#000" stroke-width="1.6"/>
<line x1="856.5" y1="1193.0" x2="856.5" y2="1207.5" stroke="#000" stroke-width="1.6"/>
<line x1="958.0" y1="1199.2" x2="958.0" y2="1216.8" stroke="#000" stroke-width="1.6"/>
<line x1="1036.6" y1="1163.0" x2="1036.6" y2="1182.7" stroke="#000" stroke-width="1.6"/>
<line x1="814.4" y1="1090.9" x2="815.0" y2="1088.5" stroke="#1e1e1e" stroke-width="1.7"/>
<line x1="819.2" y1="1093.3" x2="820.5" y2="1089.0" stroke="#1e1e1e" stroke-width="1.7"/>
<line x1="824.1" y1="1095.8" x2="825.9" y2="1089.5" stroke="#1e1e1e" stroke-width="1.7"/>
<line x1="828.9" y1="1098.2" x2="831.3" y2="1090.1" stroke="#1e1e1e" stroke-width="1.7"/>
<line x1="833.8" y1="1100.7" x2="836.7" y2="1090.6" stroke="#1e1e1e" stroke-width="1.7"/>
<line x1="838.7" y1="1103.1" x2="842.1" y2="1091.1" stroke="#1e1e1e" stroke-width="1.7"/>
<line x1="908.1" y1="1068.5" x2="908.9" y2="1066.1" stroke="#1e1e1e" stroke-width="1.7"/>
<line x1="913.1" y1="1071.1" x2="914.5" y2="1066.8" stroke="#1e1e1e" stroke-width="1.7"/>
<line x1="918.1" y1="1073.7" x2="920.0" y2="1067.5" stroke="#1e1e1e" stroke-width="1.7"/>
<line x1="923.1" y1="1076.3" x2="925.6" y2="1068.2" stroke="#1e1e1e" stroke-width="1.7"/>
<line x1="928.0" y1="1078.9" x2="931.2" y2="1068.9" stroke="#1e1e1e" stroke-width="1.7"/>
<line x1="933.0" y1="1081.6" x2="936.8" y2="1069.6" stroke="#1e1e1e" stroke-width="1.7"/>
<line x1="998.1" y1="1051.0" x2="999.3" y2="1048.8" stroke="#1e1e1e" stroke-width="1.7"/>
<line x1="1002.9" y1="1054.7" x2="1005.1" y2="1050.7" stroke="#1e1e1e" stroke-width="1.7"/>
<line x1="1007.8" y1="1058.4" x2="1010.8" y2="1052.7" stroke="#1e1e1e" stroke-width="1.7"/>
<line x1="1012.6" y1="1062.1" x2="1016.6" y2="1054.6" stroke="#1e1e1e" stroke-width="1.7"/>
<line x1="1017.4" y1="1065.8" x2="1022.4" y2="1056.5" stroke="#1e1e1e" stroke-width="1.7"/>
<line x1="1022.3" y1="1069.5" x2="1028.1" y2="1058.5" stroke="#1e1e1e" stroke-width="1.7"/>
<line x1="889.6" y1="1133.8" x2="890.6" y2="1131.6" stroke="#1e1e1e" stroke-width="1.7"/>
<line x1="893.8" y1="1136.9" x2="895.7" y2="1132.8" stroke="#1e1e1e" stroke-width="1.7"/>
<line x1="898.0" y1="1140.0" x2="900.7" y2="1134.1" stroke="#1e1e1e" stroke-width="1.7"/>
<line x1="902.2" y1="1143.0" x2="905.8" y2="1135.3" stroke="#1e1e1e" stroke-width="1.7"/>
<line x1="906.4" y1="1146.1" x2="910.8" y2="1136.6" stroke="#1e1e1e" stroke-width="1.7"/>
<line x1="910.6" y1="1149.2" x2="915.8" y2="1137.8" stroke="#1e1e1e" stroke-width="1.7"/>
<line x1="997.3" y1="1137.1" x2="998.3" y2="1134.9" stroke="#1e1e1e" stroke-width="1.7"/>
<line x1="1001.5" y1="1140.2" x2="1003.4" y2="1136.1" stroke="#1e1e1e" stroke-width="1.7"/>
<line x1="1005.7" y1="1143.3" x2="1008.5" y2="1137.4" stroke="#1e1e1e" stroke-width="1.7"/>
<line x1="1009.9" y1="1146.3" x2="1013.5" y2="1138.6" stroke="#1e1e1e" stroke-width="1.7"/>
<line x1="1014.1" y1="1149.4" x2="1018.6" y2="1139.9" stroke="#1e1e1e" stroke-width="1.7"/>
<line x1="1018.4" y1="1152.5" x2="1023.6" y2="1141.1" stroke="#1e1e1e" stroke-width="1.7"/>
<path d="M803.1,1100.4 L807.3,1124.4 L819.7,1122.0 Z" fill="#000"/>
<path d="M897.7,1077.2 L901.0,1102.0 L914.2,1098.0 Z" fill="#000"/>
<path d="M987.9,1059.9 L992.9,1086.3 L1004.5,1081.4 Z" fill="#000"/>
<path d="M871.1,1140.3 L855.5,1160.0 L868.0,1165.0 Z" fill="#000"/>
<path d="M975.5,1149.6 L960.1,1171.3 L972.5,1175.4 Z" fill="#000"/>
<text transform="translate(825.09,1002.10) scale(1.048,1)" font-family="Liberation Sans" font-weight="bold" font-size="20.72" fill="#000" stroke="#000" stroke-width="0.2">Mo</text>
<text transform="translate(793.95,977.10) scale(1.057,1)" font-family="Liberation Sans" font-weight="bold" font-size="20.14" fill="#000" stroke="#000" stroke-width="0.2">O</text>
<text transform="translate(869.22,977.11) scale(1.007,1)" font-family="Liberation Sans" font-weight="bold" font-size="19.30" fill="#000" stroke="#000" stroke-width="0.2">O</text>
<line x1="810.4" y1="979.0" x2="821.5" y2="987.8" stroke="#000" stroke-width="1.5"/>
<line x1="814.7" y1="974.8" x2="826.5" y2="983.5" stroke="#000" stroke-width="1.5"/>
<line x1="854.4" y1="982.8" x2="866.2" y2="974.8" stroke="#000" stroke-width="1.5"/>
<line x1="854.4" y1="987.2" x2="866.9" y2="979.0" stroke="#000" stroke-width="1.5"/>
<path d="M826.5,1004.0 L802.9,1015.7 L809.7,1023.2 Z" fill="#000"/>
<text transform="translate(789.12,1042.20) scale(0.971,1)" font-family="Liberation Sans" font-weight="bold" font-size="20.00" fill="#000" stroke="#000" stroke-width="0.2">O</text>
<line x1="796.3" y1="1048.7" x2="796.3" y2="1072.9" stroke="#000" stroke-width="1.6"/>
<line x1="863.7" y1="1004.4" x2="865.1" y2="1002.2" stroke="#1e1e1e" stroke-width="1.7"/>
<line x1="867.6" y1="1008.2" x2="870.2" y2="1004.0" stroke="#1e1e1e" stroke-width="1.7"/>
<line x1="871.4" y1="1012.1" x2="875.4" y2="1005.7" stroke="#1e1e1e" stroke-width="1.7"/>
<line x1="875.3" y1="1015.9" x2="880.5" y2="1007.5" stroke="#1e1e1e" stroke-width="1.7"/>
<line x1="879.1" y1="1019.8" x2="885.7" y2="1009.2" stroke="#1e1e1e" stroke-width="1.7"/>
<text transform="translate(885.28,1027.31) scale(1.066,1)" font-family="Liberation Sans" font-weight="bold" font-size="19.15" fill="#000" stroke="#000" stroke-width="0.2">O</text>
<line x1="893.0" y1="1033.8" x2="893.0" y2="1053.6" stroke="#000" stroke-width="1.6"/>
<text transform="translate(511.86,1123.98) scale(1.114,1)" font-family="Liberation Serif" font-weight="bold" font-size="18.68" fill="#000" >Catalyst preparation</text>
<rect x="508.2" y="1142.1" width="157" height="4" fill="#000"/>
<path d="M664,1135.5 L681.3,1144.1 L664,1152.8 Z" fill="#000"/></g>
</svg>
</body></html>
